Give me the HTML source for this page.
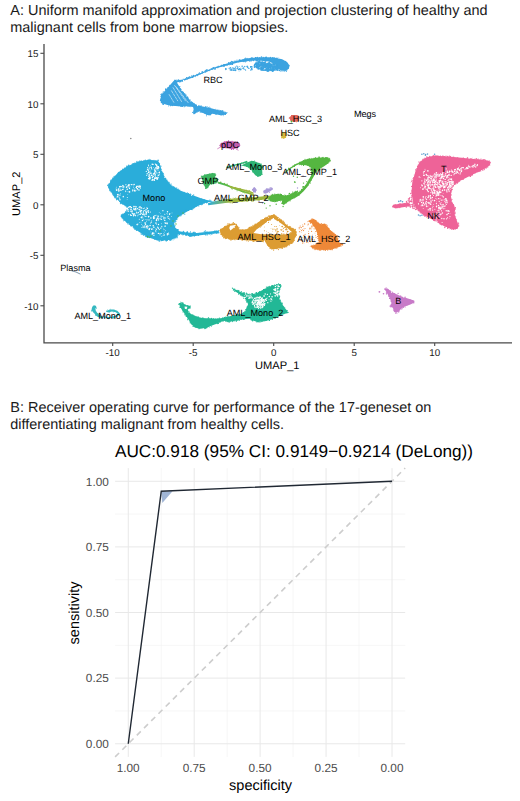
<!DOCTYPE html>
<html><head><meta charset="utf-8"><title>Figure</title>
<style>
html,body{margin:0;padding:0;background:#fff;}
body{width:520px;height:801px;overflow:hidden;}
svg{display:block;font-family:"Liberation Sans",sans-serif;text-rendering:geometricPrecision;}
.cap{font-size:14.46px;fill:#1a1a1a;}
.lab{font-size:9.1px;fill:#000;text-anchor:middle;}
.tk{font-size:9.8px;fill:#1a1a1a;}
.rtk{font-size:11.8px;fill:#4d4d4d;}
</style></head><body>
<svg width="520" height="801" viewBox="0 0 520 801">
<defs>
<filter id="rough" x="-5%" y="-5%" width="110%" height="110%"><feTurbulence type="fractalNoise" baseFrequency="0.35" numOctaves="2" seed="3" result="n"/><feDisplacementMap in="SourceGraphic" in2="n" scale="1.8" xChannelSelector="R" yChannelSelector="G"/></filter>
<filter id="rough2" x="-5%" y="-5%" width="110%" height="110%"><feTurbulence type="fractalNoise" baseFrequency="0.5" numOctaves="2" seed="5" result="n"/><feDisplacementMap in="SourceGraphic" in2="n" scale="1.1" xChannelSelector="R" yChannelSelector="G"/></filter>
</defs>
<rect width="520" height="801" fill="#fff"/>
<g class="cap"><text x="10.3" y="15">A: Uniform manifold approximation and projection clustering of healthy and</text><text x="10.3" y="32">malignant cells from bone marrow biopsies.</text>
<text x="10.3" y="412">B: Receiver operating curve for performance of the 17-geneset on</text><text x="10.3" y="429">differentiating malignant from healthy cells.</text></g>
<g id="umap">
<g fill="#3ba3e0">
<polygon points="173.8,80.8 183.1,79.4 190.8,76.8 198.5,73.7 206.2,70.8 215.0,67.5 222.7,64.7 230.4,62.4 238.1,60.5 245.8,58.5 253.5,57.8 261.2,57.3 268.8,57.3 276.5,57.9 282.7,59.6 287.3,62.2 289.6,65.8 288.8,68.8 285.8,70.8 281.2,70.8 278.1,68.8 276.5,65.8 274.2,63.5 268.8,61.6 261.2,60.7 253.5,60.5 245.8,61.2 238.1,62.5 230.4,64.4 222.7,66.4 215.0,68.4 206.2,72.0 198.5,75.1 190.8,78.2 183.1,80.9 176.9,82.6 181.5,90.0 186.2,96.2 190.8,100.8 195.4,104.6 201.5,106.2 209.2,107.7 216.9,109.7 223.1,111.2 226.9,112.8 225.4,114.6 221.5,115.4 216.9,114.6 212.3,113.8 209.2,115.4 206.2,114.6 201.5,112.3 198.5,110.8 196.2,113.1 193.8,114.6 193.1,111.5 193.8,108.5 193.1,106.9 187.7,106.2 178.5,106.2 169.2,105.4 160.8,103.1 160.8,95.4" filter="url(#rough)"/>
<circle cx="281.8" cy="71.3" r="0.38"/><circle cx="200.0" cy="74.5" r="0.53"/><circle cx="188.7" cy="77.5" r="0.38"/><circle cx="244.0" cy="61.3" r="0.43"/><circle cx="184.6" cy="93.4" r="0.49"/><circle cx="168.0" cy="88.3" r="0.45"/><circle cx="230.4" cy="62.7" r="0.64"/><circle cx="244.3" cy="58.6" r="0.48"/><circle cx="195.6" cy="76.3" r="0.42"/><circle cx="200.9" cy="106.2" r="0.55"/><circle cx="232.2" cy="64.5" r="0.59"/><circle cx="270.4" cy="57.3" r="0.66"/><circle cx="220.6" cy="111.6" r="0.39"/><circle cx="246.5" cy="60.9" r="0.52"/><circle cx="189.2" cy="76.7" r="0.55"/><circle cx="184.2" cy="106.7" r="0.56"/><circle cx="182.5" cy="81.1" r="0.68"/><circle cx="224.0" cy="65.9" r="0.60"/><circle cx="190.2" cy="99.6" r="0.45"/><circle cx="259.8" cy="60.6" r="0.51"/><circle cx="239.8" cy="60.2" r="0.62"/><circle cx="224.3" cy="64.6" r="0.65"/><circle cx="205.0" cy="71.2" r="0.66"/><circle cx="198.9" cy="110.7" r="0.50"/><circle cx="271.4" cy="61.7" r="0.40"/><circle cx="243.0" cy="59.5" r="0.52"/><circle cx="179.5" cy="81.9" r="0.50"/><circle cx="265.8" cy="61.0" r="0.59"/><circle cx="207.5" cy="71.0" r="0.37"/><circle cx="174.6" cy="105.1" r="0.63"/><circle cx="257.0" cy="60.7" r="0.57"/><circle cx="198.6" cy="73.8" r="0.41"/><circle cx="276.9" cy="66.5" r="0.40"/><circle cx="213.4" cy="68.1" r="0.66"/><circle cx="181.1" cy="89.3" r="0.47"/><circle cx="269.1" cy="62.1" r="0.70"/><circle cx="227.1" cy="65.2" r="0.39"/><circle cx="276.3" cy="66.2" r="0.41"/><circle cx="183.7" cy="79.2" r="0.40"/><circle cx="197.7" cy="75.6" r="0.69"/><circle cx="189.3" cy="106.1" r="0.48"/><circle cx="239.3" cy="59.8" r="0.62"/><circle cx="279.5" cy="70.4" r="0.69"/><circle cx="193.6" cy="106.9" r="0.61"/><circle cx="263.3" cy="57.3" r="0.36"/><circle cx="185.1" cy="79.0" r="0.59"/><circle cx="161.1" cy="94.4" r="0.70"/><circle cx="161.3" cy="94.8" r="0.43"/><circle cx="251.4" cy="58.5" r="0.67"/><circle cx="192.8" cy="112.4" r="0.63"/><circle cx="206.6" cy="69.8" r="0.62"/><circle cx="225.4" cy="114.4" r="0.63"/><circle cx="278.7" cy="68.2" r="0.49"/><circle cx="253.9" cy="60.4" r="0.41"/><circle cx="223.8" cy="65.1" r="0.63"/><circle cx="231.4" cy="61.4" r="0.58"/><circle cx="273.8" cy="63.3" r="0.35"/><circle cx="165.6" cy="89.4" r="0.68"/><circle cx="240.6" cy="61.7" r="0.42"/><circle cx="273.9" cy="58.0" r="0.56"/><circle cx="276.8" cy="58.1" r="0.67"/><circle cx="272.3" cy="63.1" r="0.67"/><circle cx="245.8" cy="61.0" r="0.54"/><circle cx="205.2" cy="72.6" r="0.41"/><circle cx="175.5" cy="80.3" r="0.52"/><circle cx="218.9" cy="110.1" r="0.53"/><circle cx="192.6" cy="77.3" r="0.55"/><circle cx="272.4" cy="58.2" r="0.53"/><circle cx="190.2" cy="77.6" r="0.51"/><circle cx="180.2" cy="88.5" r="0.59"/><circle cx="232.3" cy="63.7" r="0.68"/><circle cx="209.4" cy="107.0" r="0.44"/><circle cx="191.6" cy="77.8" r="0.40"/><circle cx="221.1" cy="65.3" r="0.43"/><circle cx="202.2" cy="71.6" r="0.66"/><circle cx="234.1" cy="61.0" r="0.40"/><circle cx="181.6" cy="106.1" r="0.68"/><circle cx="253.6" cy="60.6" r="0.64"/><circle cx="236.7" cy="61.0" r="0.47"/><circle cx="250.6" cy="58.5" r="0.36"/><circle cx="193.0" cy="77.2" r="0.47"/><circle cx="183.2" cy="92.4" r="0.69"/><circle cx="210.5" cy="114.8" r="0.44"/><circle cx="189.7" cy="76.9" r="0.40"/><circle cx="245.4" cy="61.0" r="0.44"/><circle cx="232.6" cy="61.7" r="0.60"/><circle cx="209.3" cy="70.0" r="0.50"/><circle cx="202.7" cy="72.1" r="0.63"/><circle cx="206.7" cy="70.5" r="0.65"/><circle cx="231.9" cy="64.3" r="0.67"/><circle cx="280.7" cy="59.3" r="0.43"/><circle cx="216.6" cy="67.0" r="0.42"/><circle cx="286.1" cy="71.1" r="0.45"/><circle cx="213.9" cy="69.2" r="0.36"/><circle cx="273.9" cy="57.7" r="0.54"/><circle cx="247.5" cy="58.4" r="0.39"/><circle cx="198.5" cy="111.1" r="0.64"/><circle cx="256.3" cy="60.6" r="0.69"/><circle cx="276.6" cy="65.1" r="0.57"/><circle cx="252.0" cy="60.7" r="0.40"/><circle cx="201.6" cy="72.2" r="0.41"/><circle cx="207.3" cy="69.9" r="0.58"/><circle cx="285.7" cy="61.6" r="0.51"/><circle cx="235.2" cy="61.3" r="0.69"/><circle cx="166.1" cy="89.1" r="0.69"/><circle cx="287.1" cy="70.0" r="0.48"/><circle cx="223.6" cy="66.1" r="0.53"/><circle cx="175.8" cy="80.6" r="0.49"/><circle cx="190.8" cy="76.9" r="0.43"/><circle cx="180.3" cy="81.4" r="0.58"/><circle cx="215.8" cy="109.1" r="0.46"/><circle cx="170.0" cy="85.9" r="0.58"/><circle cx="191.7" cy="75.9" r="0.57"/><circle cx="222.7" cy="110.9" r="0.53"/><circle cx="212.4" cy="69.0" r="0.64"/><circle cx="181.9" cy="81.0" r="0.59"/><circle cx="265.1" cy="57.3" r="0.48"/><circle cx="215.0" cy="67.2" r="0.57"/><circle cx="183.7" cy="92.8" r="0.35"/><circle cx="206.7" cy="114.3" r="0.54"/><circle cx="193.9" cy="103.1" r="0.44"/><circle cx="203.0" cy="72.5" r="0.42"/><circle cx="225.3" cy="111.9" r="0.48"/><circle cx="221.8" cy="66.0" r="0.57"/><circle cx="188.5" cy="98.4" r="0.44"/><circle cx="226.1" cy="112.9" r="0.35"/><circle cx="197.7" cy="74.5" r="0.59"/><circle cx="199.2" cy="106.0" r="0.51"/><circle cx="227.7" cy="65.7" r="0.42"/><circle cx="167.9" cy="87.5" r="0.51"/><circle cx="198.9" cy="110.7" r="0.44"/><circle cx="256.9" cy="57.5" r="0.55"/><circle cx="228.3" cy="62.6" r="0.40"/><circle cx="197.7" cy="110.8" r="0.60"/><circle cx="265.8" cy="57.1" r="0.36"/><circle cx="174.9" cy="80.6" r="0.46"/><circle cx="228.6" cy="63.1" r="0.64"/><circle cx="174.6" cy="80.0" r="0.39"/><circle cx="163.5" cy="103.1" r="0.45"/><circle cx="264.4" cy="62.0" r="0.56"/><circle cx="269.8" cy="62.1" r="0.37"/><circle cx="213.7" cy="67.8" r="0.68"/><circle cx="272.8" cy="58.0" r="0.42"/><circle cx="265.6" cy="60.9" r="0.63"/><circle cx="185.8" cy="94.3" r="0.54"/><circle cx="217.5" cy="109.9" r="0.51"/><circle cx="224.5" cy="114.5" r="0.37"/><circle cx="163.8" cy="104.1" r="0.47"/><circle cx="289.5" cy="65.2" r="0.44"/><circle cx="192.1" cy="102.5" r="0.49"/><circle cx="239.5" cy="60.4" r="0.67"/><circle cx="215.0" cy="69.2" r="0.70"/><circle cx="233.8" cy="63.8" r="0.38"/><circle cx="276.8" cy="65.9" r="0.44"/><circle cx="187.5" cy="79.1" r="0.49"/><circle cx="247.9" cy="60.9" r="0.47"/><circle cx="198.1" cy="74.7" r="0.39"/><circle cx="212.0" cy="68.9" r="0.43"/><circle cx="281.6" cy="59.7" r="0.51"/><circle cx="161.6" cy="94.3" r="0.36"/><circle cx="186.6" cy="77.4" r="0.52"/><circle cx="180.6" cy="81.7" r="0.67"/><circle cx="197.4" cy="111.6" r="0.44"/><circle cx="216.6" cy="67.3" r="0.59"/><circle cx="160.7" cy="99.4" r="0.62"/><circle cx="230.6" cy="64.3" r="0.62"/><circle cx="266.4" cy="57.1" r="0.46"/><circle cx="223.7" cy="64.9" r="0.59"/><circle cx="218.0" cy="66.7" r="0.55"/><circle cx="258.9" cy="61.1" r="0.35"/><circle cx="288.3" cy="67.9" r="0.58"/><circle cx="180.7" cy="106.2" r="0.44"/><circle cx="162.9" cy="92.6" r="0.36"/><circle cx="214.2" cy="68.3" r="0.44"/><circle cx="196.2" cy="104.7" r="0.36"/><circle cx="276.8" cy="67.5" r="0.42"/><circle cx="207.0" cy="114.4" r="0.42"/><circle cx="165.3" cy="90.6" r="0.43"/><circle cx="261.4" cy="57.0" r="0.68"/><circle cx="215.5" cy="68.5" r="0.50"/><circle cx="195.4" cy="104.4" r="0.49"/><circle cx="258.1" cy="57.5" r="0.37"/><circle cx="197.0" cy="74.5" r="0.66"/><circle cx="223.0" cy="111.0" r="0.47"/><circle cx="247.2" cy="58.2" r="0.36"/><circle cx="194.7" cy="104.5" r="0.47"/><circle cx="240.5" cy="60.0" r="0.47"/><circle cx="162.3" cy="95.1" r="0.42"/><circle cx="271.9" cy="62.0" r="0.50"/><circle cx="193.1" cy="75.8" r="0.67"/><circle cx="249.3" cy="58.7" r="0.36"/><circle cx="249.7" cy="60.3" r="0.36"/><circle cx="188.6" cy="78.1" r="0.44"/><circle cx="226.6" cy="113.3" r="0.45"/><circle cx="162.0" cy="93.6" r="0.60"/><circle cx="284.5" cy="70.9" r="0.61"/><circle cx="167.1" cy="104.3" r="0.36"/><circle cx="265.7" cy="57.4" r="0.68"/><circle cx="259.5" cy="61.0" r="0.52"/><circle cx="163.2" cy="104.3" r="0.61"/><circle cx="197.7" cy="111.1" r="0.46"/><circle cx="282.9" cy="71.3" r="0.38"/><circle cx="251.5" cy="57.7" r="0.37"/><circle cx="187.1" cy="77.8" r="0.69"/><circle cx="181.4" cy="106.1" r="0.38"/><circle cx="211.0" cy="68.8" r="0.51"/><circle cx="266.3" cy="57.6" r="0.59"/><circle cx="226.4" cy="113.3" r="0.39"/><circle cx="193.1" cy="112.6" r="0.48"/><circle cx="224.4" cy="112.0" r="0.44"/><circle cx="234.1" cy="61.3" r="0.46"/><circle cx="256.0" cy="60.6" r="0.43"/><circle cx="202.1" cy="112.0" r="0.39"/><circle cx="224.0" cy="65.5" r="0.67"/><circle cx="189.9" cy="77.2" r="0.42"/><circle cx="165.7" cy="88.7" r="0.48"/><circle cx="188.0" cy="106.3" r="0.62"/><circle cx="161.1" cy="98.4" r="0.57"/><circle cx="259.7" cy="57.5" r="0.42"/><circle cx="274.8" cy="57.5" r="0.42"/><circle cx="178.2" cy="80.5" r="0.41"/><circle cx="286.4" cy="71.2" r="0.54"/><circle cx="199.0" cy="73.8" r="0.54"/><circle cx="187.4" cy="97.4" r="0.59"/><circle cx="249.9" cy="61.1" r="0.68"/><circle cx="285.8" cy="70.5" r="0.50"/><circle cx="189.3" cy="106.3" r="0.42"/><circle cx="220.3" cy="110.6" r="0.67"/><circle cx="244.4" cy="61.1" r="0.66"/><circle cx="229.3" cy="64.7" r="0.54"/><circle cx="187.8" cy="97.6" r="0.57"/><circle cx="265.7" cy="61.3" r="0.45"/><circle cx="205.8" cy="72.1" r="0.52"/><circle cx="204.3" cy="113.5" r="0.39"/><circle cx="161.2" cy="99.2" r="0.37"/><circle cx="163.2" cy="104.4" r="0.57"/><circle cx="197.5" cy="112.6" r="0.43"/><circle cx="252.5" cy="60.1" r="0.41"/><circle cx="259.7" cy="57.6" r="0.48"/><circle cx="221.8" cy="65.6" r="0.66"/><circle cx="189.7" cy="76.7" r="0.36"/><circle cx="193.8" cy="113.5" r="0.54"/><circle cx="184.0" cy="93.8" r="0.55"/><circle cx="243.2" cy="61.3" r="0.50"/><circle cx="183.1" cy="79.0" r="0.43"/><circle cx="220.3" cy="114.8" r="0.41"/><circle cx="224.5" cy="66.1" r="0.50"/><circle cx="209.3" cy="69.6" r="0.36"/><circle cx="187.0" cy="96.8" r="0.62"/><circle cx="209.8" cy="70.8" r="0.48"/><circle cx="161.2" cy="96.5" r="0.70"/><circle cx="222.0" cy="110.7" r="0.69"/><circle cx="217.7" cy="67.7" r="0.41"/><circle cx="210.5" cy="114.8" r="0.47"/><circle cx="223.6" cy="115.7" r="0.45"/><circle cx="200.3" cy="111.9" r="0.67"/><circle cx="256.0" cy="58.0" r="0.46"/><circle cx="188.7" cy="77.7" r="0.68"/><circle cx="201.1" cy="105.9" r="0.62"/><circle cx="218.2" cy="66.0" r="0.48"/><circle cx="185.0" cy="106.0" r="0.66"/><circle cx="215.2" cy="67.6" r="0.49"/><circle cx="206.6" cy="115.8" r="0.55"/><circle cx="270.2" cy="61.7" r="0.41"/><circle cx="227.0" cy="112.7" r="0.44"/><circle cx="187.7" cy="97.2" r="0.58"/><circle cx="286.1" cy="70.7" r="0.40"/><circle cx="181.0" cy="90.0" r="0.66"/><circle cx="225.4" cy="64.4" r="0.36"/><circle cx="174.8" cy="80.7" r="0.48"/><circle cx="262.2" cy="57.1" r="0.42"/><circle cx="183.1" cy="92.4" r="0.68"/><circle cx="270.6" cy="57.6" r="0.57"/><circle cx="186.2" cy="105.8" r="0.44"/><circle cx="178.3" cy="79.7" r="0.47"/><circle cx="188.4" cy="99.4" r="0.61"/><circle cx="272.6" cy="57.5" r="0.54"/><circle cx="251.5" cy="60.8" r="0.62"/><circle cx="178.1" cy="79.8" r="0.40"/><circle cx="252.1" cy="57.6" r="0.57"/><circle cx="201.0" cy="112.3" r="0.46"/><circle cx="193.6" cy="75.4" r="0.60"/><circle cx="176.8" cy="79.9" r="0.51"/><circle cx="225.4" cy="112.3" r="0.39"/><circle cx="266.2" cy="57.4" r="0.61"/><circle cx="207.5" cy="106.8" r="0.44"/><circle cx="192.6" cy="77.4" r="0.53"/><circle cx="278.8" cy="58.0" r="0.43"/><circle cx="182.8" cy="106.2" r="0.43"/><circle cx="227.0" cy="112.4" r="0.46"/><circle cx="182.3" cy="106.4" r="0.67"/><circle cx="184.8" cy="94.1" r="0.69"/><circle cx="226.1" cy="65.1" r="0.65"/><circle cx="238.7" cy="62.0" r="0.46"/><circle cx="257.4" cy="57.4" r="0.67"/><circle cx="230.5" cy="62.4" r="0.68"/><circle cx="275.7" cy="65.0" r="0.36"/><circle cx="205.8" cy="106.7" r="0.61"/><circle cx="199.4" cy="73.0" r="0.64"/><circle cx="198.7" cy="110.8" r="0.65"/><circle cx="168.6" cy="105.1" r="0.42"/><circle cx="218.2" cy="66.7" r="0.63"/><circle cx="186.1" cy="95.3" r="0.45"/><circle cx="213.3" cy="68.6" r="0.42"/><circle cx="283.4" cy="70.9" r="0.44"/><circle cx="285.8" cy="61.1" r="0.46"/><circle cx="163.3" cy="91.8" r="0.57"/><circle cx="186.0" cy="78.5" r="0.62"/><circle cx="275.0" cy="63.9" r="0.43"/><circle cx="190.4" cy="106.8" r="0.41"/><circle cx="174.6" cy="81.3" r="0.69"/><circle cx="175.2" cy="80.5" r="0.63"/><circle cx="245.9" cy="58.5" r="0.64"/><circle cx="277.7" cy="58.1" r="0.43"/><circle cx="208.8" cy="107.6" r="0.57"/><circle cx="205.7" cy="70.5" r="0.63"/><circle cx="184.1" cy="94.0" r="0.49"/><circle cx="178.9" cy="106.5" r="0.36"/><circle cx="255.1" cy="58.4" r="0.53"/><circle cx="262.7" cy="60.7" r="0.51"/><circle cx="201.7" cy="73.2" r="0.58"/><circle cx="274.5" cy="64.0" r="0.65"/><circle cx="194.2" cy="103.4" r="0.50"/><circle cx="216.1" cy="114.4" r="0.51"/><circle cx="180.4" cy="106.4" r="0.46"/><circle cx="210.5" cy="107.8" r="0.40"/><circle cx="272.0" cy="58.0" r="0.41"/><circle cx="280.3" cy="71.0" r="0.61"/><circle cx="213.8" cy="67.9" r="0.48"/><circle cx="169.6" cy="85.2" r="0.50"/><circle cx="250.9" cy="57.9" r="0.42"/><circle cx="259.1" cy="60.7" r="0.63"/><circle cx="206.0" cy="107.1" r="0.51"/><circle cx="228.9" cy="62.5" r="0.61"/><circle cx="170.6" cy="105.7" r="0.61"/><circle cx="245.3" cy="61.8" r="0.66"/><circle cx="215.8" cy="113.8" r="0.59"/><circle cx="187.7" cy="98.0" r="0.57"/><circle cx="211.5" cy="68.8" r="0.60"/><circle cx="184.7" cy="94.6" r="0.51"/><circle cx="182.3" cy="91.9" r="0.68"/><circle cx="245.3" cy="58.1" r="0.49"/><circle cx="217.8" cy="67.7" r="0.54"/><circle cx="237.0" cy="60.0" r="0.53"/><circle cx="212.9" cy="67.9" r="0.60"/><circle cx="208.7" cy="70.3" r="0.53"/><circle cx="249.9" cy="60.8" r="0.59"/><circle cx="257.1" cy="60.4" r="0.69"/><circle cx="272.3" cy="62.8" r="0.49"/><circle cx="178.9" cy="80.1" r="0.59"/><circle cx="273.3" cy="63.4" r="0.61"/><circle cx="160.5" cy="100.5" r="0.63"/><circle cx="257.3" cy="60.8" r="0.62"/><circle cx="202.1" cy="112.4" r="0.55"/><circle cx="263.6" cy="57.2" r="0.57"/><circle cx="199.1" cy="110.6" r="0.45"/><circle cx="195.8" cy="76.8" r="0.47"/><circle cx="193.7" cy="108.6" r="0.44"/><circle cx="243.3" cy="61.6" r="0.60"/><circle cx="285.4" cy="61.4" r="0.52"/><circle cx="242.0" cy="61.4" r="0.48"/><circle cx="162.8" cy="103.5" r="0.64"/><circle cx="172.0" cy="105.4" r="0.64"/><circle cx="185.7" cy="95.4" r="0.68"/><circle cx="192.3" cy="102.2" r="0.40"/><circle cx="266.5" cy="57.0" r="0.40"/><circle cx="172.7" cy="105.5" r="0.66"/><circle cx="179.8" cy="86.6" r="0.66"/><circle cx="210.6" cy="114.6" r="0.59"/><circle cx="202.0" cy="73.3" r="0.66"/>
</g>
<g stroke="#fff" stroke-width="0.55" fill="none" stroke-linecap="round" stroke-dasharray="2.2 1.3">
<path d="M174.6 85.4 L185.4 100.8"/>
<path d="M173.1 87.7 L181.5 101.5"/>
<path d="M171.5 90.8 L177.7 100.8"/>
<path d="M176.2 86.9 L188.5 103.1"/>
<path d="M169.2 94.6 L173.8 102.3"/>
</g>
<g fill="#3ba3e0">
<circle cx="267.1" cy="63.9" r="0.62"/><circle cx="256.9" cy="66.2" r="0.53"/><circle cx="265.0" cy="62.6" r="0.75"/><circle cx="265.7" cy="66.7" r="0.93"/><circle cx="265.0" cy="67.0" r="0.83"/><circle cx="274.2" cy="65.0" r="0.71"/><circle cx="269.1" cy="67.7" r="0.51"/><circle cx="268.5" cy="68.2" r="0.97"/><circle cx="266.0" cy="66.1" r="0.95"/><circle cx="268.9" cy="64.6" r="0.93"/><circle cx="262.5" cy="66.0" r="0.76"/><circle cx="264.2" cy="65.5" r="0.78"/><circle cx="273.8" cy="64.2" r="0.91"/><circle cx="263.4" cy="66.3" r="0.64"/><circle cx="269.6" cy="69.3" r="0.67"/><circle cx="261.3" cy="64.2" r="0.79"/><circle cx="269.1" cy="69.2" r="0.52"/><circle cx="271.3" cy="70.3" r="0.77"/><circle cx="276.1" cy="67.4" r="0.83"/><circle cx="272.9" cy="70.5" r="0.81"/><circle cx="268.6" cy="67.6" r="0.85"/><circle cx="268.1" cy="68.2" r="0.61"/><circle cx="269.9" cy="65.9" r="0.88"/><circle cx="256.0" cy="63.0" r="0.52"/><circle cx="272.5" cy="70.6" r="0.83"/><circle cx="262.5" cy="69.6" r="0.89"/><circle cx="267.3" cy="63.8" r="0.65"/><circle cx="263.8" cy="64.4" r="0.72"/><circle cx="269.3" cy="70.8" r="0.53"/><circle cx="267.6" cy="70.6" r="0.72"/><circle cx="268.0" cy="70.8" r="0.99"/><circle cx="265.2" cy="65.4" r="0.55"/><circle cx="269.3" cy="63.3" r="0.58"/><circle cx="259.4" cy="68.7" r="0.59"/><circle cx="271.0" cy="70.0" r="0.86"/><circle cx="270.9" cy="65.9" r="0.97"/><circle cx="261.1" cy="68.7" r="0.58"/><circle cx="274.7" cy="66.2" r="0.53"/><circle cx="262.5" cy="67.1" r="0.72"/><circle cx="273.1" cy="64.9" r="0.82"/><circle cx="269.0" cy="65.5" r="0.69"/><circle cx="272.8" cy="70.9" r="0.89"/><circle cx="267.4" cy="64.2" r="0.53"/><circle cx="277.4" cy="68.4" r="0.91"/><circle cx="261.6" cy="67.4" r="0.99"/><circle cx="273.9" cy="67.4" r="0.65"/><circle cx="264.0" cy="70.3" r="0.69"/><circle cx="270.3" cy="67.4" r="0.95"/><circle cx="273.3" cy="64.1" r="0.50"/><circle cx="259.9" cy="65.5" r="0.79"/><circle cx="273.5" cy="70.3" r="0.52"/><circle cx="274.0" cy="69.5" r="0.93"/><circle cx="267.5" cy="64.0" r="0.93"/><circle cx="273.3" cy="68.2" r="0.96"/><circle cx="262.0" cy="62.0" r="0.78"/><circle cx="271.9" cy="70.8" r="0.62"/><circle cx="268.4" cy="68.1" r="0.73"/><circle cx="258.5" cy="63.8" r="0.88"/><circle cx="272.9" cy="65.9" r="0.54"/><circle cx="273.3" cy="69.1" r="0.62"/><circle cx="267.7" cy="70.4" r="0.94"/><circle cx="266.3" cy="66.1" r="0.79"/><circle cx="258.1" cy="63.1" r="0.59"/><circle cx="270.7" cy="64.9" r="0.78"/><circle cx="263.4" cy="66.5" r="0.57"/><circle cx="262.7" cy="62.2" r="0.82"/><circle cx="268.2" cy="64.7" r="0.76"/><circle cx="277.8" cy="70.1" r="0.74"/><circle cx="267.4" cy="63.9" r="0.89"/><circle cx="272.3" cy="69.6" r="0.98"/><circle cx="258.4" cy="63.0" r="0.54"/><circle cx="254.7" cy="66.9" r="0.94"/><circle cx="268.2" cy="65.3" r="0.56"/><circle cx="267.4" cy="67.8" r="0.98"/><circle cx="269.9" cy="65.2" r="0.72"/><circle cx="275.7" cy="69.8" r="0.52"/><circle cx="272.8" cy="68.5" r="0.82"/><circle cx="276.6" cy="68.1" r="0.65"/><circle cx="268.0" cy="69.0" r="0.55"/><circle cx="261.4" cy="63.8" r="0.56"/><circle cx="265.3" cy="62.9" r="0.62"/><circle cx="257.0" cy="68.1" r="0.51"/><circle cx="274.8" cy="70.3" r="0.57"/><circle cx="276.3" cy="69.8" r="0.81"/><circle cx="264.6" cy="64.7" r="0.91"/><circle cx="265.2" cy="67.6" r="0.57"/><circle cx="258.9" cy="61.7" r="0.86"/><circle cx="263.6" cy="62.8" r="0.64"/><circle cx="274.1" cy="64.6" r="0.58"/><circle cx="265.5" cy="64.4" r="0.95"/><circle cx="269.9" cy="63.3" r="0.74"/><circle cx="260.5" cy="63.8" r="0.60"/><circle cx="255.9" cy="64.1" r="0.95"/><circle cx="261.9" cy="62.6" r="0.50"/><circle cx="273.9" cy="66.6" r="0.59"/><circle cx="258.8" cy="67.0" r="0.57"/><circle cx="268.4" cy="66.3" r="0.64"/><circle cx="258.5" cy="67.5" r="0.85"/><circle cx="273.4" cy="67.2" r="0.60"/><circle cx="263.5" cy="68.6" r="0.53"/><circle cx="273.4" cy="64.6" r="0.92"/><circle cx="274.7" cy="66.2" r="0.51"/><circle cx="275.9" cy="66.1" r="0.94"/><circle cx="260.0" cy="63.1" r="0.92"/><circle cx="262.5" cy="62.8" r="0.69"/><circle cx="266.3" cy="65.7" r="0.76"/><circle cx="273.6" cy="70.1" r="0.66"/><circle cx="271.0" cy="65.1" r="0.88"/><circle cx="276.9" cy="66.3" r="0.76"/><circle cx="266.5" cy="66.7" r="0.51"/><circle cx="258.0" cy="62.2" r="0.63"/><circle cx="268.2" cy="67.1" r="0.76"/><circle cx="274.9" cy="68.5" r="0.52"/><circle cx="256.5" cy="66.2" r="0.75"/><circle cx="260.3" cy="62.4" r="0.70"/><circle cx="256.8" cy="67.3" r="0.93"/><circle cx="257.1" cy="67.1" r="0.87"/><circle cx="276.5" cy="65.2" r="0.71"/><circle cx="274.1" cy="66.6" r="0.70"/><circle cx="276.6" cy="69.2" r="0.67"/><circle cx="259.4" cy="64.6" r="0.72"/><circle cx="277.6" cy="69.4" r="0.96"/><circle cx="273.5" cy="69.9" r="0.53"/><circle cx="263.9" cy="67.7" r="0.68"/><circle cx="264.1" cy="66.4" r="0.51"/><circle cx="272.6" cy="70.8" r="0.82"/><circle cx="273.4" cy="70.3" r="0.94"/><circle cx="260.0" cy="68.1" r="0.64"/><circle cx="266.8" cy="70.7" r="0.81"/><circle cx="259.6" cy="66.5" r="0.72"/><circle cx="261.0" cy="67.8" r="0.56"/><circle cx="268.1" cy="71.0" r="0.76"/><circle cx="260.1" cy="66.0" r="0.77"/><circle cx="257.1" cy="62.4" r="0.57"/><circle cx="260.7" cy="65.3" r="0.64"/><circle cx="259.5" cy="62.1" r="0.77"/><circle cx="274.1" cy="67.4" r="0.79"/><circle cx="269.5" cy="63.2" r="0.86"/><circle cx="264.8" cy="66.8" r="0.81"/><circle cx="265.0" cy="64.4" r="0.62"/><circle cx="258.9" cy="66.4" r="0.69"/><circle cx="262.1" cy="70.0" r="0.62"/><circle cx="267.2" cy="66.2" r="0.64"/><circle cx="263.0" cy="65.7" r="0.87"/><circle cx="256.2" cy="63.5" r="0.98"/><circle cx="261.8" cy="64.8" r="0.84"/><circle cx="268.6" cy="69.9" r="0.91"/><circle cx="266.2" cy="68.8" r="0.87"/><circle cx="272.2" cy="66.1" r="0.89"/><circle cx="270.9" cy="70.6" r="0.56"/><circle cx="272.3" cy="67.2" r="0.75"/><circle cx="277.2" cy="67.0" r="0.71"/><circle cx="272.8" cy="70.2" r="0.80"/><circle cx="262.8" cy="65.8" r="0.73"/><circle cx="271.3" cy="64.2" r="0.70"/><circle cx="267.1" cy="65.1" r="0.66"/><circle cx="272.8" cy="69.9" r="0.75"/><circle cx="264.4" cy="63.1" r="0.65"/><circle cx="257.0" cy="67.1" r="0.79"/><circle cx="261.4" cy="69.8" r="0.92"/><circle cx="267.4" cy="66.3" r="0.96"/><circle cx="272.5" cy="66.7" r="1.00"/><circle cx="266.2" cy="66.5" r="0.84"/><circle cx="263.0" cy="64.8" r="0.80"/><circle cx="270.1" cy="66.6" r="0.55"/><circle cx="262.7" cy="65.3" r="0.78"/><circle cx="267.6" cy="70.2" r="0.98"/><circle cx="265.4" cy="65.7" r="0.81"/><circle cx="266.5" cy="69.6" r="0.59"/><circle cx="273.8" cy="66.4" r="0.56"/><circle cx="275.5" cy="68.3" r="0.91"/><circle cx="277.8" cy="70.3" r="0.71"/><circle cx="257.3" cy="64.1" r="0.76"/><circle cx="265.9" cy="63.1" r="0.59"/><circle cx="269.0" cy="67.4" r="0.68"/><circle cx="254.5" cy="65.4" r="0.89"/><circle cx="261.0" cy="68.3" r="0.50"/><circle cx="261.0" cy="69.8" r="0.79"/><circle cx="265.7" cy="66.9" r="0.63"/><circle cx="269.4" cy="66.6" r="1.00"/><circle cx="267.6" cy="65.4" r="0.56"/><circle cx="256.1" cy="62.2" r="0.59"/><circle cx="266.3" cy="69.6" r="0.81"/><circle cx="261.4" cy="68.5" r="0.68"/><circle cx="257.6" cy="63.9" r="0.55"/><circle cx="275.7" cy="67.2" r="0.67"/><circle cx="264.5" cy="65.1" r="0.53"/><circle cx="275.4" cy="67.2" r="0.98"/><circle cx="264.3" cy="67.5" r="0.62"/><circle cx="274.5" cy="64.4" r="0.95"/><circle cx="273.5" cy="64.3" r="0.80"/><circle cx="263.1" cy="68.6" r="0.61"/><circle cx="265.4" cy="69.3" r="0.62"/><circle cx="257.7" cy="64.8" r="0.59"/><circle cx="266.6" cy="65.1" r="0.70"/><circle cx="273.8" cy="64.8" r="0.62"/><circle cx="258.2" cy="64.1" r="0.62"/><circle cx="261.9" cy="62.8" r="0.85"/><circle cx="255.7" cy="63.9" r="0.92"/><circle cx="256.6" cy="65.7" r="0.92"/><circle cx="262.1" cy="68.6" r="0.69"/><circle cx="276.9" cy="66.4" r="0.61"/><circle cx="264.6" cy="62.5" r="0.85"/><circle cx="267.9" cy="64.9" r="0.62"/><circle cx="268.4" cy="63.3" r="0.94"/><circle cx="256.5" cy="66.4" r="0.77"/><circle cx="260.1" cy="69.1" r="0.69"/><circle cx="269.6" cy="67.0" r="0.66"/><circle cx="261.4" cy="68.0" r="0.55"/><circle cx="267.3" cy="64.9" r="0.75"/><circle cx="260.8" cy="61.8" r="0.66"/><circle cx="259.0" cy="62.5" r="0.86"/><circle cx="260.4" cy="65.3" r="0.95"/><circle cx="272.5" cy="70.3" r="0.93"/><circle cx="256.7" cy="64.0" r="0.51"/><circle cx="270.2" cy="68.0" r="0.68"/><circle cx="263.6" cy="67.9" r="0.85"/><circle cx="262.1" cy="67.6" r="0.59"/><circle cx="271.5" cy="68.5" r="0.52"/><circle cx="258.3" cy="64.3" r="0.69"/><circle cx="274.1" cy="67.0" r="0.86"/><circle cx="259.7" cy="65.6" r="0.84"/><circle cx="274.0" cy="69.2" r="0.64"/><circle cx="259.5" cy="62.3" r="0.90"/><circle cx="270.6" cy="65.2" r="0.87"/><circle cx="273.9" cy="64.1" r="0.54"/><circle cx="276.8" cy="65.5" r="0.97"/><circle cx="270.5" cy="68.8" r="0.91"/><circle cx="268.9" cy="65.8" r="0.53"/><circle cx="270.6" cy="65.6" r="0.76"/><circle cx="270.8" cy="69.5" r="0.63"/><circle cx="269.2" cy="66.8" r="0.62"/><circle cx="254.9" cy="64.8" r="0.71"/><circle cx="258.4" cy="64.4" r="0.57"/><circle cx="270.9" cy="68.1" r="0.62"/><circle cx="259.4" cy="66.5" r="0.72"/><circle cx="276.5" cy="64.8" r="0.65"/><circle cx="267.3" cy="64.6" r="0.91"/><circle cx="267.0" cy="69.0" r="0.58"/><circle cx="269.9" cy="67.3" r="0.73"/><circle cx="272.3" cy="69.7" r="0.56"/><circle cx="260.6" cy="64.9" r="0.60"/><circle cx="254.9" cy="64.0" r="0.60"/><circle cx="270.7" cy="65.8" r="0.56"/><circle cx="261.4" cy="66.0" r="0.68"/><circle cx="257.6" cy="61.9" r="0.51"/><circle cx="256.1" cy="66.2" r="0.72"/><circle cx="258.1" cy="66.8" r="0.50"/><circle cx="276.1" cy="67.8" r="0.81"/><circle cx="276.5" cy="67.9" r="0.63"/><circle cx="259.5" cy="62.6" r="0.51"/><circle cx="272.5" cy="69.8" r="0.65"/><circle cx="258.0" cy="67.7" r="0.92"/><circle cx="272.8" cy="69.7" r="0.87"/><circle cx="261.5" cy="63.1" r="0.91"/><circle cx="261.3" cy="65.0" r="0.78"/><circle cx="262.6" cy="69.7" r="0.62"/><circle cx="254.5" cy="67.0" r="0.81"/><circle cx="273.6" cy="68.4" r="0.95"/><circle cx="276.7" cy="66.2" r="0.75"/><circle cx="257.3" cy="64.2" r="0.79"/><circle cx="257.5" cy="65.7" r="0.98"/><circle cx="264.3" cy="63.1" r="0.86"/><circle cx="274.5" cy="69.3" r="0.71"/><circle cx="260.4" cy="68.0" r="0.76"/><circle cx="263.8" cy="64.6" r="0.72"/><circle cx="269.9" cy="69.7" r="0.95"/><circle cx="257.5" cy="64.2" r="0.72"/><circle cx="267.3" cy="64.7" r="0.60"/><circle cx="255.6" cy="64.5" r="0.73"/><circle cx="277.1" cy="67.5" r="0.91"/><circle cx="268.5" cy="64.2" r="0.79"/><circle cx="276.9" cy="66.1" r="0.82"/><circle cx="260.8" cy="64.7" r="0.94"/><circle cx="270.2" cy="65.8" r="0.54"/><circle cx="269.7" cy="65.0" r="0.79"/><circle cx="263.7" cy="66.6" r="0.78"/><circle cx="263.2" cy="62.3" r="0.59"/><circle cx="275.4" cy="66.8" r="0.56"/><circle cx="255.8" cy="66.6" r="0.63"/><circle cx="265.5" cy="66.9" r="0.61"/><circle cx="266.1" cy="67.2" r="0.54"/><circle cx="264.3" cy="70.1" r="0.78"/><circle cx="271.1" cy="69.0" r="0.56"/><circle cx="263.1" cy="62.9" r="0.98"/><circle cx="267.3" cy="69.1" r="0.57"/><circle cx="259.3" cy="65.0" r="0.51"/><circle cx="268.1" cy="63.4" r="0.65"/><circle cx="270.9" cy="65.5" r="0.94"/><circle cx="268.8" cy="70.1" r="0.78"/><circle cx="276.0" cy="70.1" r="0.58"/><circle cx="271.8" cy="64.7" r="0.88"/><circle cx="270.2" cy="69.7" r="0.56"/><circle cx="262.6" cy="68.8" r="0.97"/><circle cx="267.0" cy="69.4" r="0.56"/><circle cx="276.2" cy="68.1" r="0.63"/><circle cx="258.2" cy="65.8" r="0.92"/><circle cx="267.1" cy="64.1" r="0.84"/><circle cx="262.8" cy="62.6" r="0.94"/><circle cx="266.7" cy="68.3" r="0.90"/><circle cx="261.9" cy="62.7" r="0.75"/><circle cx="275.0" cy="69.4" r="0.52"/><circle cx="270.2" cy="65.2" r="0.74"/><circle cx="263.1" cy="70.2" r="0.81"/><circle cx="255.3" cy="64.5" r="0.61"/><circle cx="275.5" cy="67.2" r="0.52"/><circle cx="257.6" cy="64.9" r="0.73"/><circle cx="267.7" cy="65.2" r="0.68"/><circle cx="270.0" cy="64.0" r="0.64"/><circle cx="265.8" cy="63.9" r="0.78"/><circle cx="267.3" cy="69.1" r="0.94"/><circle cx="272.5" cy="67.7" r="0.82"/><circle cx="262.4" cy="64.1" r="0.90"/><circle cx="270.2" cy="64.3" r="0.88"/><circle cx="271.7" cy="66.4" r="0.82"/><circle cx="262.1" cy="66.8" r="0.70"/><circle cx="254.9" cy="64.6" r="0.66"/><circle cx="262.5" cy="63.7" r="0.62"/><circle cx="262.1" cy="62.6" r="0.50"/><circle cx="274.9" cy="65.8" r="0.72"/><circle cx="267.5" cy="64.3" r="0.58"/><circle cx="255.1" cy="64.3" r="0.65"/><circle cx="271.3" cy="66.8" r="0.97"/><circle cx="257.9" cy="67.1" r="0.99"/><circle cx="262.2" cy="69.1" r="0.71"/><circle cx="265.4" cy="70.4" r="0.64"/><circle cx="257.5" cy="63.9" r="0.85"/><circle cx="258.8" cy="65.3" r="0.60"/><circle cx="268.3" cy="70.1" r="0.82"/><circle cx="258.3" cy="68.7" r="0.98"/>
<circle cx="242.3" cy="66.2" r="0.67"/><circle cx="250.5" cy="67.7" r="0.40"/><circle cx="229.9" cy="68.8" r="0.70"/><circle cx="230.6" cy="67.6" r="0.65"/><circle cx="243.7" cy="68.1" r="0.62"/><circle cx="236.7" cy="66.0" r="0.60"/><circle cx="234.3" cy="68.6" r="0.59"/><circle cx="231.9" cy="68.4" r="0.36"/><circle cx="252.0" cy="69.0" r="0.75"/><circle cx="225.9" cy="69.3" r="0.64"/><circle cx="247.2" cy="66.3" r="0.68"/><circle cx="236.9" cy="68.8" r="0.59"/><circle cx="240.9" cy="69.5" r="0.59"/><circle cx="234.2" cy="70.0" r="0.45"/><circle cx="245.6" cy="70.1" r="0.66"/><circle cx="233.5" cy="70.2" r="0.74"/><circle cx="237.8" cy="67.4" r="0.56"/><circle cx="252.5" cy="66.5" r="0.35"/><circle cx="238.5" cy="69.5" r="0.66"/><circle cx="231.1" cy="70.1" r="0.39"/><circle cx="226.0" cy="68.6" r="0.57"/><circle cx="235.2" cy="66.6" r="0.42"/><circle cx="247.6" cy="67.2" r="0.74"/><circle cx="239.2" cy="69.4" r="0.49"/><circle cx="248.2" cy="68.4" r="0.48"/><circle cx="243.6" cy="68.1" r="0.70"/><circle cx="226.0" cy="69.0" r="0.51"/><circle cx="243.0" cy="67.0" r="0.45"/><circle cx="232.1" cy="68.2" r="0.44"/><circle cx="230.3" cy="70.1" r="0.61"/><circle cx="230.7" cy="69.0" r="0.41"/><circle cx="232.2" cy="70.0" r="0.68"/><circle cx="232.7" cy="67.7" r="0.54"/><circle cx="251.0" cy="66.7" r="0.62"/><circle cx="242.2" cy="68.3" r="0.58"/><circle cx="250.7" cy="67.0" r="0.70"/><circle cx="235.0" cy="70.2" r="0.70"/><circle cx="251.6" cy="66.6" r="0.64"/><circle cx="244.7" cy="66.3" r="0.49"/><circle cx="251.8" cy="69.8" r="0.70"/><circle cx="231.3" cy="70.3" r="0.63"/><circle cx="225.4" cy="68.6" r="0.44"/><circle cx="237.1" cy="66.4" r="0.36"/><circle cx="250.6" cy="66.5" r="0.54"/><circle cx="228.3" cy="68.2" r="0.42"/><circle cx="244.8" cy="66.6" r="0.65"/><circle cx="239.3" cy="66.4" r="0.49"/><circle cx="239.1" cy="71.0" r="0.49"/><circle cx="250.7" cy="69.9" r="0.46"/><circle cx="229.5" cy="67.3" r="0.38"/><circle cx="225.5" cy="68.7" r="0.51"/><circle cx="240.9" cy="67.8" r="0.35"/><circle cx="244.9" cy="69.5" r="0.57"/><circle cx="240.7" cy="69.7" r="0.74"/><circle cx="250.5" cy="69.9" r="0.51"/><circle cx="233.8" cy="68.2" r="0.74"/><circle cx="235.8" cy="68.0" r="0.51"/><circle cx="252.0" cy="67.2" r="0.59"/><circle cx="235.5" cy="67.1" r="0.43"/><circle cx="225.7" cy="69.7" r="0.48"/><circle cx="243.6" cy="68.9" r="0.48"/><circle cx="239.5" cy="69.1" r="0.75"/><circle cx="231.3" cy="69.4" r="0.65"/><circle cx="235.6" cy="69.8" r="0.51"/><circle cx="240.0" cy="69.3" r="0.62"/><circle cx="233.9" cy="69.3" r="0.57"/><circle cx="230.9" cy="69.3" r="0.46"/><circle cx="251.5" cy="68.5" r="0.64"/><circle cx="239.9" cy="68.5" r="0.44"/><circle cx="240.1" cy="68.8" r="0.56"/><circle cx="248.6" cy="67.1" r="0.42"/><circle cx="248.9" cy="68.4" r="0.61"/><circle cx="235.7" cy="70.5" r="0.68"/><circle cx="234.9" cy="70.3" r="0.56"/><circle cx="237.8" cy="66.3" r="0.51"/><circle cx="237.7" cy="68.5" r="0.67"/><circle cx="247.0" cy="66.6" r="0.62"/><circle cx="235.2" cy="68.7" r="0.45"/><circle cx="235.4" cy="67.7" r="0.50"/><circle cx="241.3" cy="66.1" r="0.42"/>
</g>
<g fill="#2cadda">
<polygon points="108.1,185.4 112.1,178.7 118.8,171.9 126.9,166.5 137.7,161.7 148.5,159.8 157.9,160.6 159.8,163.8 161.4,169.2 164.6,177.3 171.3,185.4 180.8,190.8 191.5,194.8 202.3,198.8 210.4,201.0 213.6,202.1 210.4,201.7 202.3,203.8 194.2,207.9 186.2,211.9 178.1,217.3 174.0,222.7 175.4,228.1 179.4,231.3 186.2,232.4 196.9,232.9 207.7,231.8 218.5,230.5 218.5,233.2 213.1,233.7 202.3,235.1 191.5,236.4 183.5,234.5 178.1,234.0 176.7,237.5 170.0,240.2 157.9,240.5 147.1,237.0 137.7,231.0 126.9,223.0 120.2,216.0 125.6,211.9 129.6,207.9 121.5,203.8 114.8,197.1 108.1,187.7" filter="url(#rough)"/>
<circle cx="175.8" cy="238.2" r="0.43"/><circle cx="135.1" cy="229.0" r="0.65"/><circle cx="164.3" cy="178.2" r="0.57"/><circle cx="204.1" cy="203.6" r="0.48"/><circle cx="177.1" cy="236.7" r="0.58"/><circle cx="141.7" cy="234.1" r="0.55"/><circle cx="127.0" cy="207.5" r="0.60"/><circle cx="203.2" cy="203.2" r="0.37"/><circle cx="161.3" cy="240.8" r="0.52"/><circle cx="125.6" cy="211.8" r="0.56"/><circle cx="173.6" cy="222.3" r="0.50"/><circle cx="175.3" cy="225.8" r="0.52"/><circle cx="187.3" cy="231.8" r="0.61"/><circle cx="193.8" cy="208.6" r="0.54"/><circle cx="156.7" cy="239.8" r="0.43"/><circle cx="129.5" cy="165.2" r="0.38"/><circle cx="162.6" cy="240.3" r="0.59"/><circle cx="177.3" cy="235.8" r="0.59"/><circle cx="186.1" cy="210.4" r="0.64"/><circle cx="123.7" cy="219.6" r="0.53"/><circle cx="109.6" cy="183.4" r="0.44"/><circle cx="201.7" cy="199.5" r="0.54"/><circle cx="186.5" cy="232.5" r="0.46"/><circle cx="125.1" cy="219.9" r="0.44"/><circle cx="165.6" cy="178.1" r="0.48"/><circle cx="173.5" cy="222.7" r="0.48"/><circle cx="145.4" cy="236.6" r="0.54"/><circle cx="120.6" cy="171.1" r="0.49"/><circle cx="207.3" cy="232.2" r="0.63"/><circle cx="193.7" cy="194.9" r="0.56"/><circle cx="176.8" cy="219.5" r="0.66"/><circle cx="122.4" cy="169.4" r="0.37"/><circle cx="126.5" cy="222.2" r="0.41"/><circle cx="126.7" cy="206.5" r="0.52"/><circle cx="190.2" cy="235.8" r="0.42"/><circle cx="133.9" cy="228.5" r="0.42"/><circle cx="138.5" cy="162.1" r="0.68"/><circle cx="188.4" cy="210.4" r="0.67"/><circle cx="185.9" cy="235.2" r="0.59"/><circle cx="118.2" cy="172.5" r="0.43"/><circle cx="213.8" cy="231.6" r="0.40"/><circle cx="128.1" cy="209.8" r="0.40"/><circle cx="146.2" cy="236.1" r="0.36"/><circle cx="200.4" cy="204.4" r="0.54"/><circle cx="134.5" cy="163.0" r="0.50"/><circle cx="189.1" cy="236.3" r="0.39"/><circle cx="128.2" cy="206.6" r="0.53"/><circle cx="193.2" cy="196.2" r="0.52"/><circle cx="125.3" cy="205.8" r="0.65"/><circle cx="218.3" cy="232.0" r="0.40"/><circle cx="187.2" cy="192.4" r="0.43"/><circle cx="127.3" cy="206.5" r="0.69"/><circle cx="213.9" cy="201.7" r="0.37"/><circle cx="208.9" cy="200.8" r="0.61"/><circle cx="161.7" cy="169.4" r="0.37"/><circle cx="205.7" cy="232.4" r="0.63"/><circle cx="218.3" cy="231.3" r="0.53"/><circle cx="136.4" cy="162.0" r="0.55"/><circle cx="210.2" cy="202.2" r="0.41"/><circle cx="160.9" cy="166.2" r="0.64"/><circle cx="122.8" cy="218.9" r="0.38"/><circle cx="121.9" cy="217.7" r="0.54"/><circle cx="143.9" cy="160.6" r="0.54"/><circle cx="184.8" cy="232.4" r="0.49"/><circle cx="165.7" cy="178.6" r="0.66"/><circle cx="183.2" cy="231.9" r="0.68"/><circle cx="178.5" cy="229.8" r="0.59"/><circle cx="172.0" cy="185.5" r="0.44"/><circle cx="114.6" cy="176.1" r="0.45"/><circle cx="122.7" cy="214.7" r="0.43"/><circle cx="218.6" cy="230.4" r="0.37"/><circle cx="176.5" cy="188.2" r="0.36"/><circle cx="211.4" cy="233.1" r="0.47"/><circle cx="141.1" cy="234.1" r="0.35"/><circle cx="120.9" cy="203.9" r="0.38"/><circle cx="177.2" cy="188.1" r="0.40"/><circle cx="213.5" cy="202.2" r="0.43"/><circle cx="209.9" cy="200.2" r="0.63"/><circle cx="174.9" cy="228.3" r="0.67"/><circle cx="163.3" cy="240.1" r="0.57"/><circle cx="131.0" cy="225.8" r="0.60"/><circle cx="212.7" cy="202.9" r="0.59"/><circle cx="166.3" cy="240.9" r="0.68"/><circle cx="126.5" cy="210.1" r="0.63"/><circle cx="216.4" cy="231.0" r="0.62"/><circle cx="123.4" cy="220.7" r="0.54"/><circle cx="120.7" cy="202.9" r="0.63"/><circle cx="179.9" cy="189.9" r="0.42"/><circle cx="175.6" cy="221.2" r="0.67"/><circle cx="185.9" cy="234.7" r="0.62"/><circle cx="147.3" cy="236.2" r="0.64"/><circle cx="192.1" cy="209.6" r="0.64"/><circle cx="210.9" cy="200.9" r="0.63"/><circle cx="108.9" cy="183.9" r="0.39"/><circle cx="141.0" cy="233.7" r="0.51"/><circle cx="210.1" cy="201.3" r="0.65"/><circle cx="211.2" cy="234.1" r="0.44"/><circle cx="179.4" cy="234.4" r="0.63"/><circle cx="145.3" cy="160.2" r="0.64"/><circle cx="162.2" cy="172.7" r="0.48"/><circle cx="171.1" cy="184.1" r="0.66"/><circle cx="194.5" cy="207.2" r="0.53"/><circle cx="109.6" cy="190.2" r="0.41"/><circle cx="193.2" cy="232.7" r="0.68"/><circle cx="176.4" cy="219.3" r="0.47"/><circle cx="137.0" cy="161.4" r="0.53"/><circle cx="202.6" cy="203.7" r="0.58"/><circle cx="128.7" cy="165.3" r="0.69"/><circle cx="207.0" cy="202.0" r="0.48"/><circle cx="190.5" cy="231.7" r="0.52"/><circle cx="206.7" cy="202.7" r="0.64"/><circle cx="186.3" cy="235.1" r="0.61"/><circle cx="122.3" cy="213.6" r="0.36"/><circle cx="206.9" cy="200.7" r="0.66"/><circle cx="154.0" cy="160.0" r="0.37"/><circle cx="196.4" cy="206.2" r="0.45"/><circle cx="159.1" cy="241.0" r="0.50"/><circle cx="111.2" cy="192.0" r="0.59"/><circle cx="201.2" cy="204.6" r="0.59"/><circle cx="189.1" cy="194.3" r="0.64"/><circle cx="147.6" cy="237.4" r="0.53"/><circle cx="122.3" cy="218.4" r="0.41"/><circle cx="201.7" cy="198.6" r="0.48"/><circle cx="114.5" cy="196.2" r="0.46"/><circle cx="120.5" cy="203.1" r="0.50"/><circle cx="140.7" cy="161.6" r="0.48"/><circle cx="114.9" cy="197.6" r="0.67"/><circle cx="177.7" cy="217.8" r="0.62"/><circle cx="202.8" cy="199.5" r="0.51"/><circle cx="204.7" cy="231.4" r="0.45"/><circle cx="207.4" cy="202.3" r="0.45"/><circle cx="207.1" cy="235.2" r="0.36"/><circle cx="136.5" cy="230.3" r="0.68"/><circle cx="184.5" cy="192.3" r="0.54"/><circle cx="162.4" cy="239.9" r="0.63"/><circle cx="141.6" cy="161.6" r="0.69"/><circle cx="205.4" cy="233.9" r="0.49"/><circle cx="121.3" cy="203.2" r="0.49"/><circle cx="143.5" cy="235.0" r="0.66"/><circle cx="194.0" cy="232.7" r="0.67"/><circle cx="150.2" cy="160.1" r="0.49"/><circle cx="183.7" cy="231.4" r="0.55"/><circle cx="192.1" cy="208.6" r="0.65"/><circle cx="149.7" cy="237.6" r="0.59"/><circle cx="161.5" cy="240.4" r="0.66"/><circle cx="167.0" cy="239.7" r="0.66"/><circle cx="149.2" cy="159.2" r="0.56"/><circle cx="188.5" cy="193.7" r="0.64"/><circle cx="187.3" cy="193.5" r="0.38"/><circle cx="190.4" cy="235.8" r="0.48"/><circle cx="181.4" cy="234.6" r="0.46"/><circle cx="108.6" cy="184.1" r="0.45"/><circle cx="122.9" cy="169.1" r="0.63"/><circle cx="117.5" cy="173.2" r="0.43"/><circle cx="207.2" cy="234.8" r="0.55"/><circle cx="169.1" cy="182.3" r="0.64"/><circle cx="142.6" cy="234.2" r="0.62"/><circle cx="113.9" cy="176.4" r="0.37"/><circle cx="207.1" cy="233.9" r="0.49"/><circle cx="186.8" cy="232.3" r="0.65"/><circle cx="108.5" cy="186.0" r="0.47"/><circle cx="110.3" cy="190.4" r="0.40"/><circle cx="176.2" cy="218.8" r="0.51"/><circle cx="212.5" cy="202.1" r="0.45"/><circle cx="163.7" cy="174.7" r="0.50"/><circle cx="164.2" cy="176.2" r="0.44"/><circle cx="205.3" cy="230.9" r="0.61"/><circle cx="119.8" cy="201.1" r="0.60"/><circle cx="124.6" cy="168.2" r="0.65"/><circle cx="174.3" cy="238.1" r="0.47"/><circle cx="158.9" cy="163.1" r="0.46"/><circle cx="118.9" cy="172.5" r="0.66"/><circle cx="143.9" cy="235.1" r="0.39"/><circle cx="158.1" cy="160.3" r="0.70"/><circle cx="128.6" cy="208.6" r="0.64"/><circle cx="148.7" cy="160.2" r="0.53"/><circle cx="166.9" cy="180.2" r="0.67"/><circle cx="178.7" cy="235.0" r="0.50"/><circle cx="170.2" cy="240.4" r="0.64"/><circle cx="150.7" cy="160.0" r="0.55"/><circle cx="201.9" cy="204.5" r="0.63"/><circle cx="175.1" cy="222.7" r="0.54"/><circle cx="127.0" cy="166.9" r="0.66"/><circle cx="176.9" cy="229.2" r="0.44"/><circle cx="126.6" cy="210.9" r="0.56"/><circle cx="147.6" cy="160.5" r="0.55"/><circle cx="204.6" cy="234.3" r="0.37"/><circle cx="174.1" cy="238.9" r="0.49"/><circle cx="190.7" cy="235.9" r="0.58"/><circle cx="183.3" cy="234.6" r="0.67"/><circle cx="218.8" cy="232.7" r="0.70"/><circle cx="171.2" cy="186.2" r="0.64"/><circle cx="205.7" cy="234.5" r="0.38"/><circle cx="112.1" cy="193.2" r="0.37"/><circle cx="176.1" cy="187.8" r="0.59"/><circle cx="124.0" cy="204.7" r="0.44"/><circle cx="158.7" cy="160.7" r="0.39"/><circle cx="112.7" cy="194.0" r="0.63"/><circle cx="159.5" cy="163.8" r="0.63"/><circle cx="122.0" cy="214.6" r="0.65"/><circle cx="204.2" cy="231.7" r="0.57"/><circle cx="218.5" cy="230.7" r="0.37"/><circle cx="199.8" cy="233.1" r="0.35"/><circle cx="166.8" cy="240.4" r="0.63"/><circle cx="176.0" cy="221.2" r="0.42"/><circle cx="184.8" cy="214.3" r="0.54"/><circle cx="211.4" cy="202.1" r="0.65"/><circle cx="130.5" cy="225.7" r="0.46"/><circle cx="159.6" cy="240.9" r="0.69"/><circle cx="157.0" cy="240.1" r="0.39"/><circle cx="182.9" cy="234.2" r="0.51"/><circle cx="190.7" cy="209.0" r="0.67"/><circle cx="171.0" cy="239.0" r="0.64"/><circle cx="177.1" cy="237.7" r="0.65"/><circle cx="183.5" cy="213.6" r="0.68"/><circle cx="179.7" cy="215.9" r="0.46"/><circle cx="212.2" cy="202.1" r="0.51"/><circle cx="110.4" cy="191.0" r="0.62"/><circle cx="134.5" cy="228.0" r="0.45"/><circle cx="178.8" cy="189.8" r="0.43"/><circle cx="121.3" cy="215.2" r="0.62"/><circle cx="155.2" cy="238.9" r="0.54"/><circle cx="139.5" cy="161.1" r="0.57"/><circle cx="204.2" cy="202.8" r="0.41"/><circle cx="194.0" cy="232.3" r="0.68"/><circle cx="191.7" cy="209.1" r="0.69"/><circle cx="133.9" cy="163.8" r="0.67"/><circle cx="110.7" cy="181.6" r="0.70"/><circle cx="160.6" cy="169.0" r="0.59"/><circle cx="165.6" cy="240.0" r="0.44"/><circle cx="114.0" cy="176.3" r="0.44"/><circle cx="114.4" cy="196.6" r="0.58"/><circle cx="218.3" cy="231.8" r="0.37"/><circle cx="126.3" cy="167.2" r="0.40"/><circle cx="141.2" cy="160.9" r="0.59"/><circle cx="187.4" cy="193.0" r="0.39"/><circle cx="197.5" cy="197.7" r="0.51"/><circle cx="173.1" cy="239.9" r="0.47"/><circle cx="136.0" cy="229.3" r="0.43"/><circle cx="128.3" cy="223.2" r="0.45"/><circle cx="110.4" cy="183.0" r="0.41"/><circle cx="195.4" cy="235.5" r="0.41"/><circle cx="155.2" cy="161.0" r="0.48"/><circle cx="198.4" cy="235.4" r="0.37"/><circle cx="111.2" cy="180.3" r="0.69"/><circle cx="206.6" cy="202.5" r="0.63"/><circle cx="179.2" cy="190.5" r="0.39"/><circle cx="178.5" cy="189.1" r="0.48"/><circle cx="158.4" cy="240.7" r="0.43"/><circle cx="198.8" cy="205.9" r="0.52"/><circle cx="124.7" cy="220.2" r="0.64"/><circle cx="174.4" cy="186.9" r="0.39"/><circle cx="175.0" cy="221.1" r="0.39"/><circle cx="175.8" cy="228.6" r="0.50"/><circle cx="144.8" cy="160.7" r="0.51"/><circle cx="122.4" cy="204.3" r="0.43"/><circle cx="165.5" cy="239.9" r="0.69"/><circle cx="128.0" cy="223.9" r="0.53"/><circle cx="176.0" cy="188.6" r="0.42"/><circle cx="131.4" cy="165.5" r="0.51"/><circle cx="171.6" cy="239.9" r="0.46"/><circle cx="165.7" cy="178.5" r="0.39"/><circle cx="110.0" cy="190.8" r="0.35"/><circle cx="198.3" cy="235.6" r="0.51"/><circle cx="167.4" cy="240.2" r="0.52"/><circle cx="216.7" cy="233.2" r="0.63"/><circle cx="119.8" cy="201.3" r="0.48"/><circle cx="126.1" cy="211.8" r="0.56"/><circle cx="125.9" cy="212.0" r="0.36"/><circle cx="180.8" cy="215.8" r="0.61"/><circle cx="214.9" cy="230.8" r="0.59"/><circle cx="110.9" cy="181.1" r="0.52"/><circle cx="187.4" cy="232.3" r="0.70"/><circle cx="210.7" cy="234.9" r="0.42"/><circle cx="107.8" cy="185.6" r="0.69"/><circle cx="204.6" cy="199.8" r="0.58"/><circle cx="112.7" cy="178.1" r="0.64"/><circle cx="107.8" cy="185.1" r="0.51"/><circle cx="206.2" cy="231.8" r="0.43"/><circle cx="145.6" cy="160.3" r="0.40"/><circle cx="190.2" cy="232.2" r="0.37"/><circle cx="174.0" cy="187.3" r="0.51"/><circle cx="191.1" cy="209.3" r="0.65"/><circle cx="116.6" cy="200.1" r="0.49"/><circle cx="121.2" cy="170.4" r="0.36"/><circle cx="192.9" cy="196.6" r="0.65"/><circle cx="185.9" cy="211.5" r="0.63"/><circle cx="198.0" cy="235.6" r="0.44"/><circle cx="195.7" cy="235.4" r="0.66"/><circle cx="115.3" cy="197.8" r="0.66"/><circle cx="209.8" cy="232.2" r="0.44"/><circle cx="174.1" cy="187.6" r="0.59"/><circle cx="128.1" cy="165.4" r="0.52"/><circle cx="191.0" cy="236.2" r="0.52"/><circle cx="188.7" cy="235.2" r="0.41"/><circle cx="116.4" cy="198.3" r="0.50"/><circle cx="116.6" cy="199.3" r="0.69"/><circle cx="125.3" cy="212.9" r="0.48"/><circle cx="194.4" cy="235.8" r="0.43"/><circle cx="168.3" cy="181.9" r="0.40"/><circle cx="191.4" cy="209.3" r="0.55"/><circle cx="120.4" cy="202.9" r="0.60"/><circle cx="181.4" cy="215.7" r="0.36"/><circle cx="189.8" cy="236.3" r="0.69"/><circle cx="157.9" cy="239.8" r="0.57"/><circle cx="178.9" cy="234.0" r="0.62"/><circle cx="197.3" cy="197.8" r="0.56"/><circle cx="130.2" cy="224.7" r="0.42"/><circle cx="110.4" cy="180.3" r="0.45"/><circle cx="127.2" cy="166.5" r="0.59"/><circle cx="108.9" cy="184.4" r="0.60"/><circle cx="109.8" cy="189.9" r="0.68"/><circle cx="113.7" cy="195.6" r="0.53"/><circle cx="203.9" cy="199.6" r="0.44"/><circle cx="122.3" cy="169.9" r="0.38"/><circle cx="209.3" cy="233.9" r="0.63"/><circle cx="171.8" cy="239.8" r="0.42"/><circle cx="125.0" cy="205.6" r="0.40"/><circle cx="182.8" cy="235.0" r="0.43"/><circle cx="146.6" cy="236.4" r="0.56"/><circle cx="163.2" cy="173.4" r="0.63"/><circle cx="173.3" cy="186.5" r="0.55"/><circle cx="152.3" cy="160.7" r="0.39"/><circle cx="205.7" cy="235.0" r="0.50"/><circle cx="195.2" cy="232.7" r="0.60"/><circle cx="169.7" cy="184.2" r="0.59"/><circle cx="213.3" cy="233.6" r="0.46"/><circle cx="194.7" cy="236.3" r="0.43"/><circle cx="156.2" cy="239.2" r="0.69"/><circle cx="147.3" cy="237.4" r="0.60"/><circle cx="122.2" cy="169.5" r="0.37"/><circle cx="188.3" cy="233.3" r="0.66"/><circle cx="174.7" cy="222.1" r="0.53"/><circle cx="190.2" cy="233.2" r="0.54"/><circle cx="154.5" cy="239.4" r="0.49"/><circle cx="176.8" cy="229.9" r="0.43"/><circle cx="202.9" cy="199.3" r="0.62"/><circle cx="202.6" cy="203.8" r="0.68"/><circle cx="211.9" cy="234.2" r="0.57"/><circle cx="190.5" cy="194.2" r="0.67"/><circle cx="147.9" cy="159.9" r="0.45"/><circle cx="126.5" cy="166.1" r="0.50"/><circle cx="132.3" cy="164.2" r="0.69"/><circle cx="120.7" cy="171.3" r="0.40"/><circle cx="140.2" cy="161.4" r="0.54"/><circle cx="135.0" cy="229.2" r="0.62"/><circle cx="184.8" cy="213.0" r="0.43"/><circle cx="113.3" cy="194.9" r="0.61"/>
</g>
<g fill="#fff">
<circle cx="158.2" cy="166.6" r="0.56"/><circle cx="158.2" cy="170.1" r="0.48"/><circle cx="147.2" cy="173.7" r="0.68"/><circle cx="155.1" cy="174.9" r="0.78"/><circle cx="157.9" cy="177.1" r="0.50"/><circle cx="153.0" cy="176.5" r="0.56"/><circle cx="155.7" cy="171.8" r="0.73"/><circle cx="151.7" cy="175.4" r="0.69"/><circle cx="151.4" cy="175.3" r="0.54"/><circle cx="155.8" cy="164.5" r="0.61"/><circle cx="159.1" cy="172.5" r="0.62"/><circle cx="158.5" cy="166.8" r="0.50"/><circle cx="156.7" cy="165.4" r="0.47"/><circle cx="150.1" cy="176.1" r="0.51"/><circle cx="151.3" cy="174.1" r="0.45"/><circle cx="156.8" cy="168.9" r="0.64"/><circle cx="157.6" cy="166.9" r="0.46"/><circle cx="158.5" cy="168.1" r="0.80"/><circle cx="152.2" cy="164.3" r="0.72"/><circle cx="152.9" cy="179.3" r="0.52"/><circle cx="154.4" cy="169.2" r="0.59"/><circle cx="149.7" cy="179.0" r="0.51"/><circle cx="156.6" cy="165.1" r="0.75"/><circle cx="157.4" cy="178.7" r="0.68"/><circle cx="150.5" cy="165.5" r="0.37"/><circle cx="156.6" cy="167.1" r="0.56"/><circle cx="149.7" cy="178.7" r="0.70"/><circle cx="155.2" cy="169.0" r="0.50"/><circle cx="153.0" cy="174.9" r="0.50"/><circle cx="159.2" cy="173.3" r="0.45"/><circle cx="154.6" cy="173.0" r="0.68"/><circle cx="154.5" cy="177.8" r="0.53"/><circle cx="155.2" cy="163.7" r="0.49"/><circle cx="148.5" cy="165.7" r="0.56"/><circle cx="157.8" cy="167.5" r="0.49"/><circle cx="156.7" cy="167.1" r="0.40"/><circle cx="147.6" cy="167.7" r="0.58"/><circle cx="148.5" cy="172.6" r="0.75"/><circle cx="151.4" cy="168.5" r="0.51"/><circle cx="148.5" cy="178.7" r="0.66"/><circle cx="157.7" cy="178.1" r="0.37"/><circle cx="149.1" cy="168.8" r="0.67"/><circle cx="151.1" cy="173.2" r="0.59"/><circle cx="155.7" cy="164.8" r="0.51"/><circle cx="154.0" cy="179.7" r="0.71"/><circle cx="154.3" cy="180.3" r="0.80"/><circle cx="149.1" cy="174.3" r="0.67"/><circle cx="155.8" cy="170.3" r="0.49"/><circle cx="150.1" cy="178.8" r="0.43"/><circle cx="148.3" cy="170.2" r="0.65"/><circle cx="157.3" cy="178.9" r="0.80"/><circle cx="147.2" cy="169.0" r="0.43"/><circle cx="157.4" cy="168.4" r="0.69"/><circle cx="155.9" cy="168.0" r="0.77"/><circle cx="153.3" cy="173.3" r="0.58"/><circle cx="158.3" cy="166.9" r="0.78"/><circle cx="146.3" cy="171.4" r="0.60"/><circle cx="156.4" cy="177.6" r="0.71"/><circle cx="148.2" cy="175.2" r="0.47"/><circle cx="152.3" cy="177.8" r="0.58"/><circle cx="150.9" cy="172.5" r="0.35"/><circle cx="149.8" cy="178.4" r="0.69"/><circle cx="153.3" cy="176.5" r="0.58"/><circle cx="155.5" cy="178.2" r="0.76"/><circle cx="154.6" cy="178.6" r="0.67"/><circle cx="153.0" cy="164.4" r="0.67"/><circle cx="152.1" cy="180.2" r="0.77"/><circle cx="159.4" cy="174.8" r="0.55"/><circle cx="154.6" cy="173.2" r="0.71"/><circle cx="151.8" cy="169.0" r="0.56"/><circle cx="148.5" cy="165.1" r="0.50"/><circle cx="153.4" cy="167.6" r="0.44"/><circle cx="155.4" cy="176.9" r="0.63"/><circle cx="152.1" cy="175.4" r="0.45"/><circle cx="155.6" cy="174.0" r="0.49"/><circle cx="150.0" cy="171.9" r="0.57"/><circle cx="146.6" cy="175.3" r="0.57"/><circle cx="157.5" cy="169.9" r="0.44"/><circle cx="150.8" cy="170.1" r="0.43"/><circle cx="158.3" cy="175.3" r="0.79"/><circle cx="149.6" cy="175.1" r="0.54"/><circle cx="149.5" cy="178.0" r="0.53"/><circle cx="156.7" cy="178.8" r="0.61"/><circle cx="159.4" cy="172.3" r="0.68"/><circle cx="149.6" cy="177.7" r="0.76"/><circle cx="149.2" cy="175.4" r="0.48"/><circle cx="147.6" cy="169.6" r="0.68"/><circle cx="155.5" cy="170.9" r="0.51"/><circle cx="156.7" cy="165.6" r="0.62"/><circle cx="151.2" cy="167.3" r="0.78"/><circle cx="148.8" cy="170.3" r="0.43"/><circle cx="158.0" cy="177.7" r="0.71"/><circle cx="156.9" cy="172.9" r="0.57"/><circle cx="148.8" cy="172.1" r="0.75"/><circle cx="150.0" cy="177.3" r="0.77"/><circle cx="149.9" cy="167.2" r="0.50"/><circle cx="148.9" cy="176.6" r="0.70"/><circle cx="152.7" cy="177.5" r="0.52"/><circle cx="148.6" cy="178.5" r="0.59"/><circle cx="152.3" cy="177.1" r="0.72"/><circle cx="156.1" cy="178.3" r="0.36"/><circle cx="153.6" cy="174.1" r="0.71"/><circle cx="155.0" cy="175.4" r="0.38"/><circle cx="152.5" cy="179.7" r="0.67"/><circle cx="158.8" cy="167.3" r="0.60"/><circle cx="154.8" cy="170.7" r="0.77"/><circle cx="150.2" cy="173.6" r="0.69"/><circle cx="155.7" cy="167.7" r="0.39"/><circle cx="157.2" cy="166.4" r="0.62"/><circle cx="154.4" cy="171.7" r="0.38"/>
<circle cx="129.5" cy="188.4" r="0.67"/><circle cx="124.8" cy="187.0" r="0.42"/><circle cx="132.6" cy="190.8" r="0.65"/><circle cx="136.3" cy="187.5" r="0.79"/><circle cx="120.0" cy="189.0" r="0.46"/><circle cx="129.5" cy="191.9" r="0.80"/><circle cx="126.4" cy="186.4" r="0.43"/><circle cx="132.8" cy="189.9" r="0.68"/><circle cx="137.5" cy="189.1" r="0.66"/><circle cx="137.1" cy="188.6" r="0.71"/><circle cx="119.6" cy="186.8" r="0.75"/><circle cx="121.5" cy="186.6" r="0.53"/><circle cx="140.2" cy="186.7" r="0.76"/><circle cx="123.1" cy="187.4" r="0.43"/><circle cx="119.4" cy="190.2" r="0.35"/><circle cx="132.0" cy="184.6" r="0.58"/><circle cx="140.5" cy="188.1" r="0.54"/><circle cx="122.9" cy="185.4" r="0.68"/><circle cx="116.5" cy="190.1" r="0.78"/><circle cx="137.9" cy="186.6" r="0.49"/><circle cx="122.8" cy="189.5" r="0.76"/><circle cx="131.3" cy="184.6" r="0.72"/><circle cx="139.6" cy="187.8" r="0.49"/><circle cx="128.3" cy="186.0" r="0.62"/><circle cx="135.1" cy="191.1" r="0.57"/><circle cx="125.9" cy="191.8" r="0.39"/><circle cx="139.0" cy="186.5" r="0.42"/><circle cx="128.7" cy="185.0" r="0.76"/><circle cx="120.2" cy="186.6" r="0.77"/><circle cx="138.5" cy="189.8" r="0.40"/><circle cx="127.2" cy="189.3" r="0.74"/><circle cx="116.9" cy="189.2" r="0.47"/><circle cx="126.6" cy="184.8" r="0.39"/><circle cx="116.1" cy="188.1" r="0.45"/><circle cx="123.8" cy="186.3" r="0.52"/><circle cx="139.9" cy="186.1" r="0.80"/><circle cx="118.5" cy="189.3" r="0.71"/><circle cx="128.5" cy="185.3" r="0.74"/><circle cx="116.9" cy="190.3" r="0.56"/><circle cx="136.9" cy="190.3" r="0.42"/><circle cx="126.6" cy="187.2" r="0.79"/><circle cx="116.4" cy="187.1" r="0.41"/><circle cx="122.4" cy="186.1" r="0.46"/><circle cx="129.0" cy="187.3" r="0.57"/><circle cx="139.0" cy="189.9" r="0.75"/><circle cx="137.3" cy="188.6" r="0.56"/><circle cx="125.7" cy="184.7" r="0.50"/><circle cx="133.5" cy="187.3" r="0.41"/><circle cx="129.9" cy="186.7" r="0.43"/><circle cx="119.9" cy="188.0" r="0.42"/><circle cx="136.7" cy="186.8" r="0.70"/><circle cx="128.0" cy="191.8" r="0.45"/><circle cx="137.1" cy="186.3" r="0.79"/><circle cx="129.5" cy="184.9" r="0.59"/><circle cx="133.7" cy="185.9" r="0.39"/><circle cx="138.8" cy="186.1" r="0.66"/><circle cx="127.8" cy="186.1" r="0.56"/><circle cx="134.1" cy="184.5" r="0.77"/><circle cx="134.2" cy="190.8" r="0.60"/><circle cx="123.3" cy="188.9" r="0.41"/><circle cx="118.3" cy="188.5" r="0.47"/><circle cx="121.0" cy="190.2" r="0.69"/><circle cx="123.2" cy="187.1" r="0.75"/><circle cx="118.8" cy="190.9" r="0.79"/><circle cx="134.8" cy="190.4" r="0.79"/><circle cx="120.2" cy="190.0" r="0.49"/><circle cx="134.2" cy="188.3" r="0.41"/><circle cx="125.6" cy="191.1" r="0.60"/><circle cx="139.0" cy="186.9" r="0.51"/><circle cx="138.6" cy="187.0" r="0.59"/>
<circle cx="144.4" cy="207.9" r="0.51"/><circle cx="130.9" cy="209.3" r="0.79"/><circle cx="137.5" cy="215.9" r="0.38"/><circle cx="147.4" cy="211.2" r="0.44"/><circle cx="132.2" cy="210.9" r="0.73"/><circle cx="131.4" cy="207.4" r="0.77"/><circle cx="148.5" cy="210.8" r="0.67"/><circle cx="140.1" cy="211.0" r="0.54"/><circle cx="144.7" cy="210.5" r="0.61"/><circle cx="146.0" cy="211.2" r="0.76"/><circle cx="143.3" cy="211.2" r="0.43"/><circle cx="139.2" cy="209.6" r="0.77"/><circle cx="135.6" cy="215.7" r="0.58"/><circle cx="130.9" cy="215.4" r="0.53"/><circle cx="135.8" cy="209.8" r="0.72"/><circle cx="141.6" cy="210.8" r="0.69"/><circle cx="136.3" cy="212.9" r="0.51"/><circle cx="129.8" cy="206.8" r="0.80"/><circle cx="148.0" cy="210.8" r="0.64"/><circle cx="143.3" cy="214.6" r="0.60"/><circle cx="128.6" cy="214.7" r="0.46"/><circle cx="140.5" cy="212.5" r="0.42"/><circle cx="142.3" cy="214.0" r="0.61"/><circle cx="128.6" cy="209.8" r="0.59"/><circle cx="140.4" cy="211.1" r="0.54"/><circle cx="138.0" cy="215.3" r="0.46"/><circle cx="140.1" cy="208.8" r="0.39"/><circle cx="128.4" cy="211.4" r="0.50"/><circle cx="137.6" cy="208.7" r="0.65"/><circle cx="141.8" cy="208.1" r="0.58"/><circle cx="146.7" cy="209.2" r="0.43"/><circle cx="140.6" cy="211.6" r="0.50"/><circle cx="146.6" cy="213.1" r="0.54"/><circle cx="133.4" cy="214.3" r="0.77"/><circle cx="137.2" cy="213.0" r="0.49"/><circle cx="131.0" cy="215.3" r="0.67"/><circle cx="131.9" cy="211.9" r="0.37"/><circle cx="146.3" cy="214.2" r="0.64"/><circle cx="143.1" cy="214.3" r="0.38"/><circle cx="128.9" cy="210.9" r="0.40"/><circle cx="136.4" cy="206.8" r="0.58"/><circle cx="142.6" cy="214.6" r="0.54"/><circle cx="134.8" cy="209.7" r="0.76"/><circle cx="143.6" cy="211.1" r="0.53"/><circle cx="138.3" cy="212.4" r="0.66"/><circle cx="145.1" cy="210.9" r="0.47"/><circle cx="133.8" cy="208.9" r="0.53"/><circle cx="133.5" cy="208.0" r="0.42"/><circle cx="146.3" cy="212.6" r="0.80"/><circle cx="140.9" cy="210.2" r="0.58"/><circle cx="130.8" cy="211.2" r="0.65"/><circle cx="133.5" cy="215.7" r="0.72"/><circle cx="131.8" cy="211.3" r="0.57"/><circle cx="145.1" cy="214.0" r="0.66"/><circle cx="148.4" cy="212.2" r="0.71"/><circle cx="143.0" cy="212.8" r="0.37"/><circle cx="130.3" cy="214.4" r="0.52"/><circle cx="135.3" cy="208.4" r="0.79"/><circle cx="136.2" cy="211.1" r="0.39"/><circle cx="135.1" cy="206.4" r="0.64"/><circle cx="144.3" cy="214.9" r="0.67"/><circle cx="143.5" cy="213.0" r="0.65"/><circle cx="139.9" cy="211.0" r="0.51"/><circle cx="146.9" cy="207.5" r="0.49"/><circle cx="147.4" cy="208.6" r="0.74"/><circle cx="128.6" cy="207.2" r="0.60"/><circle cx="140.3" cy="214.4" r="0.57"/><circle cx="132.5" cy="213.6" r="0.58"/><circle cx="131.4" cy="209.8" r="0.47"/><circle cx="127.1" cy="210.9" r="0.54"/><circle cx="133.9" cy="209.2" r="0.59"/><circle cx="135.0" cy="215.3" r="0.67"/><circle cx="139.0" cy="207.5" r="0.46"/><circle cx="145.9" cy="209.4" r="0.52"/><circle cx="134.8" cy="214.1" r="0.67"/><circle cx="141.1" cy="207.8" r="0.68"/><circle cx="139.2" cy="214.3" r="0.51"/><circle cx="134.1" cy="213.8" r="0.69"/><circle cx="136.3" cy="208.7" r="0.46"/><circle cx="139.4" cy="207.0" r="0.65"/><circle cx="136.5" cy="212.2" r="0.51"/><circle cx="150.4" cy="212.0" r="0.59"/><circle cx="130.4" cy="206.7" r="0.71"/><circle cx="138.1" cy="213.9" r="0.40"/><circle cx="140.4" cy="206.9" r="0.57"/><circle cx="132.0" cy="212.9" r="0.57"/><circle cx="133.9" cy="206.4" r="0.73"/><circle cx="143.3" cy="208.6" r="0.54"/><circle cx="131.6" cy="215.5" r="0.43"/><circle cx="141.1" cy="213.2" r="0.76"/>
<circle cx="157.5" cy="218.3" r="0.73"/><circle cx="160.1" cy="218.7" r="0.44"/><circle cx="153.4" cy="217.2" r="0.40"/><circle cx="160.7" cy="219.0" r="0.53"/><circle cx="145.3" cy="219.7" r="0.36"/><circle cx="144.4" cy="225.1" r="0.35"/><circle cx="142.3" cy="227.0" r="0.50"/><circle cx="146.6" cy="216.3" r="0.43"/><circle cx="165.0" cy="222.8" r="0.62"/><circle cx="150.1" cy="225.4" r="0.73"/><circle cx="158.5" cy="219.9" r="0.61"/><circle cx="143.9" cy="219.9" r="0.37"/><circle cx="146.1" cy="227.7" r="0.62"/><circle cx="146.4" cy="221.8" r="0.45"/><circle cx="148.1" cy="226.8" r="0.51"/><circle cx="156.5" cy="220.4" r="0.79"/><circle cx="152.9" cy="229.4" r="0.46"/><circle cx="143.6" cy="219.4" r="0.37"/><circle cx="156.1" cy="215.1" r="0.47"/><circle cx="153.8" cy="216.5" r="0.79"/><circle cx="161.3" cy="223.7" r="0.45"/><circle cx="142.0" cy="217.0" r="0.73"/><circle cx="142.5" cy="220.5" r="0.71"/><circle cx="158.5" cy="224.5" r="0.69"/><circle cx="137.2" cy="224.9" r="0.39"/><circle cx="144.8" cy="222.9" r="0.35"/><circle cx="156.0" cy="223.3" r="0.52"/><circle cx="141.6" cy="224.3" r="0.48"/><circle cx="148.6" cy="216.5" r="0.79"/><circle cx="157.6" cy="227.0" r="0.57"/><circle cx="141.7" cy="227.4" r="0.44"/><circle cx="158.9" cy="218.7" r="0.50"/><circle cx="143.0" cy="218.0" r="0.48"/><circle cx="165.5" cy="226.0" r="0.52"/><circle cx="161.8" cy="226.3" r="0.59"/><circle cx="147.7" cy="226.1" r="0.73"/><circle cx="146.5" cy="226.4" r="0.78"/><circle cx="145.5" cy="225.9" r="0.42"/><circle cx="145.2" cy="216.4" r="0.55"/><circle cx="145.6" cy="224.2" r="0.71"/><circle cx="137.9" cy="223.9" r="0.52"/><circle cx="151.7" cy="220.7" r="0.45"/><circle cx="164.8" cy="220.4" r="0.65"/><circle cx="141.0" cy="222.1" r="0.44"/><circle cx="158.0" cy="227.7" r="0.66"/><circle cx="151.3" cy="228.4" r="0.41"/><circle cx="147.0" cy="219.8" r="0.58"/><circle cx="147.4" cy="227.5" r="0.41"/><circle cx="139.5" cy="222.7" r="0.41"/><circle cx="147.3" cy="228.1" r="0.60"/><circle cx="141.5" cy="217.3" r="0.61"/><circle cx="153.9" cy="227.2" r="0.72"/><circle cx="139.3" cy="219.2" r="0.51"/><circle cx="137.1" cy="224.5" r="0.72"/><circle cx="149.0" cy="219.9" r="0.63"/><circle cx="167.1" cy="223.6" r="0.79"/><circle cx="150.9" cy="217.9" r="0.73"/><circle cx="158.4" cy="228.5" r="0.58"/><circle cx="167.0" cy="222.7" r="0.55"/><circle cx="158.4" cy="216.2" r="0.59"/><circle cx="156.7" cy="219.3" r="0.75"/><circle cx="150.6" cy="223.1" r="0.50"/><circle cx="155.9" cy="222.9" r="0.63"/><circle cx="156.6" cy="224.2" r="0.48"/><circle cx="149.2" cy="229.5" r="0.76"/><circle cx="162.9" cy="216.2" r="0.55"/><circle cx="154.4" cy="217.9" r="0.77"/><circle cx="157.1" cy="215.6" r="0.45"/><circle cx="164.9" cy="226.2" r="0.60"/><circle cx="140.7" cy="217.2" r="0.41"/><circle cx="148.6" cy="216.8" r="0.70"/><circle cx="145.2" cy="223.0" r="0.78"/><circle cx="149.3" cy="228.8" r="0.72"/><circle cx="152.2" cy="228.7" r="0.53"/><circle cx="153.2" cy="225.7" r="0.78"/><circle cx="144.3" cy="226.2" r="0.58"/><circle cx="165.7" cy="223.2" r="0.69"/><circle cx="158.8" cy="218.6" r="0.44"/><circle cx="144.1" cy="227.6" r="0.65"/><circle cx="142.4" cy="225.2" r="0.42"/><circle cx="161.6" cy="219.3" r="0.58"/><circle cx="153.6" cy="218.5" r="0.68"/><circle cx="143.3" cy="227.7" r="0.39"/><circle cx="149.9" cy="228.3" r="0.57"/><circle cx="143.3" cy="226.3" r="0.45"/><circle cx="151.4" cy="222.1" r="0.71"/><circle cx="151.6" cy="229.3" r="0.60"/><circle cx="141.8" cy="218.2" r="0.41"/><circle cx="153.5" cy="217.7" r="0.74"/><circle cx="155.0" cy="215.6" r="0.72"/>
<circle cx="152.4" cy="233.6" r="0.78"/><circle cx="161.2" cy="233.5" r="0.54"/><circle cx="156.1" cy="231.9" r="0.45"/><circle cx="164.2" cy="229.7" r="0.42"/><circle cx="163.1" cy="235.5" r="0.44"/><circle cx="152.8" cy="232.6" r="0.55"/><circle cx="150.9" cy="231.9" r="0.36"/><circle cx="164.0" cy="231.0" r="0.37"/><circle cx="160.8" cy="228.2" r="0.59"/><circle cx="161.8" cy="236.3" r="0.49"/><circle cx="159.3" cy="229.6" r="0.61"/><circle cx="156.4" cy="229.6" r="0.57"/><circle cx="167.4" cy="233.6" r="0.66"/><circle cx="164.2" cy="235.0" r="0.68"/><circle cx="167.4" cy="234.7" r="0.74"/><circle cx="164.7" cy="232.8" r="0.39"/><circle cx="160.0" cy="233.5" r="0.57"/><circle cx="160.0" cy="234.7" r="0.56"/><circle cx="153.9" cy="235.2" r="0.68"/><circle cx="163.6" cy="233.6" r="0.35"/><circle cx="158.4" cy="233.4" r="0.66"/><circle cx="161.9" cy="227.1" r="0.44"/><circle cx="168.5" cy="233.0" r="0.54"/><circle cx="165.7" cy="230.7" r="0.49"/><circle cx="168.7" cy="234.1" r="0.58"/><circle cx="153.8" cy="233.2" r="0.70"/><circle cx="163.4" cy="229.0" r="0.43"/><circle cx="152.1" cy="234.6" r="0.53"/><circle cx="156.0" cy="228.8" r="0.56"/><circle cx="155.6" cy="230.9" r="0.60"/>
<circle cx="123.5" cy="196.2" r="0.52"/><circle cx="127.8" cy="194.3" r="0.36"/><circle cx="117.6" cy="194.7" r="0.73"/><circle cx="119.2" cy="197.3" r="0.49"/><circle cx="120.4" cy="193.7" r="0.44"/><circle cx="118.0" cy="194.5" r="0.65"/><circle cx="127.3" cy="197.4" r="0.50"/><circle cx="118.2" cy="195.7" r="0.41"/><circle cx="119.9" cy="195.1" r="0.71"/><circle cx="120.0" cy="199.8" r="0.71"/><circle cx="127.1" cy="199.3" r="0.38"/><circle cx="123.2" cy="196.8" r="0.68"/><circle cx="119.7" cy="198.2" r="0.53"/><circle cx="116.8" cy="197.0" r="0.41"/><circle cx="117.7" cy="196.7" r="0.79"/>
<circle cx="161.1" cy="217.7" r="0.45"/><circle cx="169.5" cy="214.3" r="0.64"/><circle cx="167.5" cy="211.7" r="0.69"/><circle cx="164.5" cy="217.0" r="0.37"/><circle cx="157.9" cy="216.8" r="0.44"/><circle cx="158.5" cy="216.9" r="0.47"/><circle cx="168.3" cy="218.5" r="0.54"/><circle cx="172.0" cy="212.9" r="0.46"/><circle cx="160.2" cy="213.6" r="0.37"/><circle cx="157.8" cy="217.0" r="0.49"/><circle cx="159.2" cy="212.4" r="0.38"/><circle cx="167.3" cy="214.1" r="0.49"/><circle cx="164.8" cy="214.2" r="0.52"/><circle cx="168.9" cy="217.9" r="0.36"/><circle cx="167.2" cy="217.3" r="0.39"/><circle cx="168.0" cy="216.4" r="0.58"/><circle cx="169.7" cy="219.1" r="0.54"/><circle cx="165.0" cy="217.9" r="0.73"/><circle cx="171.6" cy="216.5" r="0.39"/><circle cx="169.8" cy="213.7" r="0.62"/><circle cx="166.7" cy="213.6" r="0.38"/><circle cx="162.9" cy="210.7" r="0.67"/><circle cx="164.0" cy="219.2" r="0.43"/><circle cx="161.1" cy="216.2" r="0.61"/><circle cx="163.7" cy="218.0" r="0.64"/>
</g>
<g fill="#54b640">
<circle cx="147.5" cy="236.5" r="0.7"/>
<circle cx="149.0" cy="237.2" r="0.7"/>
<circle cx="151.0" cy="236.0" r="0.7"/>
<circle cx="171.0" cy="226.0" r="0.7"/>
<circle cx="173.0" cy="221.0" r="0.7"/>
<circle cx="176.0" cy="224.0" r="0.7"/>
<circle cx="160.0" cy="231.0" r="0.7"/>
<circle cx="178.0" cy="216.0" r="0.7"/>
<circle cx="183.0" cy="213.0" r="0.7"/>
</g>
<g fill="#ee6398">
<polygon points="419.6,161.9 426.5,157.3 434.6,155.7 445.0,156.2 456.5,157.3 468.1,158.5 479.6,159.6 488.8,160.8 490.7,161.9 490.0,164.9 486.5,167.7 479.6,171.2 472.7,174.6 465.8,178.1 458.8,181.5 454.2,185.0 451.9,189.6 450.8,195.4 451.9,201.2 454.2,205.8 455.4,209.2 454.2,213.8 456.5,219.6 458.4,225.4 457.7,228.8 454.2,229.5 447.3,227.7 440.4,224.2 434.6,220.8 427.7,217.3 421.9,214.1 415.7,207.6 412.7,200.5 411.8,194.2 411.8,188.5 412.2,182.7 413.8,176.9 416.2,170.0" filter="url(#rough)"/>
<circle cx="440.5" cy="155.4" r="0.43"/><circle cx="447.4" cy="156.4" r="0.60"/><circle cx="471.0" cy="175.5" r="0.45"/><circle cx="418.7" cy="165.6" r="0.68"/><circle cx="484.9" cy="159.7" r="0.42"/><circle cx="418.9" cy="161.9" r="0.55"/><circle cx="438.9" cy="155.7" r="0.44"/><circle cx="458.5" cy="225.8" r="0.60"/><circle cx="442.9" cy="155.9" r="0.52"/><circle cx="452.7" cy="229.0" r="0.42"/><circle cx="415.3" cy="171.8" r="0.48"/><circle cx="441.4" cy="224.1" r="0.49"/><circle cx="454.0" cy="213.9" r="0.68"/><circle cx="416.3" cy="168.9" r="0.51"/><circle cx="413.5" cy="202.9" r="0.60"/><circle cx="414.3" cy="176.0" r="0.44"/><circle cx="420.6" cy="213.1" r="0.48"/><circle cx="419.4" cy="210.2" r="0.58"/><circle cx="462.6" cy="158.4" r="0.42"/><circle cx="480.7" cy="170.9" r="0.60"/><circle cx="476.3" cy="158.9" r="0.65"/><circle cx="488.1" cy="166.8" r="0.35"/><circle cx="457.6" cy="182.5" r="0.65"/><circle cx="472.7" cy="175.2" r="0.43"/><circle cx="483.8" cy="160.1" r="0.60"/><circle cx="455.1" cy="216.9" r="0.45"/><circle cx="415.6" cy="170.0" r="0.66"/><circle cx="450.5" cy="156.6" r="0.60"/><circle cx="416.8" cy="208.4" r="0.63"/><circle cx="457.8" cy="157.4" r="0.49"/><circle cx="467.5" cy="157.9" r="0.62"/><circle cx="457.0" cy="227.8" r="0.63"/><circle cx="453.9" cy="214.1" r="0.48"/><circle cx="444.2" cy="156.7" r="0.68"/><circle cx="453.1" cy="228.5" r="0.62"/><circle cx="454.8" cy="184.2" r="0.46"/><circle cx="446.0" cy="155.8" r="0.44"/><circle cx="444.6" cy="226.1" r="0.40"/><circle cx="450.3" cy="196.0" r="0.70"/><circle cx="455.7" cy="183.4" r="0.41"/><circle cx="416.8" cy="168.8" r="0.51"/><circle cx="423.0" cy="159.4" r="0.68"/><circle cx="463.0" cy="179.0" r="0.56"/><circle cx="479.5" cy="160.1" r="0.49"/><circle cx="453.3" cy="229.4" r="0.56"/><circle cx="419.4" cy="163.1" r="0.35"/><circle cx="442.9" cy="156.2" r="0.64"/><circle cx="442.0" cy="224.4" r="0.56"/><circle cx="455.8" cy="216.6" r="0.44"/><circle cx="458.7" cy="226.7" r="0.48"/><circle cx="450.7" cy="194.9" r="0.61"/><circle cx="418.4" cy="210.5" r="0.56"/><circle cx="412.5" cy="194.1" r="0.37"/><circle cx="411.6" cy="191.9" r="0.67"/><circle cx="415.0" cy="205.1" r="0.55"/><circle cx="470.4" cy="176.4" r="0.57"/><circle cx="480.6" cy="169.9" r="0.55"/><circle cx="410.9" cy="182.5" r="0.36"/><circle cx="452.6" cy="186.6" r="0.69"/><circle cx="457.4" cy="227.2" r="0.54"/><circle cx="439.6" cy="223.7" r="0.46"/><circle cx="412.5" cy="193.0" r="0.36"/><circle cx="453.2" cy="228.9" r="0.48"/><circle cx="476.6" cy="158.8" r="0.56"/><circle cx="482.1" cy="168.8" r="0.62"/><circle cx="415.0" cy="174.1" r="0.48"/><circle cx="478.4" cy="171.6" r="0.55"/><circle cx="423.8" cy="215.1" r="0.44"/><circle cx="451.1" cy="194.9" r="0.64"/><circle cx="465.4" cy="177.5" r="0.37"/><circle cx="482.3" cy="170.1" r="0.46"/><circle cx="440.2" cy="224.1" r="0.63"/><circle cx="451.9" cy="199.3" r="0.64"/><circle cx="475.0" cy="158.8" r="0.43"/><circle cx="420.4" cy="161.2" r="0.38"/><circle cx="425.5" cy="215.4" r="0.64"/><circle cx="417.7" cy="166.3" r="0.67"/><circle cx="485.6" cy="167.4" r="0.65"/><circle cx="454.3" cy="213.6" r="0.54"/><circle cx="453.8" cy="156.2" r="0.43"/><circle cx="441.1" cy="224.5" r="0.62"/><circle cx="425.4" cy="216.3" r="0.45"/><circle cx="423.5" cy="215.6" r="0.41"/><circle cx="445.2" cy="157.0" r="0.41"/><circle cx="437.1" cy="155.6" r="0.58"/><circle cx="439.8" cy="156.6" r="0.66"/><circle cx="463.5" cy="179.2" r="0.47"/><circle cx="481.0" cy="159.1" r="0.62"/><circle cx="453.6" cy="204.4" r="0.48"/><circle cx="489.9" cy="165.5" r="0.42"/><circle cx="482.9" cy="170.3" r="0.57"/><circle cx="450.7" cy="192.6" r="0.68"/><circle cx="453.9" cy="184.3" r="0.44"/><circle cx="485.5" cy="160.6" r="0.62"/><circle cx="457.4" cy="158.1" r="0.52"/><circle cx="470.4" cy="175.2" r="0.48"/><circle cx="449.6" cy="156.1" r="0.67"/><circle cx="449.9" cy="228.9" r="0.45"/><circle cx="454.5" cy="184.3" r="0.67"/><circle cx="411.9" cy="180.0" r="0.40"/><circle cx="412.1" cy="180.5" r="0.49"/><circle cx="419.5" cy="164.2" r="0.64"/><circle cx="471.9" cy="174.8" r="0.61"/><circle cx="452.1" cy="189.0" r="0.63"/><circle cx="434.7" cy="220.9" r="0.43"/><circle cx="471.0" cy="175.5" r="0.66"/><circle cx="414.1" cy="174.9" r="0.39"/><circle cx="435.4" cy="155.7" r="0.51"/><circle cx="417.5" cy="166.3" r="0.50"/><circle cx="463.2" cy="157.7" r="0.54"/><circle cx="459.7" cy="181.5" r="0.52"/><circle cx="456.0" cy="184.1" r="0.42"/><circle cx="432.3" cy="156.6" r="0.62"/><circle cx="411.8" cy="190.2" r="0.50"/><circle cx="454.2" cy="205.9" r="0.37"/><circle cx="448.0" cy="227.5" r="0.67"/><circle cx="415.3" cy="207.0" r="0.54"/><circle cx="451.5" cy="229.0" r="0.52"/><circle cx="427.0" cy="156.6" r="0.45"/><circle cx="455.6" cy="184.3" r="0.41"/><circle cx="415.2" cy="208.0" r="0.47"/><circle cx="416.9" cy="209.1" r="0.49"/><circle cx="455.1" cy="213.1" r="0.59"/><circle cx="453.6" cy="204.6" r="0.47"/><circle cx="477.9" cy="159.4" r="0.51"/><circle cx="412.0" cy="194.1" r="0.46"/><circle cx="478.2" cy="159.1" r="0.60"/><circle cx="477.4" cy="171.7" r="0.64"/><circle cx="417.2" cy="166.3" r="0.35"/><circle cx="412.3" cy="192.6" r="0.49"/><circle cx="424.6" cy="215.9" r="0.62"/><circle cx="455.4" cy="208.6" r="0.36"/><circle cx="424.5" cy="215.9" r="0.35"/><circle cx="484.8" cy="159.6" r="0.57"/><circle cx="456.0" cy="183.0" r="0.42"/><circle cx="453.4" cy="205.0" r="0.42"/><circle cx="486.4" cy="167.9" r="0.47"/><circle cx="433.7" cy="220.3" r="0.61"/><circle cx="448.4" cy="156.2" r="0.38"/><circle cx="482.9" cy="160.0" r="0.66"/><circle cx="413.7" cy="177.6" r="0.59"/><circle cx="454.7" cy="212.9" r="0.68"/><circle cx="422.3" cy="160.4" r="0.42"/><circle cx="458.8" cy="181.6" r="0.64"/><circle cx="487.8" cy="167.5" r="0.45"/><circle cx="473.4" cy="159.2" r="0.39"/><circle cx="464.7" cy="158.7" r="0.51"/><circle cx="486.9" cy="166.7" r="0.60"/><circle cx="479.6" cy="171.1" r="0.55"/><circle cx="451.6" cy="190.8" r="0.66"/><circle cx="458.6" cy="224.0" r="0.66"/><circle cx="426.8" cy="156.9" r="0.54"/><circle cx="413.6" cy="203.8" r="0.58"/><circle cx="467.6" cy="158.1" r="0.69"/><circle cx="466.7" cy="158.2" r="0.45"/><circle cx="449.0" cy="157.0" r="0.41"/><circle cx="420.1" cy="212.0" r="0.65"/><circle cx="451.1" cy="157.5" r="0.51"/><circle cx="413.2" cy="178.8" r="0.69"/><circle cx="479.7" cy="171.4" r="0.42"/><circle cx="455.2" cy="207.9" r="0.65"/><circle cx="423.7" cy="214.5" r="0.38"/><circle cx="416.1" cy="172.4" r="0.60"/><circle cx="484.8" cy="168.1" r="0.61"/><circle cx="429.8" cy="156.5" r="0.63"/><circle cx="452.1" cy="189.2" r="0.54"/><circle cx="424.9" cy="158.3" r="0.65"/><circle cx="444.8" cy="227.5" r="0.68"/><circle cx="416.0" cy="172.7" r="0.60"/><circle cx="458.6" cy="222.9" r="0.50"/><circle cx="456.8" cy="219.8" r="0.36"/><circle cx="412.8" cy="180.7" r="0.40"/><circle cx="419.1" cy="162.9" r="0.40"/><circle cx="411.6" cy="186.7" r="0.40"/><circle cx="462.7" cy="179.6" r="0.50"/><circle cx="433.1" cy="156.0" r="0.68"/><circle cx="413.2" cy="201.6" r="0.59"/><circle cx="450.6" cy="195.0" r="0.53"/><circle cx="418.9" cy="211.0" r="0.50"/><circle cx="487.0" cy="161.0" r="0.58"/><circle cx="454.7" cy="213.7" r="0.53"/><circle cx="418.5" cy="164.7" r="0.46"/><circle cx="486.3" cy="168.3" r="0.36"/><circle cx="411.7" cy="181.3" r="0.59"/><circle cx="433.9" cy="220.0" r="0.61"/><circle cx="470.9" cy="158.6" r="0.62"/><circle cx="461.1" cy="158.5" r="0.63"/><circle cx="417.6" cy="167.4" r="0.39"/><circle cx="435.3" cy="220.5" r="0.62"/><circle cx="450.9" cy="200.5" r="0.58"/><circle cx="450.7" cy="228.4" r="0.61"/><circle cx="454.9" cy="215.0" r="0.50"/><circle cx="457.9" cy="181.8" r="0.49"/><circle cx="458.7" cy="182.1" r="0.38"/><circle cx="423.2" cy="159.0" r="0.51"/><circle cx="456.2" cy="219.6" r="0.36"/><circle cx="412.1" cy="193.3" r="0.51"/><circle cx="484.3" cy="169.6" r="0.64"/><circle cx="480.5" cy="160.4" r="0.63"/><circle cx="451.9" cy="189.3" r="0.63"/><circle cx="412.2" cy="195.9" r="0.56"/><circle cx="418.0" cy="165.0" r="0.40"/><circle cx="433.8" cy="155.7" r="0.63"/><circle cx="447.7" cy="228.2" r="0.68"/><circle cx="458.9" cy="225.8" r="0.50"/><circle cx="483.4" cy="159.7" r="0.39"/><circle cx="477.1" cy="159.9" r="0.46"/><circle cx="456.9" cy="182.8" r="0.60"/><circle cx="482.9" cy="169.6" r="0.46"/><circle cx="457.9" cy="223.1" r="0.57"/><circle cx="455.5" cy="229.4" r="0.39"/><circle cx="455.0" cy="212.0" r="0.57"/><circle cx="411.6" cy="186.4" r="0.56"/><circle cx="489.4" cy="160.8" r="0.44"/><circle cx="457.2" cy="182.8" r="0.42"/><circle cx="452.3" cy="157.3" r="0.49"/><circle cx="426.6" cy="217.2" r="0.49"/><circle cx="424.1" cy="214.8" r="0.67"/><circle cx="483.5" cy="160.0" r="0.59"/><circle cx="470.1" cy="176.2" r="0.66"/><circle cx="475.0" cy="172.9" r="0.53"/><circle cx="471.9" cy="159.2" r="0.59"/><circle cx="455.5" cy="207.4" r="0.50"/><circle cx="436.0" cy="156.1" r="0.64"/><circle cx="455.2" cy="209.3" r="0.45"/><circle cx="489.9" cy="162.4" r="0.63"/><circle cx="441.5" cy="224.1" r="0.39"/><circle cx="429.9" cy="157.0" r="0.53"/><circle cx="414.7" cy="206.0" r="0.43"/><circle cx="417.8" cy="165.9" r="0.37"/><circle cx="417.7" cy="167.1" r="0.39"/><circle cx="451.3" cy="229.6" r="0.45"/><circle cx="444.5" cy="156.9" r="0.69"/>
</g>
<g fill="#fff">
<circle cx="431.0" cy="176.6" r="0.48"/><circle cx="438.1" cy="186.9" r="0.79"/><circle cx="450.0" cy="186.0" r="0.51"/><circle cx="442.5" cy="190.4" r="0.77"/><circle cx="438.8" cy="188.2" r="0.63"/><circle cx="432.8" cy="177.1" r="0.43"/><circle cx="442.2" cy="181.1" r="0.43"/><circle cx="439.3" cy="191.6" r="0.56"/><circle cx="426.6" cy="180.6" r="0.75"/><circle cx="435.7" cy="184.1" r="0.72"/><circle cx="447.1" cy="184.4" r="0.41"/><circle cx="428.1" cy="177.9" r="0.41"/><circle cx="434.9" cy="193.5" r="0.66"/><circle cx="448.4" cy="189.4" r="0.71"/><circle cx="433.7" cy="186.1" r="0.65"/><circle cx="436.4" cy="187.3" r="0.42"/><circle cx="434.3" cy="186.0" r="0.52"/><circle cx="428.1" cy="181.1" r="0.53"/><circle cx="440.1" cy="180.6" r="0.50"/><circle cx="451.4" cy="179.5" r="0.76"/><circle cx="439.8" cy="175.7" r="0.70"/><circle cx="434.1" cy="182.0" r="0.46"/><circle cx="450.2" cy="189.6" r="0.49"/><circle cx="429.5" cy="188.1" r="0.40"/><circle cx="435.0" cy="174.3" r="0.71"/><circle cx="444.9" cy="179.5" r="0.42"/><circle cx="439.6" cy="174.6" r="0.52"/><circle cx="435.4" cy="187.3" r="0.72"/><circle cx="425.6" cy="186.1" r="0.50"/><circle cx="434.1" cy="190.8" r="0.69"/><circle cx="445.3" cy="179.3" r="0.66"/><circle cx="427.2" cy="189.5" r="0.69"/><circle cx="430.2" cy="181.4" r="0.47"/><circle cx="448.8" cy="177.2" r="0.49"/><circle cx="444.4" cy="186.2" r="0.78"/><circle cx="451.8" cy="186.1" r="0.59"/><circle cx="428.3" cy="181.0" r="0.53"/><circle cx="434.5" cy="182.5" r="0.76"/><circle cx="443.2" cy="186.2" r="0.65"/><circle cx="430.2" cy="176.1" r="0.66"/><circle cx="441.8" cy="182.6" r="0.35"/><circle cx="439.8" cy="193.4" r="0.42"/><circle cx="425.8" cy="181.8" r="0.42"/><circle cx="424.7" cy="181.9" r="0.69"/><circle cx="430.4" cy="188.3" r="0.48"/><circle cx="451.6" cy="181.3" r="0.66"/><circle cx="434.4" cy="192.6" r="0.57"/><circle cx="441.4" cy="177.4" r="0.75"/><circle cx="434.7" cy="176.9" r="0.60"/><circle cx="442.4" cy="176.2" r="0.78"/><circle cx="452.9" cy="184.2" r="0.67"/><circle cx="424.9" cy="184.4" r="0.42"/><circle cx="432.1" cy="191.6" r="0.72"/><circle cx="428.3" cy="191.6" r="0.64"/><circle cx="443.8" cy="184.8" r="0.38"/><circle cx="431.0" cy="181.0" r="0.47"/><circle cx="434.7" cy="184.7" r="0.76"/><circle cx="444.6" cy="176.7" r="0.55"/><circle cx="434.5" cy="191.7" r="0.51"/><circle cx="453.2" cy="182.0" r="0.68"/><circle cx="440.6" cy="181.0" r="0.41"/><circle cx="435.7" cy="186.9" r="0.54"/><circle cx="452.3" cy="182.8" r="0.78"/><circle cx="440.0" cy="188.8" r="0.36"/><circle cx="438.2" cy="186.3" r="0.59"/><circle cx="434.9" cy="192.3" r="0.60"/><circle cx="432.0" cy="180.2" r="0.68"/><circle cx="434.0" cy="175.1" r="0.56"/><circle cx="430.9" cy="185.0" r="0.37"/><circle cx="427.2" cy="185.5" r="0.43"/><circle cx="447.7" cy="175.8" r="0.73"/><circle cx="442.9" cy="176.7" r="0.43"/><circle cx="437.0" cy="193.1" r="0.79"/><circle cx="439.6" cy="184.3" r="0.51"/><circle cx="431.9" cy="190.6" r="0.40"/><circle cx="443.5" cy="178.4" r="0.76"/><circle cx="434.7" cy="189.0" r="0.43"/><circle cx="449.9" cy="181.9" r="0.72"/><circle cx="448.9" cy="186.8" r="0.68"/><circle cx="453.1" cy="182.6" r="0.40"/><circle cx="428.2" cy="191.6" r="0.59"/><circle cx="446.0" cy="182.2" r="0.36"/><circle cx="446.0" cy="181.8" r="0.60"/><circle cx="431.4" cy="190.1" r="0.77"/><circle cx="452.0" cy="180.3" r="0.47"/><circle cx="439.6" cy="182.4" r="0.54"/><circle cx="445.8" cy="181.8" r="0.52"/><circle cx="432.3" cy="181.1" r="0.67"/><circle cx="436.0" cy="180.9" r="0.76"/><circle cx="450.0" cy="187.7" r="0.51"/><circle cx="441.3" cy="186.1" r="0.80"/><circle cx="441.8" cy="176.6" r="0.71"/><circle cx="452.9" cy="181.7" r="0.59"/><circle cx="437.0" cy="191.5" r="0.79"/><circle cx="437.2" cy="174.8" r="0.73"/><circle cx="429.3" cy="188.2" r="0.73"/><circle cx="443.1" cy="193.4" r="0.36"/><circle cx="427.6" cy="181.8" r="0.42"/><circle cx="447.5" cy="180.3" r="0.43"/><circle cx="428.9" cy="188.2" r="0.54"/><circle cx="443.3" cy="183.8" r="0.67"/><circle cx="443.8" cy="187.8" r="0.71"/><circle cx="447.8" cy="175.8" r="0.43"/><circle cx="451.7" cy="184.0" r="0.62"/><circle cx="437.4" cy="184.8" r="0.54"/><circle cx="439.6" cy="192.1" r="0.79"/><circle cx="439.7" cy="186.6" r="0.66"/><circle cx="444.2" cy="187.0" r="0.55"/><circle cx="447.2" cy="183.2" r="0.49"/><circle cx="432.7" cy="184.4" r="0.53"/><circle cx="436.1" cy="177.7" r="0.71"/><circle cx="440.6" cy="186.9" r="0.63"/><circle cx="425.0" cy="186.8" r="0.40"/><circle cx="438.4" cy="174.7" r="0.52"/><circle cx="446.8" cy="189.9" r="0.69"/><circle cx="428.5" cy="185.0" r="0.66"/><circle cx="431.2" cy="179.2" r="0.43"/><circle cx="427.9" cy="185.5" r="0.75"/><circle cx="449.9" cy="183.4" r="0.50"/><circle cx="440.7" cy="192.3" r="0.68"/><circle cx="438.9" cy="192.8" r="0.80"/><circle cx="427.4" cy="190.4" r="0.55"/><circle cx="430.6" cy="175.3" r="0.44"/><circle cx="430.3" cy="192.7" r="0.38"/><circle cx="435.1" cy="190.8" r="0.69"/><circle cx="428.8" cy="175.9" r="0.65"/><circle cx="442.7" cy="183.7" r="0.37"/><circle cx="436.5" cy="184.5" r="0.59"/><circle cx="434.2" cy="180.0" r="0.74"/><circle cx="426.1" cy="189.3" r="0.51"/><circle cx="430.6" cy="178.2" r="0.47"/><circle cx="438.9" cy="183.0" r="0.46"/><circle cx="432.6" cy="193.0" r="0.58"/><circle cx="446.7" cy="185.1" r="0.62"/><circle cx="440.5" cy="180.3" r="0.70"/><circle cx="430.3" cy="188.8" r="0.54"/><circle cx="424.9" cy="187.8" r="0.76"/><circle cx="449.9" cy="179.0" r="0.67"/><circle cx="440.5" cy="185.3" r="0.72"/><circle cx="433.2" cy="176.0" r="0.49"/><circle cx="437.2" cy="194.2" r="0.59"/><circle cx="447.4" cy="184.5" r="0.51"/><circle cx="452.2" cy="188.2" r="0.76"/><circle cx="439.1" cy="183.0" r="0.54"/><circle cx="448.5" cy="189.7" r="0.71"/><circle cx="442.0" cy="174.2" r="0.40"/><circle cx="443.3" cy="184.0" r="0.73"/><circle cx="443.8" cy="176.8" r="0.46"/><circle cx="441.9" cy="180.7" r="0.50"/><circle cx="453.6" cy="183.8" r="0.54"/><circle cx="440.5" cy="173.9" r="0.61"/><circle cx="451.9" cy="182.9" r="0.77"/><circle cx="442.9" cy="183.0" r="0.69"/><circle cx="440.0" cy="189.9" r="0.50"/><circle cx="442.4" cy="183.5" r="0.55"/><circle cx="449.1" cy="191.6" r="0.57"/><circle cx="435.5" cy="176.1" r="0.70"/><circle cx="433.7" cy="189.8" r="0.68"/><circle cx="434.6" cy="173.8" r="0.49"/><circle cx="446.2" cy="176.0" r="0.61"/><circle cx="429.2" cy="188.2" r="0.38"/><circle cx="445.6" cy="187.2" r="0.41"/><circle cx="450.8" cy="186.5" r="0.68"/><circle cx="433.6" cy="180.4" r="0.67"/><circle cx="444.1" cy="176.0" r="0.45"/><circle cx="430.0" cy="181.0" r="0.47"/><circle cx="447.0" cy="191.9" r="0.63"/><circle cx="444.4" cy="181.8" r="0.47"/><circle cx="435.1" cy="183.5" r="0.49"/><circle cx="428.6" cy="181.8" r="0.76"/><circle cx="428.1" cy="179.6" r="0.61"/><circle cx="440.7" cy="177.2" r="0.35"/><circle cx="452.0" cy="182.5" r="0.41"/><circle cx="444.1" cy="187.1" r="0.65"/><circle cx="440.1" cy="184.8" r="0.57"/><circle cx="446.3" cy="183.9" r="0.52"/><circle cx="438.9" cy="184.2" r="0.47"/><circle cx="439.0" cy="190.0" r="0.54"/><circle cx="433.3" cy="188.5" r="0.36"/><circle cx="445.4" cy="175.6" r="0.57"/><circle cx="445.9" cy="183.8" r="0.76"/><circle cx="432.1" cy="185.0" r="0.72"/><circle cx="442.8" cy="181.3" r="0.58"/><circle cx="433.9" cy="182.3" r="0.49"/><circle cx="429.6" cy="177.6" r="0.63"/><circle cx="432.0" cy="179.1" r="0.38"/><circle cx="452.4" cy="184.7" r="0.74"/><circle cx="442.1" cy="182.0" r="0.70"/><circle cx="442.9" cy="189.4" r="0.44"/><circle cx="447.4" cy="176.0" r="0.72"/><circle cx="428.0" cy="190.9" r="0.47"/><circle cx="427.7" cy="179.6" r="0.46"/><circle cx="435.2" cy="186.1" r="0.71"/><circle cx="440.9" cy="187.4" r="0.48"/><circle cx="431.1" cy="176.9" r="0.59"/><circle cx="446.6" cy="176.1" r="0.44"/><circle cx="432.7" cy="182.7" r="0.46"/><circle cx="441.2" cy="186.1" r="0.51"/><circle cx="447.9" cy="177.9" r="0.39"/><circle cx="440.9" cy="192.0" r="0.59"/><circle cx="443.2" cy="184.3" r="0.60"/><circle cx="435.3" cy="181.8" r="0.70"/><circle cx="439.4" cy="192.1" r="0.59"/><circle cx="430.9" cy="192.7" r="0.53"/><circle cx="428.9" cy="187.5" r="0.73"/><circle cx="451.8" cy="183.0" r="0.59"/><circle cx="436.2" cy="175.1" r="0.78"/><circle cx="451.6" cy="181.9" r="0.45"/><circle cx="429.7" cy="180.7" r="0.45"/><circle cx="440.1" cy="178.6" r="0.67"/><circle cx="428.9" cy="184.2" r="0.67"/><circle cx="436.4" cy="172.9" r="0.80"/><circle cx="441.1" cy="178.3" r="0.65"/><circle cx="424.2" cy="184.0" r="0.55"/><circle cx="437.2" cy="185.1" r="0.56"/><circle cx="430.5" cy="182.5" r="0.40"/><circle cx="434.7" cy="184.0" r="0.43"/><circle cx="430.4" cy="185.9" r="0.58"/><circle cx="429.5" cy="182.4" r="0.41"/><circle cx="449.8" cy="184.6" r="0.79"/><circle cx="437.0" cy="190.1" r="0.49"/><circle cx="438.2" cy="176.0" r="0.71"/><circle cx="444.2" cy="183.8" r="0.44"/><circle cx="432.3" cy="188.8" r="0.52"/><circle cx="448.4" cy="182.1" r="0.61"/><circle cx="450.4" cy="181.7" r="0.62"/><circle cx="442.8" cy="178.1" r="0.37"/><circle cx="449.3" cy="181.6" r="0.61"/><circle cx="450.5" cy="187.6" r="0.52"/><circle cx="433.7" cy="179.1" r="0.76"/><circle cx="433.4" cy="187.9" r="0.75"/><circle cx="440.0" cy="189.3" r="0.57"/><circle cx="443.8" cy="183.3" r="0.44"/><circle cx="439.9" cy="180.8" r="0.54"/><circle cx="441.3" cy="174.6" r="0.71"/><circle cx="449.2" cy="190.7" r="0.51"/><circle cx="442.7" cy="176.8" r="0.75"/><circle cx="431.2" cy="184.5" r="0.42"/><circle cx="435.4" cy="183.8" r="0.42"/><circle cx="446.7" cy="177.8" r="0.74"/><circle cx="444.8" cy="189.9" r="0.56"/><circle cx="444.7" cy="187.2" r="0.76"/><circle cx="436.9" cy="176.0" r="0.62"/><circle cx="448.1" cy="175.5" r="0.62"/><circle cx="452.0" cy="186.9" r="0.42"/><circle cx="439.0" cy="187.8" r="0.58"/><circle cx="429.9" cy="180.0" r="0.56"/><circle cx="446.7" cy="190.9" r="0.59"/><circle cx="433.7" cy="193.1" r="0.77"/><circle cx="451.9" cy="178.6" r="0.38"/><circle cx="431.0" cy="188.5" r="0.47"/><circle cx="438.1" cy="173.2" r="0.41"/><circle cx="424.0" cy="183.3" r="0.75"/><circle cx="434.1" cy="184.8" r="0.56"/><circle cx="425.5" cy="182.6" r="0.43"/><circle cx="436.0" cy="194.4" r="0.36"/><circle cx="435.2" cy="181.5" r="0.69"/><circle cx="425.9" cy="188.6" r="0.45"/><circle cx="443.8" cy="180.0" r="0.37"/><circle cx="442.2" cy="185.3" r="0.52"/><circle cx="447.5" cy="182.6" r="0.67"/><circle cx="449.2" cy="185.4" r="0.59"/><circle cx="448.0" cy="188.5" r="0.55"/><circle cx="432.3" cy="192.6" r="0.66"/><circle cx="442.3" cy="186.2" r="0.37"/><circle cx="437.7" cy="192.4" r="0.79"/><circle cx="452.4" cy="181.7" r="0.41"/><circle cx="442.1" cy="174.4" r="0.56"/><circle cx="450.3" cy="183.5" r="0.40"/><circle cx="439.8" cy="187.6" r="0.62"/><circle cx="428.8" cy="176.5" r="0.35"/><circle cx="453.5" cy="184.4" r="0.47"/><circle cx="437.5" cy="193.9" r="0.40"/><circle cx="442.5" cy="173.7" r="0.60"/><circle cx="437.8" cy="183.2" r="0.62"/><circle cx="428.8" cy="177.4" r="0.58"/><circle cx="444.0" cy="187.1" r="0.64"/><circle cx="443.0" cy="185.4" r="0.46"/><circle cx="441.9" cy="175.9" r="0.51"/><circle cx="449.8" cy="181.8" r="0.46"/><circle cx="426.0" cy="179.6" r="0.52"/><circle cx="428.3" cy="187.0" r="0.79"/><circle cx="434.6" cy="180.1" r="0.61"/><circle cx="434.2" cy="190.5" r="0.67"/><circle cx="449.3" cy="184.7" r="0.49"/><circle cx="427.7" cy="177.9" r="0.56"/><circle cx="433.2" cy="179.4" r="0.47"/><circle cx="427.8" cy="183.2" r="0.45"/><circle cx="439.7" cy="176.0" r="0.51"/><circle cx="438.4" cy="193.8" r="0.76"/><circle cx="445.6" cy="181.6" r="0.38"/><circle cx="437.1" cy="182.4" r="0.74"/><circle cx="434.9" cy="177.9" r="0.55"/><circle cx="436.2" cy="179.7" r="0.51"/><circle cx="441.5" cy="174.9" r="0.61"/><circle cx="444.3" cy="186.8" r="0.47"/><circle cx="450.5" cy="185.4" r="0.61"/><circle cx="448.6" cy="179.9" r="0.76"/><circle cx="428.1" cy="185.2" r="0.48"/><circle cx="424.5" cy="186.1" r="0.57"/><circle cx="447.6" cy="183.8" r="0.44"/><circle cx="431.1" cy="178.2" r="0.56"/><circle cx="450.4" cy="179.5" r="0.39"/><circle cx="451.0" cy="185.5" r="0.62"/><circle cx="432.6" cy="177.3" r="0.37"/><circle cx="425.6" cy="186.7" r="0.62"/><circle cx="443.8" cy="184.8" r="0.76"/><circle cx="432.9" cy="182.5" r="0.67"/><circle cx="451.1" cy="179.0" r="0.64"/><circle cx="440.3" cy="180.7" r="0.56"/><circle cx="441.9" cy="177.7" r="0.41"/><circle cx="447.1" cy="176.8" r="0.35"/><circle cx="449.0" cy="186.9" r="0.78"/><circle cx="428.3" cy="176.8" r="0.40"/><circle cx="433.0" cy="181.5" r="0.50"/><circle cx="444.7" cy="189.7" r="0.37"/><circle cx="432.0" cy="176.3" r="0.76"/><circle cx="439.2" cy="180.7" r="0.74"/><circle cx="424.7" cy="180.9" r="0.57"/><circle cx="449.7" cy="188.2" r="0.43"/><circle cx="449.7" cy="182.9" r="0.76"/><circle cx="430.1" cy="184.0" r="0.65"/><circle cx="436.2" cy="176.5" r="0.47"/><circle cx="427.6" cy="188.2" r="0.45"/><circle cx="444.4" cy="190.1" r="0.65"/><circle cx="445.8" cy="186.0" r="0.79"/><circle cx="437.3" cy="193.3" r="0.49"/><circle cx="447.7" cy="187.6" r="0.74"/><circle cx="439.3" cy="181.3" r="0.67"/><circle cx="431.1" cy="178.4" r="0.65"/>
<circle cx="426.3" cy="201.5" r="0.66"/><circle cx="438.5" cy="205.6" r="0.73"/><circle cx="422.9" cy="199.3" r="0.67"/><circle cx="423.4" cy="202.3" r="0.60"/><circle cx="441.5" cy="202.7" r="0.37"/><circle cx="447.0" cy="201.8" r="0.64"/><circle cx="440.3" cy="209.0" r="0.48"/><circle cx="436.8" cy="195.2" r="0.62"/><circle cx="432.3" cy="197.4" r="0.73"/><circle cx="420.1" cy="199.9" r="0.73"/><circle cx="432.4" cy="207.8" r="0.51"/><circle cx="445.1" cy="205.9" r="0.66"/><circle cx="421.6" cy="202.4" r="0.75"/><circle cx="440.8" cy="204.3" r="0.66"/><circle cx="422.4" cy="200.6" r="0.47"/><circle cx="434.8" cy="209.3" r="0.50"/><circle cx="445.9" cy="198.7" r="0.79"/><circle cx="430.9" cy="208.4" r="0.40"/><circle cx="430.1" cy="203.9" r="0.58"/><circle cx="445.3" cy="199.9" r="0.51"/><circle cx="430.3" cy="210.6" r="0.37"/><circle cx="440.5" cy="195.1" r="0.38"/><circle cx="444.2" cy="199.8" r="0.53"/><circle cx="422.3" cy="205.2" r="0.59"/><circle cx="442.3" cy="195.7" r="0.50"/><circle cx="445.9" cy="202.4" r="0.64"/><circle cx="430.4" cy="200.0" r="0.38"/><circle cx="440.0" cy="198.8" r="0.56"/><circle cx="439.2" cy="201.3" r="0.64"/><circle cx="443.1" cy="204.5" r="0.68"/><circle cx="439.9" cy="208.6" r="0.79"/><circle cx="438.8" cy="194.9" r="0.78"/><circle cx="430.4" cy="195.5" r="0.72"/><circle cx="436.8" cy="195.3" r="0.65"/><circle cx="436.5" cy="206.7" r="0.50"/><circle cx="441.1" cy="195.8" r="0.48"/><circle cx="436.3" cy="201.9" r="0.38"/><circle cx="430.7" cy="204.2" r="0.78"/><circle cx="426.8" cy="206.4" r="0.73"/><circle cx="421.0" cy="200.5" r="0.55"/><circle cx="418.5" cy="204.2" r="0.47"/><circle cx="422.5" cy="201.0" r="0.41"/><circle cx="439.2" cy="207.1" r="0.71"/><circle cx="429.4" cy="202.9" r="0.77"/><circle cx="441.9" cy="208.4" r="0.37"/><circle cx="429.3" cy="199.2" r="0.47"/><circle cx="421.2" cy="205.7" r="0.55"/><circle cx="424.4" cy="204.8" r="0.58"/><circle cx="429.9" cy="210.6" r="0.44"/><circle cx="440.2" cy="206.9" r="0.51"/><circle cx="432.2" cy="200.2" r="0.65"/><circle cx="423.2" cy="208.5" r="0.49"/><circle cx="425.0" cy="204.1" r="0.59"/><circle cx="430.3" cy="209.2" r="0.54"/><circle cx="430.6" cy="197.3" r="0.56"/><circle cx="420.8" cy="199.3" r="0.64"/><circle cx="428.7" cy="203.1" r="0.40"/><circle cx="436.6" cy="205.1" r="0.43"/><circle cx="428.1" cy="197.5" r="0.76"/><circle cx="433.4" cy="206.4" r="0.43"/><circle cx="440.3" cy="207.9" r="0.61"/><circle cx="432.6" cy="210.1" r="0.65"/><circle cx="422.2" cy="205.0" r="0.65"/><circle cx="428.5" cy="203.0" r="0.51"/><circle cx="441.3" cy="200.2" r="0.64"/><circle cx="443.9" cy="206.2" r="0.74"/><circle cx="426.3" cy="205.9" r="0.58"/><circle cx="432.6" cy="206.1" r="0.41"/><circle cx="428.6" cy="196.1" r="0.78"/><circle cx="446.3" cy="200.0" r="0.78"/><circle cx="433.9" cy="200.8" r="0.41"/><circle cx="446.6" cy="200.7" r="0.63"/><circle cx="425.5" cy="197.9" r="0.54"/><circle cx="439.5" cy="207.3" r="0.47"/><circle cx="442.8" cy="207.8" r="0.61"/><circle cx="438.5" cy="198.6" r="0.61"/><circle cx="430.4" cy="210.1" r="0.44"/><circle cx="426.0" cy="196.6" r="0.50"/><circle cx="441.9" cy="205.0" r="0.59"/><circle cx="435.5" cy="198.3" r="0.43"/><circle cx="428.1" cy="209.6" r="0.45"/><circle cx="430.9" cy="200.8" r="0.39"/><circle cx="430.0" cy="195.9" r="0.40"/><circle cx="418.4" cy="203.5" r="0.53"/><circle cx="423.6" cy="200.0" r="0.58"/><circle cx="446.3" cy="204.3" r="0.61"/><circle cx="428.1" cy="205.9" r="0.43"/><circle cx="445.3" cy="198.7" r="0.52"/><circle cx="423.8" cy="198.0" r="0.44"/><circle cx="445.3" cy="203.6" r="0.42"/><circle cx="430.9" cy="201.5" r="0.36"/><circle cx="438.9" cy="208.2" r="0.63"/><circle cx="444.9" cy="201.6" r="0.58"/><circle cx="447.3" cy="202.7" r="0.57"/><circle cx="434.6" cy="200.6" r="0.73"/><circle cx="425.8" cy="202.6" r="0.53"/><circle cx="442.9" cy="205.1" r="0.45"/><circle cx="430.8" cy="198.4" r="0.66"/><circle cx="423.3" cy="196.9" r="0.78"/><circle cx="429.2" cy="209.1" r="0.53"/><circle cx="443.4" cy="196.9" r="0.69"/><circle cx="426.5" cy="199.3" r="0.76"/><circle cx="447.0" cy="200.3" r="0.50"/><circle cx="438.1" cy="195.3" r="0.73"/><circle cx="436.0" cy="196.3" r="0.53"/><circle cx="436.1" cy="195.0" r="0.59"/><circle cx="434.6" cy="200.9" r="0.36"/><circle cx="428.1" cy="202.6" r="0.73"/><circle cx="444.7" cy="206.4" r="0.45"/><circle cx="441.4" cy="207.8" r="0.65"/><circle cx="422.9" cy="205.7" r="0.60"/><circle cx="442.8" cy="200.0" r="0.59"/><circle cx="423.3" cy="203.4" r="0.66"/><circle cx="442.2" cy="206.8" r="0.77"/><circle cx="433.5" cy="195.4" r="0.51"/><circle cx="436.4" cy="203.6" r="0.59"/><circle cx="442.9" cy="196.3" r="0.43"/><circle cx="432.6" cy="193.9" r="0.57"/><circle cx="436.8" cy="199.0" r="0.50"/><circle cx="420.0" cy="201.3" r="0.55"/><circle cx="428.2" cy="209.9" r="0.53"/><circle cx="426.5" cy="204.1" r="0.57"/><circle cx="430.2" cy="196.8" r="0.65"/><circle cx="431.1" cy="202.0" r="0.78"/><circle cx="430.1" cy="208.5" r="0.78"/><circle cx="433.7" cy="204.2" r="0.44"/><circle cx="440.6" cy="208.8" r="0.58"/><circle cx="440.2" cy="203.2" r="0.58"/><circle cx="436.5" cy="206.4" r="0.76"/><circle cx="425.9" cy="203.5" r="0.62"/>
<circle cx="446.5" cy="218.8" r="0.64"/><circle cx="447.3" cy="218.1" r="0.49"/><circle cx="440.7" cy="208.7" r="0.76"/><circle cx="437.7" cy="212.9" r="0.43"/><circle cx="438.4" cy="208.1" r="0.38"/><circle cx="436.4" cy="217.1" r="0.56"/><circle cx="446.2" cy="210.7" r="0.68"/><circle cx="441.5" cy="210.8" r="0.63"/><circle cx="436.1" cy="218.9" r="0.59"/><circle cx="439.0" cy="212.2" r="0.73"/><circle cx="444.0" cy="218.8" r="0.73"/><circle cx="447.0" cy="214.6" r="0.78"/><circle cx="450.5" cy="216.8" r="0.44"/><circle cx="449.5" cy="216.5" r="0.42"/><circle cx="441.0" cy="214.3" r="0.41"/><circle cx="439.2" cy="216.8" r="0.56"/><circle cx="436.1" cy="220.7" r="0.57"/><circle cx="450.0" cy="213.4" r="0.43"/><circle cx="449.2" cy="211.2" r="0.60"/><circle cx="436.9" cy="214.4" r="0.49"/><circle cx="441.8" cy="218.5" r="0.63"/><circle cx="437.0" cy="221.3" r="0.61"/><circle cx="442.4" cy="212.9" r="0.73"/><circle cx="433.1" cy="214.7" r="0.46"/><circle cx="438.9" cy="210.2" r="0.67"/><circle cx="437.8" cy="213.5" r="0.49"/><circle cx="441.0" cy="214.0" r="0.63"/><circle cx="432.9" cy="213.1" r="0.50"/><circle cx="434.2" cy="215.8" r="0.69"/><circle cx="447.4" cy="217.5" r="0.47"/><circle cx="436.7" cy="212.8" r="0.44"/><circle cx="442.1" cy="222.5" r="0.51"/><circle cx="447.3" cy="210.3" r="0.47"/><circle cx="440.1" cy="214.8" r="0.77"/><circle cx="438.7" cy="213.0" r="0.58"/><circle cx="432.8" cy="215.2" r="0.48"/><circle cx="447.7" cy="211.6" r="0.38"/><circle cx="444.9" cy="208.2" r="0.49"/><circle cx="438.8" cy="207.8" r="0.75"/><circle cx="449.3" cy="218.1" r="0.46"/><circle cx="443.7" cy="208.7" r="0.56"/><circle cx="448.3" cy="210.9" r="0.80"/><circle cx="448.3" cy="213.4" r="0.68"/><circle cx="438.0" cy="210.6" r="0.57"/><circle cx="436.4" cy="214.8" r="0.47"/>
<circle cx="428.1" cy="170.9" r="0.66"/><circle cx="423.4" cy="172.1" r="0.61"/><circle cx="424.7" cy="179.1" r="0.55"/><circle cx="427.7" cy="179.0" r="0.56"/><circle cx="427.7" cy="182.8" r="0.72"/><circle cx="430.2" cy="182.2" r="0.71"/><circle cx="427.1" cy="175.5" r="0.77"/><circle cx="422.2" cy="185.8" r="0.78"/><circle cx="420.2" cy="177.3" r="0.40"/><circle cx="428.1" cy="180.2" r="0.40"/><circle cx="426.3" cy="174.6" r="0.78"/><circle cx="423.9" cy="175.3" r="0.67"/><circle cx="423.2" cy="187.9" r="0.38"/><circle cx="427.6" cy="170.8" r="0.61"/><circle cx="423.7" cy="173.5" r="0.41"/><circle cx="422.7" cy="189.2" r="0.60"/><circle cx="427.0" cy="184.4" r="0.56"/><circle cx="426.3" cy="180.2" r="0.55"/><circle cx="428.8" cy="188.4" r="0.41"/><circle cx="425.0" cy="169.3" r="0.49"/><circle cx="419.2" cy="176.9" r="0.63"/><circle cx="420.5" cy="187.7" r="0.47"/><circle cx="428.2" cy="178.1" r="0.54"/><circle cx="423.1" cy="188.9" r="0.75"/><circle cx="424.0" cy="175.3" r="0.80"/><circle cx="424.3" cy="171.6" r="0.73"/><circle cx="428.6" cy="185.8" r="0.70"/><circle cx="425.8" cy="170.3" r="0.38"/><circle cx="421.9" cy="180.8" r="0.62"/><circle cx="421.8" cy="184.9" r="0.59"/>
</g>
<g fill="#ee6398">
<polygon points="391.9,206.9 393.1,204.8 398.8,203.9 404.6,203.0 409.0,203.2 410.8,205.1 408.1,206.5 401.2,207.4 395.4,208.3" filter="url(#rough)"/>
<circle cx="408.5" cy="206.2" r="0.45"/><circle cx="398.7" cy="204.5" r="0.67"/><circle cx="395.3" cy="205.0" r="0.65"/><circle cx="393.0" cy="207.2" r="0.37"/><circle cx="400.7" cy="203.6" r="0.44"/><circle cx="409.5" cy="203.6" r="0.39"/><circle cx="404.2" cy="203.2" r="0.39"/><circle cx="399.8" cy="207.5" r="0.63"/><circle cx="397.8" cy="207.7" r="0.64"/><circle cx="394.8" cy="204.9" r="0.43"/><circle cx="395.1" cy="208.1" r="0.38"/><circle cx="406.3" cy="207.2" r="0.59"/><circle cx="399.8" cy="203.8" r="0.65"/><circle cx="406.4" cy="206.2" r="0.37"/><circle cx="396.4" cy="207.8" r="0.56"/>
</g>
<g fill="#ee6398">
<circle cx="412.4" cy="206.5" r="0.56"/><circle cx="409.3" cy="201.2" r="0.44"/><circle cx="408.3" cy="201.0" r="0.58"/><circle cx="412.6" cy="205.0" r="0.70"/><circle cx="412.7" cy="207.2" r="0.62"/><circle cx="409.8" cy="197.5" r="0.55"/><circle cx="407.6" cy="203.7" r="0.73"/><circle cx="411.3" cy="197.5" r="0.54"/><circle cx="415.7" cy="209.6" r="0.72"/><circle cx="407.8" cy="200.3" r="0.40"/><circle cx="408.8" cy="205.0" r="0.48"/><circle cx="416.1" cy="209.3" r="0.47"/><circle cx="409.1" cy="205.2" r="0.41"/><circle cx="409.4" cy="199.1" r="0.74"/><circle cx="407.4" cy="202.9" r="0.38"/><circle cx="414.5" cy="205.2" r="0.35"/><circle cx="417.3" cy="209.7" r="0.49"/><circle cx="412.7" cy="204.2" r="0.72"/><circle cx="411.2" cy="197.1" r="0.51"/><circle cx="416.0" cy="209.4" r="0.53"/><circle cx="412.7" cy="206.3" r="0.66"/><circle cx="410.8" cy="193.4" r="0.73"/><circle cx="414.0" cy="204.2" r="0.49"/><circle cx="406.9" cy="202.4" r="0.51"/><circle cx="409.0" cy="200.5" r="0.66"/><circle cx="411.3" cy="204.6" r="0.70"/><circle cx="418.1" cy="210.6" r="0.49"/><circle cx="408.4" cy="199.0" r="0.63"/><circle cx="411.3" cy="190.1" r="0.40"/><circle cx="409.6" cy="201.4" r="0.56"/><circle cx="406.4" cy="202.0" r="0.73"/><circle cx="411.6" cy="201.4" r="0.50"/><circle cx="411.0" cy="200.9" r="0.65"/><circle cx="410.8" cy="205.5" r="0.43"/><circle cx="410.3" cy="206.1" r="0.36"/><circle cx="414.1" cy="208.4" r="0.73"/><circle cx="414.6" cy="207.0" r="0.41"/><circle cx="406.5" cy="201.3" r="0.59"/><circle cx="411.6" cy="199.0" r="0.54"/><circle cx="408.8" cy="202.2" r="0.47"/><circle cx="411.3" cy="201.8" r="0.74"/><circle cx="412.8" cy="202.2" r="0.43"/><circle cx="414.2" cy="205.2" r="0.57"/><circle cx="406.2" cy="203.2" r="0.44"/><circle cx="408.4" cy="203.9" r="0.72"/><circle cx="413.6" cy="200.5" r="0.52"/><circle cx="414.3" cy="202.9" r="0.56"/><circle cx="409.8" cy="204.6" r="0.73"/><circle cx="413.6" cy="202.9" r="0.74"/><circle cx="407.1" cy="202.1" r="0.46"/><circle cx="414.2" cy="206.4" r="0.68"/><circle cx="411.6" cy="199.7" r="0.52"/><circle cx="410.4" cy="207.0" r="0.70"/><circle cx="409.6" cy="205.5" r="0.44"/><circle cx="409.9" cy="206.6" r="0.69"/><circle cx="411.5" cy="195.8" r="0.50"/><circle cx="412.9" cy="201.4" r="0.47"/><circle cx="413.0" cy="208.4" r="0.61"/><circle cx="410.9" cy="201.3" r="0.66"/><circle cx="413.4" cy="205.7" r="0.49"/><circle cx="414.0" cy="206.1" r="0.50"/><circle cx="410.6" cy="201.4" r="0.54"/><circle cx="409.4" cy="198.4" r="0.61"/><circle cx="412.5" cy="206.0" r="0.51"/><circle cx="412.2" cy="195.7" r="0.58"/><circle cx="412.2" cy="206.6" r="0.72"/><circle cx="408.6" cy="204.2" r="0.35"/><circle cx="411.8" cy="200.8" r="0.50"/><circle cx="408.6" cy="205.1" r="0.60"/><circle cx="409.5" cy="202.6" r="0.50"/>
</g>
<g fill="#fff"><circle cx="476.6" cy="165.1" r="0.43"/><circle cx="451.1" cy="171.4" r="0.59"/><circle cx="474.3" cy="165.7" r="0.39"/><circle cx="456.9" cy="170.9" r="0.48"/><circle cx="471.9" cy="166.3" r="0.50"/><circle cx="467.5" cy="168.5" r="0.66"/><circle cx="474.5" cy="166.1" r="0.67"/><circle cx="468.3" cy="166.7" r="0.57"/><circle cx="447.1" cy="170.5" r="0.46"/><circle cx="446.2" cy="168.9" r="0.57"/><circle cx="457.0" cy="171.3" r="0.69"/><circle cx="458.5" cy="173.0" r="0.50"/><circle cx="459.7" cy="170.5" r="0.69"/><circle cx="461.8" cy="168.0" r="0.50"/><circle cx="473.2" cy="165.9" r="0.60"/><circle cx="474.5" cy="164.8" r="0.54"/><circle cx="459.8" cy="169.5" r="0.47"/><circle cx="447.4" cy="172.5" r="0.68"/><circle cx="445.9" cy="173.7" r="0.59"/><circle cx="467.1" cy="167.3" r="0.64"/><circle cx="469.0" cy="166.7" r="0.63"/><circle cx="460.8" cy="168.8" r="0.61"/><circle cx="468.6" cy="168.3" r="0.48"/><circle cx="466.0" cy="168.7" r="0.68"/><circle cx="470.1" cy="167.1" r="0.50"/><circle cx="466.6" cy="168.0" r="0.67"/><circle cx="449.5" cy="171.2" r="0.70"/><circle cx="468.7" cy="165.2" r="0.50"/><circle cx="451.4" cy="170.0" r="0.60"/><circle cx="452.1" cy="170.8" r="0.48"/><circle cx="459.1" cy="169.4" r="0.57"/><circle cx="477.5" cy="164.5" r="0.62"/><circle cx="457.3" cy="168.8" r="0.61"/><circle cx="455.5" cy="169.3" r="0.62"/><circle cx="459.8" cy="166.0" r="0.45"/><circle cx="447.6" cy="171.7" r="0.58"/><circle cx="473.2" cy="165.4" r="0.70"/><circle cx="458.4" cy="167.6" r="0.48"/><circle cx="459.0" cy="169.9" r="0.49"/><circle cx="475.7" cy="167.0" r="0.63"/><circle cx="463.4" cy="167.5" r="0.62"/><circle cx="472.9" cy="166.5" r="0.43"/><circle cx="455.2" cy="169.4" r="0.51"/><circle cx="466.5" cy="167.6" r="0.48"/><circle cx="464.9" cy="169.2" r="0.46"/><circle cx="454.6" cy="169.5" r="0.61"/><circle cx="469.7" cy="166.8" r="0.64"/><circle cx="462.4" cy="167.5" r="0.54"/><circle cx="477.4" cy="165.6" r="0.57"/><circle cx="461.0" cy="168.2" r="0.56"/><circle cx="446.1" cy="171.7" r="0.55"/><circle cx="473.7" cy="167.4" r="0.46"/><circle cx="454.8" cy="170.7" r="0.44"/><circle cx="463.6" cy="168.1" r="0.45"/><circle cx="457.5" cy="168.9" r="0.58"/><circle cx="452.5" cy="171.7" r="0.60"/><circle cx="452.1" cy="171.9" r="0.37"/><circle cx="475.2" cy="164.7" r="0.49"/><circle cx="449.0" cy="172.6" r="0.66"/><circle cx="474.9" cy="164.0" r="0.55"/><circle cx="461.8" cy="167.5" r="0.49"/><circle cx="472.3" cy="166.9" r="0.59"/><circle cx="476.0" cy="165.9" r="0.49"/><circle cx="452.0" cy="172.3" r="0.42"/><circle cx="461.1" cy="170.1" r="0.62"/><circle cx="449.5" cy="171.7" r="0.58"/><circle cx="467.8" cy="167.9" r="0.46"/><circle cx="458.3" cy="168.7" r="0.63"/><circle cx="458.1" cy="169.6" r="0.51"/><circle cx="477.0" cy="165.6" r="0.42"/><circle cx="458.1" cy="173.1" r="0.37"/><circle cx="453.0" cy="172.4" r="0.60"/><circle cx="456.3" cy="173.2" r="0.56"/><circle cx="442.9" cy="175.0" r="0.52"/><circle cx="449.3" cy="174.9" r="0.62"/><circle cx="444.1" cy="176.5" r="0.51"/><circle cx="454.5" cy="173.8" r="0.66"/><circle cx="445.5" cy="174.0" r="0.51"/><circle cx="457.4" cy="169.8" r="0.44"/><circle cx="449.6" cy="173.0" r="0.36"/><circle cx="457.2" cy="172.2" r="0.65"/><circle cx="452.1" cy="171.3" r="0.57"/><circle cx="461.1" cy="171.8" r="0.41"/><circle cx="454.1" cy="173.1" r="0.40"/><circle cx="442.6" cy="174.8" r="0.51"/><circle cx="439.4" cy="175.8" r="0.38"/><circle cx="442.0" cy="176.7" r="0.41"/><circle cx="451.2" cy="175.4" r="0.66"/><circle cx="449.9" cy="175.7" r="0.38"/><circle cx="454.4" cy="171.4" r="0.66"/><circle cx="442.8" cy="172.7" r="0.66"/><circle cx="457.4" cy="172.3" r="0.65"/><circle cx="448.3" cy="174.4" r="0.42"/><circle cx="444.0" cy="174.9" r="0.47"/><circle cx="461.0" cy="169.9" r="0.39"/><circle cx="447.3" cy="177.0" r="0.50"/><circle cx="461.4" cy="171.5" r="0.66"/><circle cx="442.0" cy="174.1" r="0.45"/><circle cx="455.2" cy="173.3" r="0.55"/><circle cx="461.8" cy="170.8" r="0.59"/><circle cx="455.9" cy="172.1" r="0.59"/><circle cx="456.9" cy="172.7" r="0.37"/><circle cx="453.8" cy="174.7" r="0.50"/><circle cx="461.8" cy="169.8" r="0.41"/><circle cx="447.5" cy="172.4" r="0.66"/><circle cx="448.9" cy="174.6" r="0.59"/><circle cx="455.0" cy="170.7" r="0.57"/><circle cx="460.1" cy="173.9" r="0.58"/><circle cx="442.9" cy="177.0" r="0.46"/><circle cx="460.4" cy="172.7" r="0.53"/></g>
<g fill="#5f9fd0">
<circle cx="421.9" cy="154.3" r="0.8"/>
<circle cx="423.8" cy="153.8" r="0.8"/>
<circle cx="425.6" cy="154.5" r="0.8"/>
<circle cx="427.5" cy="154.1" r="0.8"/>
<circle cx="425.4" cy="155.2" r="0.8"/>
<circle cx="398.8" cy="201.4" r="0.8"/>
<circle cx="400.7" cy="200.9" r="0.8"/>
<circle cx="402.5" cy="201.8" r="0.8"/>
<circle cx="418.5" cy="215.0" r="0.8"/>
<circle cx="420.1" cy="215.7" r="0.8"/>
<circle cx="421.9" cy="215.2" r="0.8"/>
<circle cx="434.6" cy="154.3" r="0.8"/>
</g>
<g fill="#c87ac8">
<polygon points="384.1,288.5 387.5,288.5 391.5,291.8 396.9,294.5 403.7,297.2 410.4,299.2 414.4,300.8 414.4,302.6 410.4,304.6 405.0,306.6 401.6,308.0 399.6,310.7 396.2,312.7 394.2,312.0 393.6,309.3 392.2,307.3 390.2,307.3 390.2,305.3 391.5,303.3 390.2,299.2 388.2,295.2 386.2,291.8" filter="url(#rough)"/>
<circle cx="386.5" cy="293.9" r="0.60"/><circle cx="402.4" cy="307.9" r="0.61"/><circle cx="403.5" cy="307.5" r="0.58"/><circle cx="392.6" cy="292.1" r="0.49"/><circle cx="391.6" cy="301.4" r="0.51"/><circle cx="405.1" cy="307.0" r="0.56"/><circle cx="390.3" cy="290.6" r="0.39"/><circle cx="395.7" cy="313.2" r="0.59"/><circle cx="398.1" cy="293.4" r="0.58"/><circle cx="385.1" cy="289.3" r="0.64"/><circle cx="386.8" cy="292.8" r="0.48"/><circle cx="393.4" cy="309.7" r="0.51"/><circle cx="394.5" cy="293.5" r="0.60"/><circle cx="400.7" cy="295.8" r="0.57"/><circle cx="396.9" cy="313.1" r="0.54"/><circle cx="398.9" cy="311.7" r="0.64"/><circle cx="398.5" cy="311.8" r="0.66"/><circle cx="387.9" cy="289.3" r="0.50"/><circle cx="385.1" cy="289.1" r="0.51"/><circle cx="406.7" cy="298.2" r="0.38"/><circle cx="391.0" cy="301.2" r="0.46"/><circle cx="389.8" cy="291.1" r="0.61"/><circle cx="407.4" cy="304.7" r="0.55"/><circle cx="388.3" cy="289.3" r="0.40"/><circle cx="388.7" cy="296.0" r="0.70"/><circle cx="413.6" cy="302.5" r="0.39"/><circle cx="410.0" cy="299.9" r="0.62"/><circle cx="394.0" cy="310.7" r="0.67"/><circle cx="397.0" cy="295.3" r="0.70"/><circle cx="386.1" cy="287.9" r="0.54"/><circle cx="391.2" cy="301.0" r="0.46"/><circle cx="390.2" cy="306.8" r="0.40"/><circle cx="390.0" cy="306.0" r="0.61"/><circle cx="386.4" cy="293.0" r="0.63"/><circle cx="405.1" cy="297.3" r="0.68"/><circle cx="401.7" cy="309.0" r="0.62"/><circle cx="412.7" cy="300.6" r="0.63"/><circle cx="413.8" cy="302.9" r="0.53"/><circle cx="395.3" cy="294.0" r="0.37"/><circle cx="401.0" cy="308.0" r="0.63"/>
</g>
<g fill="#c87ac8"><circle cx="379.4" cy="291.8" r="0.9"/><circle cx="383.5" cy="293.8" r="0.8"/></g>
<g fill="#22b896">
<polygon points="178.9,303.5 181.5,302.2 184.6,304.2 187.7,305.8 190.8,305.8 190.0,308.1 187.7,309.6 188.5,311.9 191.5,314.2 196.2,316.5 202.3,318.1 210.0,318.5 216.2,318.8 222.3,318.1 228.5,316.5 234.2,315.3 240.4,314.2 245.0,311.9 246.5,308.1 248.1,304.2 246.5,300.4 243.5,297.3 239.6,294.2 235.0,291.2 231.9,288.1 236.1,289.8 240.7,291.9 245.0,293.5 249.6,294.5 254.2,293.8 258.8,291.9 263.5,289.6 268.1,287.3 272.7,285.5 277.3,284.5 280.4,284.2 281.2,286.5 279.6,289.6 278.1,293.5 278.8,298.1 281.2,302.7 284.2,307.3 287.3,311.2 288.1,312.7 283.5,314.2 278.8,316.5 272.7,318.8 265.0,321.2 257.3,321.9 252.7,320.4 249.6,318.7 245.0,319.0 238.8,320.1 232.7,321.3 228.1,322.1 223.8,320.7 217.7,323.2 211.5,325.8 205.4,328.1 199.2,328.8 194.6,327.3 191.5,324.2 188.5,319.6 185.4,315.0 182.3,310.4 180.0,306.5" filter="url(#rough)"/>
<circle cx="278.4" cy="295.9" r="0.47"/><circle cx="185.2" cy="304.9" r="0.40"/><circle cx="286.0" cy="310.3" r="0.66"/><circle cx="220.2" cy="322.3" r="0.49"/><circle cx="180.3" cy="306.8" r="0.46"/><circle cx="279.9" cy="289.1" r="0.66"/><circle cx="268.5" cy="319.8" r="0.48"/><circle cx="249.8" cy="294.1" r="0.60"/><circle cx="205.5" cy="328.1" r="0.68"/><circle cx="228.4" cy="316.3" r="0.43"/><circle cx="182.0" cy="303.0" r="0.37"/><circle cx="182.0" cy="303.4" r="0.61"/><circle cx="245.7" cy="309.6" r="0.60"/><circle cx="246.5" cy="301.2" r="0.43"/><circle cx="257.1" cy="292.2" r="0.37"/><circle cx="232.5" cy="288.3" r="0.49"/><circle cx="279.7" cy="300.3" r="0.66"/><circle cx="188.9" cy="312.1" r="0.54"/><circle cx="278.0" cy="296.0" r="0.66"/><circle cx="238.9" cy="293.7" r="0.66"/><circle cx="286.9" cy="310.3" r="0.46"/><circle cx="261.9" cy="321.1" r="0.41"/><circle cx="232.3" cy="288.0" r="0.51"/><circle cx="232.6" cy="321.7" r="0.47"/><circle cx="261.5" cy="321.7" r="0.44"/><circle cx="252.0" cy="319.4" r="0.49"/><circle cx="188.8" cy="311.9" r="0.60"/><circle cx="274.7" cy="285.1" r="0.43"/><circle cx="244.0" cy="319.2" r="0.63"/><circle cx="278.6" cy="292.3" r="0.49"/><circle cx="279.2" cy="292.5" r="0.40"/><circle cx="283.2" cy="306.2" r="0.51"/><circle cx="246.1" cy="300.2" r="0.57"/><circle cx="193.0" cy="314.8" r="0.43"/><circle cx="246.9" cy="302.2" r="0.67"/><circle cx="198.5" cy="317.0" r="0.44"/><circle cx="233.9" cy="289.4" r="0.62"/><circle cx="272.2" cy="285.9" r="0.64"/><circle cx="258.3" cy="292.3" r="0.36"/><circle cx="275.6" cy="317.6" r="0.50"/><circle cx="211.5" cy="326.2" r="0.47"/><circle cx="278.6" cy="298.4" r="0.67"/><circle cx="262.1" cy="321.5" r="0.51"/><circle cx="237.9" cy="290.3" r="0.59"/><circle cx="222.8" cy="317.8" r="0.67"/><circle cx="238.4" cy="290.5" r="0.47"/><circle cx="279.3" cy="297.4" r="0.64"/><circle cx="280.7" cy="302.0" r="0.64"/><circle cx="277.8" cy="316.6" r="0.62"/><circle cx="278.9" cy="291.3" r="0.62"/><circle cx="266.5" cy="320.3" r="0.48"/><circle cx="186.4" cy="315.6" r="0.50"/><circle cx="279.2" cy="284.6" r="0.64"/><circle cx="285.4" cy="309.7" r="0.36"/><circle cx="248.2" cy="294.7" r="0.47"/><circle cx="288.1" cy="312.6" r="0.39"/><circle cx="182.8" cy="302.6" r="0.50"/><circle cx="187.4" cy="305.6" r="0.66"/><circle cx="189.9" cy="308.2" r="0.55"/><circle cx="237.0" cy="314.4" r="0.69"/><circle cx="196.5" cy="316.8" r="0.45"/><circle cx="235.1" cy="315.4" r="0.45"/><circle cx="246.0" cy="318.4" r="0.36"/><circle cx="284.7" cy="307.2" r="0.56"/><circle cx="256.2" cy="292.7" r="0.47"/><circle cx="276.7" cy="284.7" r="0.59"/><circle cx="217.9" cy="323.0" r="0.49"/><circle cx="239.2" cy="320.4" r="0.59"/><circle cx="278.5" cy="292.5" r="0.60"/><circle cx="219.4" cy="318.1" r="0.60"/><circle cx="202.8" cy="318.0" r="0.66"/><circle cx="225.4" cy="317.0" r="0.60"/><circle cx="259.3" cy="322.1" r="0.50"/><circle cx="268.0" cy="287.1" r="0.66"/><circle cx="235.3" cy="291.1" r="0.39"/><circle cx="285.2" cy="308.9" r="0.42"/><circle cx="252.0" cy="319.5" r="0.40"/><circle cx="190.0" cy="307.7" r="0.60"/><circle cx="279.2" cy="296.2" r="0.58"/><circle cx="219.7" cy="322.2" r="0.37"/><circle cx="258.1" cy="321.4" r="0.53"/><circle cx="265.0" cy="288.8" r="0.40"/><circle cx="186.8" cy="316.2" r="0.69"/><circle cx="259.6" cy="292.0" r="0.52"/><circle cx="244.2" cy="292.9" r="0.69"/><circle cx="234.0" cy="316.0" r="0.43"/><circle cx="251.8" cy="320.3" r="0.51"/><circle cx="245.0" cy="311.4" r="0.67"/><circle cx="217.8" cy="318.8" r="0.61"/><circle cx="279.6" cy="296.2" r="0.59"/><circle cx="246.5" cy="308.0" r="0.49"/><circle cx="243.6" cy="319.4" r="0.54"/><circle cx="199.0" cy="328.7" r="0.50"/><circle cx="239.6" cy="314.1" r="0.51"/><circle cx="204.9" cy="328.5" r="0.69"/><circle cx="241.4" cy="295.9" r="0.47"/><circle cx="280.7" cy="315.6" r="0.54"/><circle cx="250.9" cy="319.4" r="0.49"/><circle cx="213.6" cy="319.0" r="0.36"/><circle cx="237.7" cy="320.2" r="0.60"/><circle cx="189.4" cy="312.7" r="0.36"/><circle cx="206.7" cy="327.2" r="0.65"/><circle cx="250.4" cy="294.7" r="0.62"/><circle cx="266.4" cy="287.0" r="0.61"/><circle cx="281.1" cy="285.9" r="0.55"/><circle cx="255.5" cy="293.3" r="0.55"/><circle cx="280.1" cy="300.2" r="0.68"/><circle cx="243.4" cy="312.5" r="0.60"/><circle cx="246.6" cy="301.4" r="0.36"/><circle cx="215.9" cy="323.8" r="0.46"/><circle cx="279.2" cy="298.5" r="0.37"/><circle cx="239.9" cy="314.0" r="0.62"/><circle cx="250.9" cy="319.9" r="0.40"/><circle cx="287.0" cy="312.8" r="0.58"/><circle cx="211.3" cy="318.5" r="0.67"/><circle cx="269.5" cy="320.4" r="0.57"/><circle cx="241.3" cy="291.6" r="0.59"/><circle cx="236.8" cy="314.8" r="0.50"/><circle cx="191.4" cy="323.5" r="0.42"/><circle cx="243.7" cy="312.5" r="0.43"/><circle cx="250.3" cy="318.8" r="0.49"/><circle cx="256.3" cy="322.0" r="0.42"/><circle cx="183.6" cy="303.2" r="0.45"/><circle cx="189.4" cy="321.8" r="0.40"/><circle cx="252.3" cy="293.7" r="0.64"/><circle cx="193.7" cy="326.5" r="0.40"/><circle cx="274.6" cy="317.9" r="0.60"/><circle cx="236.3" cy="314.7" r="0.40"/><circle cx="236.3" cy="321.2" r="0.62"/><circle cx="259.2" cy="291.7" r="0.40"/><circle cx="260.4" cy="321.9" r="0.48"/><circle cx="247.5" cy="307.0" r="0.50"/><circle cx="215.5" cy="318.7" r="0.43"/><circle cx="216.2" cy="318.5" r="0.36"/><circle cx="191.2" cy="323.4" r="0.50"/><circle cx="259.6" cy="291.8" r="0.65"/><circle cx="247.3" cy="300.5" r="0.67"/><circle cx="210.9" cy="318.9" r="0.46"/><circle cx="244.5" cy="312.4" r="0.54"/><circle cx="234.0" cy="315.9" r="0.41"/><circle cx="233.0" cy="321.0" r="0.40"/><circle cx="281.5" cy="303.5" r="0.60"/><circle cx="279.8" cy="300.4" r="0.60"/><circle cx="193.0" cy="326.3" r="0.43"/><circle cx="267.3" cy="287.4" r="0.56"/><circle cx="278.5" cy="294.8" r="0.49"/><circle cx="213.3" cy="318.6" r="0.57"/><circle cx="202.0" cy="328.1" r="0.39"/><circle cx="206.8" cy="327.5" r="0.64"/><circle cx="278.5" cy="297.4" r="0.52"/><circle cx="255.5" cy="320.5" r="0.53"/><circle cx="187.8" cy="318.7" r="0.50"/><circle cx="278.3" cy="294.2" r="0.36"/><circle cx="252.7" cy="320.9" r="0.55"/><circle cx="209.3" cy="318.5" r="0.43"/><circle cx="186.1" cy="315.9" r="0.56"/><circle cx="266.3" cy="320.1" r="0.42"/><circle cx="189.9" cy="307.3" r="0.49"/><circle cx="246.9" cy="293.7" r="0.59"/><circle cx="280.9" cy="303.2" r="0.44"/><circle cx="243.5" cy="297.7" r="0.59"/><circle cx="237.9" cy="290.8" r="0.47"/><circle cx="278.7" cy="297.5" r="0.37"/><circle cx="222.6" cy="321.1" r="0.43"/><circle cx="256.4" cy="292.7" r="0.68"/><circle cx="195.8" cy="316.3" r="0.56"/><circle cx="182.9" cy="310.7" r="0.47"/><circle cx="186.2" cy="315.8" r="0.62"/><circle cx="193.1" cy="326.1" r="0.62"/><circle cx="282.4" cy="303.9" r="0.51"/><circle cx="219.9" cy="319.1" r="0.44"/><circle cx="199.2" cy="328.3" r="0.46"/><circle cx="179.8" cy="303.7" r="0.69"/><circle cx="184.6" cy="314.8" r="0.50"/><circle cx="238.9" cy="290.5" r="0.59"/><circle cx="246.8" cy="300.7" r="0.44"/><circle cx="227.5" cy="316.6" r="0.43"/><circle cx="205.1" cy="328.1" r="0.35"/><circle cx="279.3" cy="298.0" r="0.36"/><circle cx="268.5" cy="286.7" r="0.43"/><circle cx="217.3" cy="323.5" r="0.68"/><circle cx="182.8" cy="311.9" r="0.49"/><circle cx="232.7" cy="321.5" r="0.51"/><circle cx="278.7" cy="295.5" r="0.35"/><circle cx="244.4" cy="293.1" r="0.53"/><circle cx="287.2" cy="310.6" r="0.56"/><circle cx="186.9" cy="316.6" r="0.47"/><circle cx="274.9" cy="317.5" r="0.59"/><circle cx="243.3" cy="292.6" r="0.43"/><circle cx="198.3" cy="317.1" r="0.45"/><circle cx="243.8" cy="298.1" r="0.69"/><circle cx="279.1" cy="289.9" r="0.54"/><circle cx="223.6" cy="320.7" r="0.47"/><circle cx="225.7" cy="317.4" r="0.45"/><circle cx="190.4" cy="306.0" r="0.39"/><circle cx="241.8" cy="319.6" r="0.50"/><circle cx="230.0" cy="321.6" r="0.54"/><circle cx="247.0" cy="306.6" r="0.43"/><circle cx="188.7" cy="305.8" r="0.44"/><circle cx="190.7" cy="322.6" r="0.50"/><circle cx="266.0" cy="320.0" r="0.46"/><circle cx="193.9" cy="315.4" r="0.44"/><circle cx="283.9" cy="314.0" r="0.44"/><circle cx="200.9" cy="328.4" r="0.38"/><circle cx="188.0" cy="310.0" r="0.37"/><circle cx="279.1" cy="284.3" r="0.45"/><circle cx="251.9" cy="293.7" r="0.59"/><circle cx="258.4" cy="292.4" r="0.51"/><circle cx="190.2" cy="322.8" r="0.58"/><circle cx="272.2" cy="285.5" r="0.56"/><circle cx="178.9" cy="304.3" r="0.69"/><circle cx="223.6" cy="320.6" r="0.41"/><circle cx="252.8" cy="294.1" r="0.44"/><circle cx="272.0" cy="285.6" r="0.58"/><circle cx="256.4" cy="321.8" r="0.36"/><circle cx="269.3" cy="286.4" r="0.56"/><circle cx="288.0" cy="312.4" r="0.53"/><circle cx="191.4" cy="323.7" r="0.44"/><circle cx="208.3" cy="318.0" r="0.49"/><circle cx="194.0" cy="316.1" r="0.62"/><circle cx="248.4" cy="294.0" r="0.36"/><circle cx="232.2" cy="315.5" r="0.38"/><circle cx="246.2" cy="300.7" r="0.36"/><circle cx="191.8" cy="324.7" r="0.36"/><circle cx="282.2" cy="303.2" r="0.65"/><circle cx="206.1" cy="327.7" r="0.46"/><circle cx="283.3" cy="306.4" r="0.37"/><circle cx="208.5" cy="326.6" r="0.51"/><circle cx="206.8" cy="328.0" r="0.43"/><circle cx="196.7" cy="327.1" r="0.48"/><circle cx="280.3" cy="284.8" r="0.68"/><circle cx="184.2" cy="312.0" r="0.52"/><circle cx="272.2" cy="318.9" r="0.67"/><circle cx="229.1" cy="322.2" r="0.59"/><circle cx="219.0" cy="318.7" r="0.39"/><circle cx="196.0" cy="327.5" r="0.53"/><circle cx="245.2" cy="318.6" r="0.53"/><circle cx="207.3" cy="318.7" r="0.47"/><circle cx="272.3" cy="319.2" r="0.66"/><circle cx="234.5" cy="320.8" r="0.42"/><circle cx="274.7" cy="284.6" r="0.43"/><circle cx="272.7" cy="285.4" r="0.44"/><circle cx="246.6" cy="318.5" r="0.55"/><circle cx="279.2" cy="290.6" r="0.61"/><circle cx="236.4" cy="320.7" r="0.64"/><circle cx="262.5" cy="320.6" r="0.36"/><circle cx="187.8" cy="319.7" r="0.61"/><circle cx="197.9" cy="316.9" r="0.61"/><circle cx="233.4" cy="290.0" r="0.63"/><circle cx="277.7" cy="317.5" r="0.41"/><circle cx="227.2" cy="321.6" r="0.57"/><circle cx="180.6" cy="307.4" r="0.56"/><circle cx="280.9" cy="302.6" r="0.63"/><circle cx="223.3" cy="321.0" r="0.53"/><circle cx="246.4" cy="293.3" r="0.68"/><circle cx="244.7" cy="319.2" r="0.37"/><circle cx="234.2" cy="321.1" r="0.37"/><circle cx="277.0" cy="284.5" r="0.61"/><circle cx="241.0" cy="319.3" r="0.44"/><circle cx="266.8" cy="319.9" r="0.53"/><circle cx="234.8" cy="288.8" r="0.47"/><circle cx="275.2" cy="318.1" r="0.66"/><circle cx="267.1" cy="287.6" r="0.51"/><circle cx="242.1" cy="313.0" r="0.49"/><circle cx="243.3" cy="293.1" r="0.59"/><circle cx="240.7" cy="295.1" r="0.51"/><circle cx="180.0" cy="307.3" r="0.69"/><circle cx="252.6" cy="320.6" r="0.43"/><circle cx="214.8" cy="318.9" r="0.39"/><circle cx="271.1" cy="286.6" r="0.47"/><circle cx="270.3" cy="319.2" r="0.48"/><circle cx="192.4" cy="315.1" r="0.63"/><circle cx="211.6" cy="318.5" r="0.48"/><circle cx="278.0" cy="293.6" r="0.48"/><circle cx="252.4" cy="320.4" r="0.55"/><circle cx="203.4" cy="318.2" r="0.41"/><circle cx="279.6" cy="289.1" r="0.52"/><circle cx="268.1" cy="320.4" r="0.42"/><circle cx="180.8" cy="302.1" r="0.48"/><circle cx="247.7" cy="294.3" r="0.63"/><circle cx="209.2" cy="327.0" r="0.51"/><circle cx="208.5" cy="318.0" r="0.70"/><circle cx="195.1" cy="327.2" r="0.39"/><circle cx="225.6" cy="321.5" r="0.41"/><circle cx="258.0" cy="321.9" r="0.65"/><circle cx="280.1" cy="287.2" r="0.62"/><circle cx="238.3" cy="314.2" r="0.51"/><circle cx="240.3" cy="295.0" r="0.45"/><circle cx="227.1" cy="316.7" r="0.55"/>
</g>
<g fill="#fff">
<polygon points="184.6,306.5 187.4,306.7 186.6,309.3 184.8,308.8" filter="url(#rough)"/>
<circle cx="260.8" cy="298.1" r="0.42"/><circle cx="264.8" cy="301.0" r="0.73"/><circle cx="256.0" cy="307.5" r="0.64"/><circle cx="262.7" cy="303.4" r="0.66"/><circle cx="252.7" cy="301.1" r="0.71"/><circle cx="262.1" cy="297.6" r="0.50"/><circle cx="259.1" cy="302.5" r="0.71"/><circle cx="262.7" cy="304.9" r="0.55"/><circle cx="263.5" cy="304.8" r="0.70"/><circle cx="259.3" cy="305.6" r="0.70"/><circle cx="257.9" cy="302.6" r="0.49"/><circle cx="262.0" cy="301.6" r="0.48"/><circle cx="253.0" cy="304.4" r="0.71"/><circle cx="254.8" cy="305.9" r="0.36"/><circle cx="262.4" cy="304.2" r="0.64"/><circle cx="259.7" cy="303.7" r="0.73"/><circle cx="259.4" cy="304.0" r="0.39"/><circle cx="261.9" cy="304.2" r="0.61"/><circle cx="256.9" cy="300.0" r="0.58"/><circle cx="256.3" cy="306.7" r="0.40"/><circle cx="258.7" cy="302.6" r="0.77"/><circle cx="260.0" cy="307.0" r="0.43"/><circle cx="255.7" cy="303.8" r="0.64"/><circle cx="259.9" cy="297.3" r="0.79"/><circle cx="254.2" cy="303.9" r="0.51"/><circle cx="257.7" cy="306.9" r="0.79"/><circle cx="264.1" cy="304.5" r="0.50"/><circle cx="256.1" cy="300.9" r="0.67"/><circle cx="255.2" cy="302.8" r="0.55"/><circle cx="260.8" cy="302.8" r="0.76"/><circle cx="262.4" cy="304.6" r="0.65"/><circle cx="264.9" cy="304.0" r="0.44"/><circle cx="263.0" cy="301.8" r="0.61"/><circle cx="257.3" cy="301.6" r="0.58"/><circle cx="258.8" cy="297.4" r="0.68"/><circle cx="257.8" cy="300.8" r="0.53"/><circle cx="257.5" cy="302.6" r="0.69"/><circle cx="262.7" cy="305.4" r="0.47"/><circle cx="262.1" cy="307.7" r="0.63"/><circle cx="258.3" cy="298.1" r="0.60"/><circle cx="259.9" cy="301.6" r="0.52"/><circle cx="259.8" cy="307.2" r="0.53"/><circle cx="261.6" cy="301.3" r="0.47"/><circle cx="263.6" cy="300.2" r="0.54"/><circle cx="254.9" cy="306.4" r="0.42"/><circle cx="258.3" cy="299.9" r="0.71"/><circle cx="264.4" cy="305.3" r="0.74"/><circle cx="261.4" cy="303.1" r="0.76"/><circle cx="260.3" cy="299.8" r="0.71"/><circle cx="256.0" cy="301.3" r="0.66"/><circle cx="256.7" cy="303.9" r="0.73"/><circle cx="258.1" cy="299.8" r="0.54"/><circle cx="257.2" cy="299.4" r="0.47"/><circle cx="252.6" cy="301.7" r="0.39"/><circle cx="258.7" cy="306.9" r="0.79"/><circle cx="259.4" cy="302.7" r="0.64"/><circle cx="260.7" cy="304.8" r="0.41"/><circle cx="252.3" cy="302.7" r="0.78"/><circle cx="254.7" cy="306.9" r="0.66"/><circle cx="264.3" cy="305.3" r="0.47"/><circle cx="261.1" cy="302.4" r="0.75"/><circle cx="254.1" cy="302.4" r="0.43"/><circle cx="253.2" cy="303.1" r="0.60"/><circle cx="263.5" cy="302.2" r="0.76"/><circle cx="262.5" cy="306.5" r="0.62"/><circle cx="261.6" cy="300.4" r="0.56"/><circle cx="260.1" cy="299.9" r="0.52"/><circle cx="261.8" cy="298.7" r="0.57"/><circle cx="264.5" cy="303.2" r="0.54"/><circle cx="259.1" cy="306.4" r="0.41"/><circle cx="261.9" cy="298.2" r="0.78"/><circle cx="257.6" cy="300.6" r="0.54"/><circle cx="259.0" cy="302.7" r="0.50"/><circle cx="260.4" cy="304.7" r="0.47"/><circle cx="257.6" cy="301.6" r="0.74"/><circle cx="256.4" cy="303.8" r="0.40"/><circle cx="255.0" cy="302.2" r="0.58"/><circle cx="261.8" cy="304.9" r="0.58"/><circle cx="262.8" cy="304.8" r="0.73"/><circle cx="256.8" cy="301.5" r="0.63"/><circle cx="260.9" cy="303.8" r="0.35"/><circle cx="256.1" cy="302.2" r="0.48"/><circle cx="263.3" cy="306.6" r="0.42"/><circle cx="256.1" cy="297.9" r="0.55"/><circle cx="255.5" cy="301.0" r="0.72"/><circle cx="258.1" cy="301.2" r="0.67"/><circle cx="261.7" cy="305.9" r="0.43"/><circle cx="253.6" cy="303.2" r="0.68"/><circle cx="258.1" cy="303.9" r="0.55"/><circle cx="262.9" cy="300.4" r="0.63"/><circle cx="259.3" cy="297.9" r="0.78"/><circle cx="264.2" cy="301.3" r="0.71"/><circle cx="260.9" cy="305.1" r="0.67"/><circle cx="253.5" cy="300.0" r="0.70"/><circle cx="257.5" cy="304.9" r="0.65"/><circle cx="262.3" cy="305.4" r="0.47"/><circle cx="254.5" cy="305.5" r="0.64"/><circle cx="257.6" cy="301.7" r="0.75"/><circle cx="257.1" cy="297.2" r="0.63"/><circle cx="255.1" cy="298.2" r="0.69"/><circle cx="257.9" cy="301.8" r="0.36"/><circle cx="257.6" cy="297.3" r="0.52"/><circle cx="259.9" cy="306.6" r="0.73"/><circle cx="258.9" cy="300.5" r="0.44"/><circle cx="260.3" cy="307.7" r="0.46"/><circle cx="262.0" cy="300.2" r="0.44"/><circle cx="256.7" cy="303.8" r="0.75"/><circle cx="263.0" cy="303.3" r="0.52"/><circle cx="261.8" cy="303.4" r="0.80"/><circle cx="261.5" cy="299.7" r="0.74"/><circle cx="263.8" cy="299.7" r="0.68"/><circle cx="254.6" cy="300.9" r="0.67"/><circle cx="253.6" cy="299.2" r="0.43"/><circle cx="263.3" cy="299.6" r="0.55"/><circle cx="260.8" cy="300.1" r="0.53"/><circle cx="253.1" cy="300.0" r="0.46"/><circle cx="261.8" cy="298.7" r="0.76"/><circle cx="257.2" cy="307.3" r="0.75"/><circle cx="262.9" cy="299.4" r="0.73"/><circle cx="255.6" cy="299.4" r="0.44"/><circle cx="252.4" cy="302.0" r="0.78"/><circle cx="262.3" cy="303.6" r="0.46"/><circle cx="260.3" cy="300.6" r="0.69"/><circle cx="260.1" cy="306.0" r="0.79"/><circle cx="262.3" cy="305.9" r="0.47"/><circle cx="258.9" cy="301.1" r="0.65"/><circle cx="258.5" cy="308.6" r="0.50"/><circle cx="258.3" cy="301.8" r="0.77"/><circle cx="254.6" cy="298.4" r="0.68"/><circle cx="264.0" cy="304.6" r="0.52"/><circle cx="260.7" cy="308.1" r="0.65"/><circle cx="257.8" cy="304.0" r="0.64"/><circle cx="261.8" cy="303.8" r="0.37"/><circle cx="261.4" cy="307.3" r="0.47"/><circle cx="262.2" cy="302.4" r="0.71"/><circle cx="258.3" cy="297.9" r="0.62"/><circle cx="262.6" cy="306.9" r="0.77"/><circle cx="256.0" cy="302.2" r="0.39"/><circle cx="258.6" cy="308.6" r="0.49"/><circle cx="257.9" cy="307.0" r="0.37"/><circle cx="260.2" cy="297.6" r="0.49"/><circle cx="264.9" cy="303.8" r="0.71"/><circle cx="259.1" cy="300.0" r="0.78"/><circle cx="258.1" cy="301.9" r="0.79"/><circle cx="257.9" cy="300.3" r="0.75"/><circle cx="254.6" cy="300.0" r="0.36"/><circle cx="260.1" cy="307.9" r="0.36"/><circle cx="259.4" cy="304.2" r="0.61"/><circle cx="262.5" cy="306.7" r="0.55"/><circle cx="260.1" cy="297.1" r="0.79"/>
<circle cx="277.8" cy="294.4" r="0.71"/><circle cx="275.3" cy="296.0" r="0.50"/><circle cx="275.8" cy="288.8" r="0.68"/><circle cx="276.5" cy="294.8" r="0.68"/><circle cx="277.6" cy="289.0" r="0.43"/><circle cx="277.7" cy="296.1" r="0.65"/><circle cx="276.4" cy="285.7" r="0.46"/><circle cx="276.8" cy="291.0" r="0.51"/><circle cx="275.6" cy="289.2" r="0.71"/><circle cx="277.5" cy="294.9" r="0.66"/><circle cx="277.5" cy="295.8" r="0.53"/><circle cx="278.1" cy="291.6" r="0.64"/><circle cx="278.3" cy="286.6" r="0.74"/><circle cx="275.4" cy="286.4" r="0.73"/><circle cx="274.9" cy="288.5" r="0.42"/><circle cx="277.1" cy="292.8" r="0.40"/><circle cx="275.5" cy="293.0" r="0.60"/><circle cx="277.9" cy="288.3" r="0.75"/><circle cx="277.8" cy="288.7" r="0.62"/><circle cx="277.3" cy="292.4" r="0.45"/><circle cx="277.1" cy="291.5" r="0.36"/><circle cx="278.1" cy="285.8" r="0.74"/><circle cx="277.5" cy="291.4" r="0.74"/><circle cx="275.5" cy="293.5" r="0.67"/><circle cx="275.0" cy="290.3" r="0.42"/><circle cx="277.6" cy="290.3" r="0.45"/><circle cx="275.2" cy="290.5" r="0.57"/><circle cx="275.2" cy="291.0" r="0.40"/><circle cx="274.2" cy="293.6" r="0.41"/><circle cx="273.9" cy="289.7" r="0.61"/><circle cx="275.1" cy="295.7" r="0.70"/><circle cx="278.9" cy="290.9" r="0.57"/><circle cx="273.9" cy="292.7" r="0.63"/><circle cx="274.6" cy="289.7" r="0.75"/><circle cx="276.2" cy="292.7" r="0.43"/><circle cx="277.0" cy="292.9" r="0.79"/><circle cx="274.1" cy="289.2" r="0.55"/><circle cx="275.4" cy="290.6" r="0.75"/><circle cx="275.0" cy="292.8" r="0.68"/><circle cx="279.4" cy="286.6" r="0.57"/>
<circle cx="243.5" cy="297.3" r="0.54"/><circle cx="251.6" cy="298.0" r="0.49"/><circle cx="249.7" cy="298.6" r="0.51"/><circle cx="246.9" cy="294.8" r="0.40"/><circle cx="252.6" cy="297.9" r="0.72"/><circle cx="247.8" cy="295.1" r="0.37"/><circle cx="250.6" cy="295.7" r="0.46"/><circle cx="244.6" cy="297.5" r="0.66"/><circle cx="255.2" cy="293.9" r="0.47"/><circle cx="250.0" cy="297.0" r="0.50"/><circle cx="256.3" cy="297.8" r="0.61"/><circle cx="248.1" cy="296.0" r="0.76"/><circle cx="250.2" cy="298.6" r="0.44"/><circle cx="249.6" cy="297.1" r="0.59"/><circle cx="248.7" cy="298.2" r="0.67"/><circle cx="250.4" cy="297.1" r="0.58"/><circle cx="245.7" cy="297.2" r="0.52"/><circle cx="251.4" cy="296.9" r="0.68"/><circle cx="245.6" cy="294.1" r="0.64"/><circle cx="246.5" cy="295.9" r="0.76"/><circle cx="244.7" cy="295.6" r="0.47"/><circle cx="244.3" cy="298.1" r="0.53"/><circle cx="250.9" cy="295.0" r="0.62"/><circle cx="249.5" cy="297.4" r="0.49"/><circle cx="244.9" cy="297.5" r="0.53"/>
<circle cx="269.3" cy="296.5" r="0.73"/><circle cx="263.9" cy="299.7" r="0.53"/><circle cx="267.8" cy="302.7" r="0.64"/><circle cx="267.4" cy="294.4" r="0.67"/><circle cx="272.1" cy="296.8" r="0.79"/><circle cx="266.4" cy="300.2" r="0.75"/><circle cx="270.4" cy="293.9" r="0.55"/><circle cx="263.8" cy="300.5" r="0.44"/><circle cx="269.0" cy="299.8" r="0.49"/><circle cx="265.3" cy="299.5" r="0.56"/><circle cx="270.9" cy="298.6" r="0.58"/><circle cx="271.3" cy="299.2" r="0.76"/><circle cx="265.2" cy="294.0" r="0.74"/><circle cx="267.3" cy="298.0" r="0.38"/><circle cx="263.9" cy="295.9" r="0.50"/><circle cx="270.9" cy="301.2" r="0.59"/><circle cx="266.2" cy="298.4" r="0.60"/><circle cx="264.2" cy="296.1" r="0.76"/><circle cx="272.1" cy="300.1" r="0.49"/><circle cx="265.5" cy="299.5" r="0.71"/>
</g>
<g fill="#fff"><polygon points="255.0,299.6 258.8,298.1 262.7,299.9 263.5,303.5 261.2,306.5 257.3,306.5 254.5,303.5" filter="url(#rough)" opacity="0.75"/></g>
<g fill="#22b896">
<circle cx="258.5" cy="298.7" r="0.44"/><circle cx="255.0" cy="301.3" r="0.44"/><circle cx="262.6" cy="302.7" r="0.59"/><circle cx="259.4" cy="306.2" r="0.51"/><circle cx="258.0" cy="298.5" r="0.34"/><circle cx="261.6" cy="303.7" r="0.39"/><circle cx="256.0" cy="303.5" r="0.58"/><circle cx="259.3" cy="299.8" r="0.35"/><circle cx="260.9" cy="305.9" r="0.36"/><circle cx="256.7" cy="299.3" r="0.36"/><circle cx="256.6" cy="301.6" r="0.37"/><circle cx="260.5" cy="300.1" r="0.38"/><circle cx="258.3" cy="299.5" r="0.32"/><circle cx="258.8" cy="305.6" r="0.48"/><circle cx="257.3" cy="301.5" r="0.43"/><circle cx="255.9" cy="299.3" r="0.36"/><circle cx="257.5" cy="298.9" r="0.48"/><circle cx="256.3" cy="302.4" r="0.51"/>
</g>
<g fill="#35b8c0">
<polygon points="93.8,305.3 95.8,305.7 96.5,307.2 95.4,308.4 95.8,310.7 97.7,313.4 100.0,315.3 103.5,317.2 108.1,318.2 113.5,317.8 118.1,316.1 120.0,313.4 117.3,310.7 113.5,309.5 109.6,309.5 106.2,311.5 108.1,312.5 111.9,311.5 115.8,312.3 117.7,313.8 115.8,315.8 111.9,316.8 108.1,317.1 104.2,316.3 100.4,318.2 96.5,316.1 93.5,312.6 91.5,309.5 92.3,306.8" filter="url(#rough2)"/>
<circle cx="107.7" cy="310.1" r="0.51"/><circle cx="107.3" cy="318.0" r="0.48"/><circle cx="114.8" cy="317.5" r="0.66"/><circle cx="110.3" cy="309.1" r="0.44"/><circle cx="108.4" cy="318.0" r="0.56"/><circle cx="92.0" cy="310.8" r="0.69"/><circle cx="97.5" cy="316.1" r="0.43"/><circle cx="96.4" cy="308.1" r="0.54"/><circle cx="95.8" cy="314.9" r="0.69"/><circle cx="113.1" cy="318.1" r="0.70"/><circle cx="91.9" cy="310.8" r="0.64"/><circle cx="102.6" cy="317.1" r="0.43"/><circle cx="106.7" cy="311.2" r="0.66"/><circle cx="104.6" cy="317.6" r="0.55"/><circle cx="103.4" cy="316.5" r="0.59"/><circle cx="113.0" cy="316.6" r="0.63"/><circle cx="96.0" cy="315.1" r="0.59"/><circle cx="109.6" cy="311.9" r="0.51"/><circle cx="111.4" cy="317.5" r="0.35"/><circle cx="97.9" cy="313.7" r="0.62"/><circle cx="119.4" cy="314.9" r="0.57"/><circle cx="114.1" cy="310.0" r="0.43"/><circle cx="101.2" cy="317.9" r="0.54"/><circle cx="108.5" cy="318.6" r="0.65"/><circle cx="93.4" cy="312.6" r="0.38"/><circle cx="104.2" cy="317.8" r="0.67"/><circle cx="113.6" cy="312.1" r="0.40"/><circle cx="113.3" cy="317.6" r="0.41"/><circle cx="113.6" cy="317.6" r="0.56"/><circle cx="117.5" cy="316.7" r="0.36"/>
</g>
<g fill="#dc9c32">
<polygon points="219.6,230.4 223.5,227.3 228.8,224.2 233.5,223.2 236.5,224.4 239.6,229.6 245.8,229.6 253.5,225.8 259.6,221.2 264.2,218.1 268.8,216.4 273.5,214.5 275.8,215.5 279.6,218.5 284.2,222.8 288.8,226.5 294.2,228.8 296.5,231.9 295.8,235.8 293.5,241.2 290.4,244.2 284.2,247.3 278.1,248.7 271.9,249.3 268.1,246.5 265.0,241.4 253.5,240.9 238.0,239.6 231.0,239.7 224.8,238.2 221.2,234.2" filter="url(#rough)"/>
<circle cx="276.3" cy="248.8" r="0.37"/><circle cx="224.7" cy="226.4" r="0.50"/><circle cx="276.1" cy="248.6" r="0.59"/><circle cx="230.9" cy="239.8" r="0.59"/><circle cx="238.5" cy="238.9" r="0.62"/><circle cx="223.8" cy="237.7" r="0.42"/><circle cx="237.5" cy="227.5" r="0.45"/><circle cx="269.3" cy="216.1" r="0.62"/><circle cx="276.0" cy="215.5" r="0.35"/><circle cx="229.4" cy="224.3" r="0.65"/><circle cx="289.7" cy="226.5" r="0.48"/><circle cx="274.0" cy="214.7" r="0.68"/><circle cx="222.1" cy="235.0" r="0.50"/><circle cx="246.1" cy="240.4" r="0.42"/><circle cx="233.3" cy="222.6" r="0.70"/><circle cx="227.2" cy="224.5" r="0.41"/><circle cx="233.0" cy="223.3" r="0.37"/><circle cx="248.8" cy="227.9" r="0.50"/><circle cx="242.7" cy="229.8" r="0.54"/><circle cx="244.0" cy="240.1" r="0.38"/><circle cx="293.0" cy="242.1" r="0.69"/><circle cx="276.4" cy="248.4" r="0.42"/><circle cx="270.6" cy="248.2" r="0.64"/><circle cx="274.6" cy="215.4" r="0.65"/><circle cx="245.7" cy="230.0" r="0.42"/><circle cx="296.2" cy="234.0" r="0.50"/><circle cx="251.7" cy="227.2" r="0.68"/><circle cx="292.9" cy="228.3" r="0.65"/><circle cx="222.5" cy="235.9" r="0.67"/><circle cx="284.8" cy="246.9" r="0.63"/><circle cx="238.1" cy="227.0" r="0.48"/><circle cx="284.3" cy="222.6" r="0.50"/><circle cx="288.9" cy="245.0" r="0.44"/><circle cx="220.3" cy="230.3" r="0.63"/><circle cx="269.9" cy="248.2" r="0.42"/><circle cx="258.2" cy="222.6" r="0.49"/><circle cx="294.1" cy="239.0" r="0.50"/><circle cx="287.5" cy="224.6" r="0.45"/><circle cx="291.1" cy="228.3" r="0.40"/><circle cx="295.4" cy="229.9" r="0.51"/><circle cx="221.9" cy="229.1" r="0.52"/><circle cx="267.7" cy="217.0" r="0.47"/><circle cx="236.4" cy="224.4" r="0.54"/><circle cx="267.6" cy="245.1" r="0.57"/><circle cx="234.6" cy="239.0" r="0.58"/><circle cx="255.2" cy="224.1" r="0.52"/><circle cx="229.8" cy="239.5" r="0.48"/><circle cx="293.9" cy="240.0" r="0.52"/><circle cx="222.7" cy="228.8" r="0.43"/><circle cx="287.0" cy="225.2" r="0.53"/><circle cx="242.1" cy="240.3" r="0.44"/><circle cx="287.2" cy="245.3" r="0.55"/><circle cx="268.7" cy="216.5" r="0.41"/><circle cx="274.0" cy="249.1" r="0.44"/><circle cx="225.4" cy="238.6" r="0.58"/><circle cx="283.0" cy="247.2" r="0.46"/><circle cx="235.0" cy="240.1" r="0.41"/><circle cx="278.5" cy="249.6" r="0.58"/><circle cx="281.1" cy="219.7" r="0.61"/><circle cx="277.2" cy="248.9" r="0.39"/><circle cx="220.0" cy="230.7" r="0.54"/><circle cx="239.1" cy="227.8" r="0.57"/><circle cx="261.0" cy="220.6" r="0.36"/><circle cx="250.9" cy="226.9" r="0.62"/><circle cx="240.9" cy="230.0" r="0.59"/><circle cx="269.4" cy="216.4" r="0.48"/><circle cx="279.9" cy="218.5" r="0.47"/><circle cx="262.6" cy="241.4" r="0.69"/><circle cx="231.0" cy="240.0" r="0.51"/><circle cx="253.0" cy="225.4" r="0.60"/><circle cx="283.0" cy="220.6" r="0.41"/><circle cx="273.6" cy="250.1" r="0.63"/><circle cx="283.9" cy="222.3" r="0.37"/><circle cx="296.2" cy="235.4" r="0.65"/><circle cx="289.4" cy="245.0" r="0.55"/><circle cx="296.2" cy="234.3" r="0.51"/><circle cx="289.4" cy="227.0" r="0.48"/><circle cx="293.9" cy="240.6" r="0.53"/><circle cx="226.1" cy="238.6" r="0.36"/><circle cx="295.6" cy="236.2" r="0.52"/><circle cx="282.4" cy="248.1" r="0.57"/><circle cx="229.8" cy="224.2" r="0.56"/><circle cx="292.3" cy="242.7" r="0.60"/><circle cx="282.0" cy="220.9" r="0.57"/><circle cx="295.3" cy="229.5" r="0.63"/><circle cx="221.1" cy="232.4" r="0.51"/><circle cx="261.1" cy="219.7" r="0.46"/><circle cx="237.4" cy="226.3" r="0.62"/><circle cx="243.0" cy="230.1" r="0.40"/><circle cx="236.8" cy="239.4" r="0.44"/><circle cx="291.6" cy="242.8" r="0.58"/><circle cx="285.8" cy="246.4" r="0.58"/><circle cx="294.0" cy="240.4" r="0.59"/><circle cx="269.0" cy="216.7" r="0.43"/><circle cx="222.4" cy="236.1" r="0.47"/><circle cx="249.4" cy="227.5" r="0.70"/><circle cx="282.7" cy="247.9" r="0.39"/><circle cx="296.0" cy="231.6" r="0.59"/><circle cx="289.3" cy="226.2" r="0.44"/><circle cx="247.1" cy="240.4" r="0.36"/><circle cx="223.8" cy="237.7" r="0.70"/><circle cx="234.6" cy="223.6" r="0.60"/><circle cx="253.1" cy="241.4" r="0.62"/><circle cx="296.4" cy="232.5" r="0.38"/><circle cx="293.7" cy="240.0" r="0.54"/><circle cx="232.3" cy="223.9" r="0.40"/><circle cx="295.8" cy="237.4" r="0.42"/><circle cx="228.8" cy="238.5" r="0.45"/><circle cx="271.8" cy="249.0" r="0.59"/><circle cx="225.3" cy="226.5" r="0.47"/><circle cx="227.0" cy="238.4" r="0.63"/><circle cx="220.8" cy="229.1" r="0.38"/><circle cx="229.5" cy="238.5" r="0.57"/><circle cx="282.1" cy="248.1" r="0.66"/><circle cx="291.8" cy="242.3" r="0.48"/><circle cx="221.4" cy="229.2" r="0.38"/><circle cx="228.0" cy="223.6" r="0.59"/><circle cx="246.9" cy="241.0" r="0.48"/><circle cx="242.2" cy="240.2" r="0.53"/><circle cx="254.8" cy="225.3" r="0.63"/><circle cx="220.6" cy="233.0" r="0.51"/><circle cx="287.3" cy="245.0" r="0.55"/><circle cx="222.9" cy="236.5" r="0.36"/><circle cx="271.0" cy="215.5" r="0.50"/><circle cx="237.7" cy="227.2" r="0.67"/><circle cx="237.3" cy="226.0" r="0.37"/><circle cx="266.0" cy="217.2" r="0.55"/><circle cx="229.7" cy="223.6" r="0.42"/><circle cx="291.6" cy="243.4" r="0.57"/><circle cx="295.5" cy="236.1" r="0.60"/><circle cx="278.3" cy="217.7" r="0.55"/><circle cx="284.8" cy="247.1" r="0.58"/><circle cx="289.0" cy="226.8" r="0.45"/><circle cx="281.1" cy="247.9" r="0.58"/><circle cx="294.3" cy="238.0" r="0.49"/><circle cx="220.9" cy="229.5" r="0.57"/><circle cx="228.6" cy="238.8" r="0.47"/><circle cx="253.9" cy="241.4" r="0.52"/><circle cx="290.4" cy="226.9" r="0.70"/><circle cx="238.7" cy="227.4" r="0.43"/><circle cx="255.8" cy="224.3" r="0.45"/><circle cx="277.7" cy="217.3" r="0.40"/><circle cx="221.3" cy="234.1" r="0.39"/><circle cx="221.6" cy="234.4" r="0.65"/><circle cx="293.4" cy="241.6" r="0.50"/><circle cx="220.6" cy="229.3" r="0.66"/><circle cx="255.1" cy="224.5" r="0.63"/><circle cx="267.2" cy="244.1" r="0.48"/><circle cx="260.8" cy="220.6" r="0.45"/><circle cx="269.8" cy="216.0" r="0.53"/><circle cx="296.4" cy="234.6" r="0.42"/><circle cx="263.3" cy="241.9" r="0.46"/><circle cx="235.2" cy="224.0" r="0.40"/><circle cx="269.6" cy="216.2" r="0.49"/><circle cx="261.3" cy="241.3" r="0.65"/><circle cx="271.6" cy="215.5" r="0.61"/><circle cx="220.8" cy="234.6" r="0.51"/><circle cx="251.6" cy="226.9" r="0.44"/><circle cx="253.9" cy="241.1" r="0.61"/><circle cx="225.0" cy="226.6" r="0.58"/><circle cx="250.0" cy="228.3" r="0.69"/><circle cx="221.9" cy="228.4" r="0.38"/><circle cx="286.7" cy="246.7" r="0.65"/><circle cx="264.6" cy="218.4" r="0.61"/><circle cx="225.3" cy="226.1" r="0.48"/><circle cx="245.5" cy="229.8" r="0.45"/><circle cx="232.2" cy="239.4" r="0.53"/>
</g>
<g fill="#fff">
<polygon points="271.6,219.2 266.5,222.2 261.2,226.2 256.5,229.6 253.5,233.0 261.2,234.2 276.5,234.5 288.8,234.2 291.9,232.1 287.3,228.1 281.2,223.5 275.0,219.6 272.8,218.5" filter="url(#rough)"/>
<polygon points="230.1,225.8 236.2,224.7 233.5,228.1 230.4,230.4 229.2,228.1" filter="url(#rough)"/>
</g>
<g fill="#dc9c32">
<circle cx="285.4" cy="227.6" r="0.51"/><circle cx="283.6" cy="228.4" r="0.51"/><circle cx="287.0" cy="232.8" r="0.46"/><circle cx="274.8" cy="226.5" r="0.52"/><circle cx="287.6" cy="231.6" r="0.67"/><circle cx="274.5" cy="229.1" r="0.47"/><circle cx="289.5" cy="233.3" r="0.54"/><circle cx="287.7" cy="231.5" r="0.53"/><circle cx="281.6" cy="233.8" r="0.63"/><circle cx="284.0" cy="234.1" r="0.40"/><circle cx="287.7" cy="229.7" r="0.46"/><circle cx="275.8" cy="230.0" r="0.65"/><circle cx="276.7" cy="233.2" r="0.70"/><circle cx="277.0" cy="229.8" r="0.52"/><circle cx="279.7" cy="225.4" r="0.44"/><circle cx="290.8" cy="232.6" r="0.68"/><circle cx="282.7" cy="229.2" r="0.37"/><circle cx="281.3" cy="230.0" r="0.70"/><circle cx="277.2" cy="231.2" r="0.57"/><circle cx="277.3" cy="228.8" r="0.50"/><circle cx="276.8" cy="228.2" r="0.37"/><circle cx="286.5" cy="233.9" r="0.54"/><circle cx="280.8" cy="229.4" r="0.40"/><circle cx="287.1" cy="231.1" r="0.39"/><circle cx="283.2" cy="231.3" r="0.68"/><circle cx="286.7" cy="228.5" r="0.41"/><circle cx="282.0" cy="233.6" r="0.36"/><circle cx="286.4" cy="229.7" r="0.66"/><circle cx="282.2" cy="226.7" r="0.65"/><circle cx="275.5" cy="231.1" r="0.45"/><circle cx="285.6" cy="229.6" r="0.56"/><circle cx="282.2" cy="226.4" r="0.66"/><circle cx="283.8" cy="234.1" r="0.66"/><circle cx="287.3" cy="231.5" r="0.41"/><circle cx="288.8" cy="231.4" r="0.38"/><circle cx="277.5" cy="231.9" r="0.62"/><circle cx="286.3" cy="227.9" r="0.68"/><circle cx="276.3" cy="226.5" r="0.50"/><circle cx="278.3" cy="231.6" r="0.64"/><circle cx="284.2" cy="227.4" r="0.54"/>
<circle cx="268.5" cy="222.5" r="0.55"/><circle cx="272.4" cy="231.2" r="0.33"/><circle cx="264.4" cy="230.8" r="0.54"/><circle cx="269.7" cy="233.3" r="0.43"/><circle cx="264.3" cy="227.0" r="0.39"/><circle cx="266.4" cy="231.2" r="0.40"/><circle cx="271.0" cy="228.6" r="0.31"/><circle cx="268.2" cy="232.4" r="0.49"/><circle cx="272.9" cy="229.2" r="0.60"/><circle cx="261.7" cy="226.3" r="0.36"/><circle cx="271.6" cy="224.5" r="0.50"/><circle cx="270.2" cy="220.6" r="0.48"/>
</g>
<g fill="#ee8838">
<polygon points="311.2,219.2 315.0,219.6 318.1,222.7 321.2,224.2 325.0,223.5 327.3,226.5 329.6,229.6 333.5,232.7 336.5,235.0 337.3,238.1 339.6,242.7 342.7,244.2 338.1,247.3 331.9,249.6 324.2,249.9 318.1,249.6 311.9,248.1 311.2,246.2 315.8,244.2 318.8,241.9 318.1,235.8 316.5,231.2 314.2,226.5 311.9,223.5 308.1,221.6" filter="url(#rough)"/>
<circle cx="338.5" cy="241.0" r="0.57"/><circle cx="330.6" cy="230.3" r="0.37"/><circle cx="315.4" cy="227.0" r="0.70"/><circle cx="317.2" cy="242.7" r="0.54"/><circle cx="310.8" cy="222.7" r="0.42"/><circle cx="325.3" cy="250.2" r="0.67"/><circle cx="316.8" cy="249.4" r="0.40"/><circle cx="326.2" cy="249.4" r="0.51"/><circle cx="327.2" cy="225.3" r="0.52"/><circle cx="316.4" cy="220.8" r="0.49"/><circle cx="342.5" cy="244.3" r="0.58"/><circle cx="327.6" cy="250.0" r="0.53"/><circle cx="326.8" cy="226.4" r="0.58"/><circle cx="314.9" cy="248.5" r="0.62"/><circle cx="320.7" cy="249.9" r="0.57"/><circle cx="317.3" cy="231.3" r="0.64"/><circle cx="319.9" cy="250.0" r="0.65"/><circle cx="335.7" cy="234.7" r="0.36"/><circle cx="322.5" cy="224.6" r="0.62"/><circle cx="320.3" cy="224.4" r="0.41"/><circle cx="317.6" cy="236.4" r="0.61"/><circle cx="320.8" cy="223.5" r="0.36"/><circle cx="310.4" cy="223.2" r="0.53"/><circle cx="323.7" cy="249.8" r="0.65"/><circle cx="327.9" cy="250.0" r="0.42"/><circle cx="337.6" cy="246.9" r="0.41"/><circle cx="337.3" cy="236.0" r="0.41"/><circle cx="317.6" cy="249.6" r="0.58"/><circle cx="322.7" cy="224.4" r="0.69"/><circle cx="317.9" cy="222.3" r="0.37"/><circle cx="313.6" cy="219.5" r="0.67"/><circle cx="312.7" cy="219.4" r="0.49"/><circle cx="338.4" cy="240.4" r="0.39"/><circle cx="315.4" cy="249.3" r="0.40"/><circle cx="329.5" cy="229.1" r="0.51"/><circle cx="312.3" cy="248.0" r="0.39"/><circle cx="311.4" cy="246.8" r="0.48"/><circle cx="318.1" cy="234.7" r="0.54"/><circle cx="312.7" cy="224.2" r="0.48"/><circle cx="319.1" cy="249.8" r="0.70"/><circle cx="335.4" cy="248.5" r="0.36"/><circle cx="313.5" cy="225.5" r="0.68"/><circle cx="318.4" cy="240.2" r="0.59"/><circle cx="318.2" cy="236.2" r="0.49"/><circle cx="319.3" cy="249.4" r="0.44"/><circle cx="316.2" cy="244.1" r="0.35"/><circle cx="321.1" cy="249.6" r="0.54"/><circle cx="328.8" cy="228.8" r="0.49"/><circle cx="330.6" cy="249.5" r="0.61"/><circle cx="317.1" cy="221.8" r="0.42"/><circle cx="328.5" cy="228.5" r="0.68"/><circle cx="337.1" cy="237.6" r="0.48"/><circle cx="317.7" cy="238.3" r="0.57"/><circle cx="313.2" cy="248.8" r="0.51"/><circle cx="325.4" cy="224.5" r="0.37"/><circle cx="327.8" cy="227.3" r="0.51"/><circle cx="312.4" cy="248.5" r="0.36"/><circle cx="340.1" cy="246.2" r="0.47"/><circle cx="316.5" cy="249.1" r="0.50"/><circle cx="317.7" cy="234.1" r="0.58"/><circle cx="336.7" cy="237.8" r="0.48"/><circle cx="312.2" cy="224.9" r="0.40"/><circle cx="341.0" cy="245.9" r="0.66"/><circle cx="330.9" cy="249.8" r="0.49"/><circle cx="337.8" cy="238.7" r="0.63"/><circle cx="327.0" cy="249.1" r="0.58"/><circle cx="321.5" cy="223.5" r="0.52"/><circle cx="338.0" cy="247.1" r="0.43"/><circle cx="311.6" cy="246.1" r="0.58"/><circle cx="330.0" cy="249.7" r="0.46"/><circle cx="312.9" cy="245.8" r="0.57"/><circle cx="319.5" cy="241.9" r="0.42"/><circle cx="323.0" cy="249.6" r="0.56"/><circle cx="342.5" cy="244.9" r="0.66"/><circle cx="311.2" cy="245.3" r="0.44"/><circle cx="321.8" cy="249.3" r="0.35"/><circle cx="329.1" cy="249.5" r="0.49"/><circle cx="309.2" cy="220.5" r="0.56"/><circle cx="315.8" cy="231.5" r="0.60"/><circle cx="340.4" cy="245.4" r="0.37"/><circle cx="332.2" cy="249.7" r="0.65"/><circle cx="308.6" cy="221.5" r="0.47"/><circle cx="336.1" cy="248.7" r="0.41"/><circle cx="325.6" cy="250.4" r="0.39"/><circle cx="330.9" cy="249.6" r="0.42"/><circle cx="318.4" cy="222.3" r="0.43"/><circle cx="314.1" cy="226.5" r="0.61"/><circle cx="318.7" cy="249.7" r="0.41"/><circle cx="310.4" cy="222.4" r="0.37"/><circle cx="315.0" cy="249.5" r="0.67"/><circle cx="318.6" cy="238.2" r="0.64"/><circle cx="342.6" cy="244.2" r="0.59"/><circle cx="336.9" cy="247.9" r="0.51"/><circle cx="313.8" cy="244.6" r="0.35"/><circle cx="331.7" cy="231.8" r="0.67"/><circle cx="315.5" cy="248.5" r="0.40"/><circle cx="333.9" cy="233.1" r="0.50"/><circle cx="312.8" cy="245.7" r="0.41"/><circle cx="339.3" cy="246.3" r="0.68"/><circle cx="312.1" cy="218.9" r="0.68"/><circle cx="337.3" cy="236.0" r="0.48"/><circle cx="317.5" cy="234.4" r="0.58"/><circle cx="311.4" cy="246.3" r="0.58"/>
</g>
<g fill="#ee8838">
<circle cx="301.3" cy="232.1" r="0.39"/><circle cx="308.6" cy="231.2" r="0.47"/><circle cx="313.1" cy="239.9" r="0.38"/><circle cx="310.2" cy="246.2" r="0.44"/><circle cx="302.5" cy="229.5" r="0.44"/><circle cx="301.3" cy="227.6" r="0.55"/><circle cx="314.3" cy="240.8" r="0.37"/><circle cx="313.4" cy="237.4" r="0.46"/><circle cx="300.8" cy="227.6" r="0.47"/><circle cx="315.0" cy="233.1" r="0.37"/><circle cx="302.8" cy="224.7" r="0.40"/><circle cx="300.8" cy="229.3" r="0.37"/><circle cx="304.0" cy="242.9" r="0.45"/><circle cx="308.3" cy="242.8" r="0.36"/><circle cx="312.6" cy="234.9" r="0.36"/><circle cx="309.6" cy="237.3" r="0.43"/><circle cx="312.3" cy="225.8" r="0.36"/><circle cx="309.6" cy="229.0" r="0.49"/><circle cx="315.4" cy="235.5" r="0.40"/><circle cx="312.1" cy="239.4" r="0.58"/><circle cx="304.1" cy="228.8" r="0.52"/><circle cx="308.3" cy="224.1" r="0.63"/><circle cx="299.2" cy="227.6" r="0.58"/><circle cx="314.3" cy="239.7" r="0.50"/><circle cx="301.4" cy="240.2" r="0.70"/><circle cx="299.7" cy="231.8" r="0.57"/><circle cx="311.9" cy="226.3" r="0.68"/><circle cx="310.3" cy="241.4" r="0.73"/><circle cx="311.7" cy="238.2" r="0.47"/><circle cx="303.5" cy="230.6" r="0.67"/><circle cx="310.0" cy="228.2" r="0.71"/><circle cx="311.1" cy="239.8" r="0.49"/><circle cx="311.6" cy="231.4" r="0.56"/><circle cx="301.6" cy="230.5" r="0.52"/><circle cx="302.0" cy="237.5" r="0.54"/><circle cx="306.9" cy="242.3" r="0.65"/><circle cx="305.1" cy="234.3" r="0.51"/><circle cx="302.6" cy="243.3" r="0.43"/><circle cx="303.8" cy="235.3" r="0.63"/><circle cx="311.0" cy="229.0" r="0.49"/><circle cx="305.6" cy="228.6" r="0.43"/><circle cx="307.9" cy="225.0" r="0.48"/><circle cx="300.2" cy="226.0" r="0.56"/><circle cx="304.6" cy="223.9" r="0.70"/><circle cx="299.3" cy="231.6" r="0.47"/><circle cx="299.2" cy="228.7" r="0.53"/><circle cx="311.9" cy="227.7" r="0.50"/><circle cx="316.1" cy="237.3" r="0.53"/><circle cx="302.3" cy="241.1" r="0.72"/><circle cx="302.9" cy="242.8" r="0.50"/><circle cx="307.7" cy="221.8" r="0.45"/><circle cx="302.9" cy="226.3" r="0.68"/><circle cx="314.1" cy="228.8" r="0.58"/><circle cx="308.4" cy="236.1" r="0.67"/><circle cx="308.6" cy="233.6" r="0.63"/>
</g>
<defs><linearGradient id="gg" x1="0" x2="1"><stop offset="0" stop-color="#3db560"/><stop offset="0.25" stop-color="#5cb944"/><stop offset="0.75" stop-color="#7dba3e"/><stop offset="1" stop-color="#9db53c"/></linearGradient><linearGradient id="gb" x1="0" x2="1"><stop offset="0" stop-color="#2cadda"/><stop offset="0.3" stop-color="#9db53c"/></linearGradient></defs>
<polygon points="217.8,183.6 224.7,185.5 230.9,187.8 237.0,190.3 243.2,192.4 249.3,194.3 253.1,196.0 253.9,194.2 249.9,192.4 243.7,190.7 237.6,188.8 231.5,186.3 225.3,183.8 218.4,181.7" fill="url(#gg)" filter="url(#rough2)"/>
<g fill="#68b942"><circle cx="252.8" cy="195.7" r="0.40"/><circle cx="235.0" cy="189.2" r="0.36"/><circle cx="231.5" cy="188.0" r="0.70"/><circle cx="224.4" cy="183.6" r="0.69"/><circle cx="235.7" cy="187.8" r="0.57"/><circle cx="240.1" cy="188.9" r="0.64"/><circle cx="243.1" cy="191.8" r="0.69"/><circle cx="241.4" cy="191.4" r="0.62"/><circle cx="239.1" cy="189.4" r="0.46"/><circle cx="242.9" cy="190.4" r="0.39"/><circle cx="232.2" cy="188.9" r="0.60"/><circle cx="220.5" cy="182.5" r="0.65"/><circle cx="247.6" cy="191.3" r="0.40"/><circle cx="244.9" cy="193.4" r="0.45"/><circle cx="227.1" cy="184.3" r="0.70"/><circle cx="218.7" cy="182.5" r="0.68"/><circle cx="235.8" cy="188.6" r="0.62"/><circle cx="243.0" cy="192.4" r="0.40"/><circle cx="231.5" cy="187.0" r="0.50"/><circle cx="237.9" cy="189.1" r="0.58"/><circle cx="237.1" cy="190.7" r="0.52"/><circle cx="224.6" cy="183.2" r="0.50"/><circle cx="246.6" cy="191.7" r="0.56"/><circle cx="220.8" cy="182.3" r="0.69"/><circle cx="231.7" cy="186.8" r="0.36"/></g>
<g fill="#9db53c">
<polygon points="229.8,187.7 235.9,189.1 242.1,190.5 248.2,192.1 253.1,193.8 253.6,192.5 248.7,190.5 242.5,189.0 236.4,187.4 230.2,186.0" filter="url(#rough2)"/>
<circle cx="240.5" cy="189.0" r="0.60"/><circle cx="239.5" cy="188.2" r="0.36"/><circle cx="249.2" cy="190.6" r="0.62"/><circle cx="236.5" cy="189.5" r="0.40"/><circle cx="239.8" cy="189.9" r="0.40"/><circle cx="241.5" cy="190.0" r="0.39"/><circle cx="249.8" cy="191.0" r="0.44"/><circle cx="246.7" cy="190.0" r="0.45"/><circle cx="247.5" cy="191.8" r="0.40"/><circle cx="253.1" cy="193.8" r="0.55"/><circle cx="230.9" cy="186.2" r="0.48"/><circle cx="235.8" cy="187.3" r="0.44"/>
</g>
<polygon points="208.3,205.3 216.1,204.3 225.2,203.1 234.4,202.2 246.7,201.2 257.5,200.3 268.2,199.2 280.5,198.2 280.3,195.0 267.9,195.8 257.2,196.9 246.4,197.6 234.1,198.4 224.8,199.3 215.5,200.9 207.9,203.3" fill="url(#gb)" filter="url(#rough2)"/>
<g fill="#9db53c"><circle cx="251.7" cy="201.1" r="0.58"/><circle cx="254.3" cy="197.2" r="0.64"/><circle cx="235.7" cy="198.0" r="0.59"/><circle cx="233.9" cy="201.9" r="0.64"/><circle cx="238.6" cy="198.2" r="0.68"/><circle cx="233.1" cy="197.9" r="0.47"/><circle cx="258.6" cy="197.2" r="0.38"/><circle cx="235.8" cy="201.6" r="0.42"/><circle cx="226.8" cy="199.7" r="0.52"/><circle cx="247.8" cy="201.1" r="0.66"/><circle cx="261.4" cy="199.4" r="0.68"/><circle cx="246.3" cy="201.4" r="0.38"/><circle cx="256.7" cy="197.2" r="0.47"/><circle cx="253.7" cy="197.4" r="0.69"/><circle cx="259.5" cy="200.5" r="0.46"/><circle cx="239.4" cy="198.1" r="0.51"/><circle cx="242.0" cy="201.4" r="0.69"/><circle cx="254.0" cy="197.1" r="0.64"/><circle cx="270.1" cy="198.9" r="0.47"/><circle cx="230.6" cy="198.8" r="0.52"/><circle cx="272.4" cy="198.4" r="0.44"/><circle cx="234.3" cy="198.6" r="0.60"/><circle cx="224.3" cy="200.7" r="0.62"/><circle cx="253.1" cy="201.0" r="0.59"/><circle cx="250.6" cy="197.0" r="0.66"/><circle cx="264.0" cy="196.1" r="0.65"/><circle cx="232.2" cy="203.0" r="0.58"/><circle cx="271.6" cy="199.5" r="0.38"/><circle cx="234.1" cy="199.2" r="0.56"/><circle cx="252.9" cy="201.0" r="0.54"/><circle cx="257.6" cy="200.1" r="0.39"/><circle cx="256.6" cy="198.2" r="0.49"/><circle cx="255.9" cy="199.4" r="0.48"/><circle cx="251.6" cy="198.6" r="0.46"/><circle cx="230.2" cy="202.7" r="0.57"/><circle cx="258.5" cy="200.4" r="0.48"/><circle cx="246.8" cy="200.9" r="0.36"/><circle cx="234.9" cy="198.9" r="0.43"/><circle cx="258.9" cy="197.1" r="0.49"/><circle cx="280.1" cy="195.8" r="0.50"/></g>
<g fill="#54b640">
<polygon points="303.1,160.8 308.5,158.9 316.2,157.8 322.3,157.5 327.7,157.8 329.7,159.5 329.2,161.7 326.9,164.2 323.8,166.5 320.0,168.8 316.2,171.5 313.8,173.1 311.8,171.5 310.9,167.7 307.7,165.4 303.1,165.1 300.0,164.8 299.2,162.9" filter="url(#rough)"/>
<circle cx="327.2" cy="157.6" r="0.63"/><circle cx="328.6" cy="163.0" r="0.45"/><circle cx="318.3" cy="157.7" r="0.52"/><circle cx="307.6" cy="165.2" r="0.40"/><circle cx="319.2" cy="170.0" r="0.56"/><circle cx="319.0" cy="156.8" r="0.52"/><circle cx="301.1" cy="161.9" r="0.51"/><circle cx="328.8" cy="158.2" r="0.69"/><circle cx="314.6" cy="158.1" r="0.37"/><circle cx="311.9" cy="170.8" r="0.50"/><circle cx="299.8" cy="164.3" r="0.60"/><circle cx="312.6" cy="172.3" r="0.65"/><circle cx="299.5" cy="162.8" r="0.60"/><circle cx="311.7" cy="158.2" r="0.47"/><circle cx="326.3" cy="158.0" r="0.62"/><circle cx="303.6" cy="160.5" r="0.54"/><circle cx="315.3" cy="157.9" r="0.53"/><circle cx="322.0" cy="157.5" r="0.46"/><circle cx="319.3" cy="157.4" r="0.65"/><circle cx="327.1" cy="158.1" r="0.38"/><circle cx="313.5" cy="158.1" r="0.42"/><circle cx="315.6" cy="157.8" r="0.52"/><circle cx="313.6" cy="172.9" r="0.37"/><circle cx="308.4" cy="165.8" r="0.47"/><circle cx="325.7" cy="157.5" r="0.60"/><circle cx="309.3" cy="158.9" r="0.57"/><circle cx="327.6" cy="163.5" r="0.58"/><circle cx="303.6" cy="160.7" r="0.38"/><circle cx="329.6" cy="161.7" r="0.53"/><circle cx="309.9" cy="159.0" r="0.57"/><circle cx="328.7" cy="161.8" r="0.59"/><circle cx="311.5" cy="171.1" r="0.65"/><circle cx="306.0" cy="160.0" r="0.56"/><circle cx="316.9" cy="171.5" r="0.55"/><circle cx="313.2" cy="172.4" r="0.44"/><circle cx="330.0" cy="160.7" r="0.57"/><circle cx="307.2" cy="165.3" r="0.49"/><circle cx="309.1" cy="159.3" r="0.35"/><circle cx="330.1" cy="160.7" r="0.70"/><circle cx="304.7" cy="160.7" r="0.44"/><circle cx="326.3" cy="157.7" r="0.49"/><circle cx="313.7" cy="172.6" r="0.35"/><circle cx="329.3" cy="158.6" r="0.50"/><circle cx="328.6" cy="162.3" r="0.36"/><circle cx="300.1" cy="164.7" r="0.35"/><circle cx="326.2" cy="158.2" r="0.65"/><circle cx="321.4" cy="168.0" r="0.42"/><circle cx="329.3" cy="160.2" r="0.67"/><circle cx="310.9" cy="168.2" r="0.45"/><circle cx="329.0" cy="160.5" r="0.68"/><circle cx="308.9" cy="159.2" r="0.68"/><circle cx="326.4" cy="163.8" r="0.51"/><circle cx="329.7" cy="159.2" r="0.70"/><circle cx="323.0" cy="157.4" r="0.65"/><circle cx="314.7" cy="171.8" r="0.38"/><circle cx="322.7" cy="157.6" r="0.42"/><circle cx="309.7" cy="166.8" r="0.51"/><circle cx="310.9" cy="170.4" r="0.59"/><circle cx="329.2" cy="160.1" r="0.66"/><circle cx="325.2" cy="157.9" r="0.44"/><circle cx="307.5" cy="165.1" r="0.50"/><circle cx="301.6" cy="164.8" r="0.68"/><circle cx="307.4" cy="159.4" r="0.68"/><circle cx="305.0" cy="159.3" r="0.64"/><circle cx="319.7" cy="169.3" r="0.68"/><circle cx="303.5" cy="165.4" r="0.56"/>
</g>
<g fill="#54b640">
<polygon points="285.1,172.7 290.3,169.0 296.5,165.2 302.6,162.8 307.2,161.9 306.6,159.6 302.0,161.2 295.8,164.0 289.7,168.0 284.5,171.9" filter="url(#rough2)"/>
<circle cx="299.1" cy="164.9" r="0.39"/><circle cx="300.0" cy="162.1" r="0.66"/><circle cx="294.9" cy="164.6" r="0.63"/><circle cx="292.9" cy="166.0" r="0.61"/><circle cx="288.7" cy="168.1" r="0.38"/><circle cx="297.0" cy="164.6" r="0.43"/><circle cx="303.0" cy="160.8" r="0.49"/><circle cx="299.8" cy="163.5" r="0.48"/><circle cx="296.3" cy="164.1" r="0.42"/><circle cx="300.9" cy="163.5" r="0.46"/><circle cx="301.2" cy="163.6" r="0.66"/><circle cx="290.1" cy="167.8" r="0.38"/><circle cx="288.6" cy="168.3" r="0.67"/><circle cx="304.0" cy="162.7" r="0.49"/><circle cx="294.1" cy="165.4" r="0.38"/><circle cx="294.3" cy="166.2" r="0.68"/><circle cx="299.8" cy="164.0" r="0.42"/><circle cx="286.7" cy="171.6" r="0.54"/>
</g>
<g fill="#54b640">
<polygon points="313.1,170.1 311.1,175.5 308.6,180.1 305.6,184.9 301.7,189.4 297.2,193.6 292.5,196.1 287.6,198.1 284.2,198.9 285.0,202.0 288.7,200.9 293.7,198.6 298.8,195.7 303.6,191.2 307.7,186.5 310.8,181.4 313.6,176.8 316.1,171.4" filter="url(#rough2)"/>
<circle cx="284.6" cy="199.0" r="0.38"/><circle cx="306.8" cy="181.6" r="0.61"/><circle cx="301.7" cy="189.4" r="0.50"/><circle cx="298.7" cy="192.3" r="0.66"/><circle cx="315.6" cy="171.0" r="0.59"/><circle cx="303.7" cy="187.1" r="0.47"/><circle cx="308.1" cy="185.3" r="0.52"/><circle cx="290.0" cy="200.8" r="0.68"/><circle cx="285.3" cy="198.8" r="0.40"/><circle cx="314.0" cy="175.1" r="0.42"/><circle cx="299.6" cy="195.3" r="0.40"/><circle cx="288.3" cy="198.0" r="0.53"/><circle cx="296.1" cy="196.7" r="0.45"/><circle cx="302.7" cy="187.0" r="0.66"/><circle cx="285.0" cy="202.4" r="0.37"/><circle cx="286.1" cy="200.9" r="0.38"/><circle cx="303.6" cy="186.7" r="0.69"/><circle cx="309.3" cy="179.7" r="0.63"/><circle cx="311.8" cy="173.0" r="0.50"/><circle cx="305.9" cy="185.4" r="0.53"/><circle cx="289.4" cy="200.0" r="0.49"/><circle cx="292.2" cy="196.2" r="0.62"/><circle cx="284.1" cy="199.6" r="0.68"/><circle cx="297.1" cy="193.7" r="0.66"/><circle cx="310.2" cy="182.8" r="0.45"/><circle cx="311.5" cy="172.7" r="0.60"/><circle cx="286.8" cy="201.5" r="0.46"/><circle cx="299.5" cy="190.9" r="0.39"/><circle cx="286.2" cy="201.7" r="0.57"/><circle cx="311.2" cy="180.1" r="0.59"/><circle cx="303.6" cy="186.5" r="0.45"/><circle cx="286.2" cy="202.2" r="0.39"/><circle cx="285.2" cy="198.9" r="0.38"/><circle cx="310.3" cy="183.3" r="0.45"/><circle cx="315.5" cy="172.6" r="0.58"/><circle cx="301.5" cy="189.3" r="0.44"/><circle cx="294.2" cy="198.7" r="0.38"/><circle cx="301.8" cy="189.5" r="0.50"/><circle cx="284.2" cy="198.6" r="0.59"/><circle cx="295.3" cy="197.4" r="0.40"/>
</g>
<g fill="#54b640">
<polygon points="297.7,194.7 293.1,197.3 289.2,198.8 287.7,201.9 283.8,205.0 281.5,203.5 282.3,200.4 277.7,201.2 273.1,201.9 270.0,201.2 268.5,198.1 271.5,195.0 277.7,193.8 282.3,195.0 286.9,195.8 291.5,193.5 297.7,190.7" filter="url(#rough)"/>
<circle cx="282.4" cy="203.3" r="0.66"/><circle cx="275.5" cy="201.2" r="0.68"/><circle cx="294.4" cy="192.4" r="0.50"/><circle cx="297.4" cy="191.4" r="0.36"/><circle cx="277.3" cy="201.1" r="0.63"/><circle cx="294.7" cy="192.0" r="0.52"/><circle cx="282.6" cy="201.2" r="0.61"/><circle cx="293.7" cy="196.3" r="0.40"/><circle cx="281.1" cy="200.6" r="0.39"/><circle cx="288.3" cy="200.7" r="0.63"/><circle cx="274.5" cy="201.9" r="0.46"/><circle cx="272.7" cy="194.4" r="0.60"/><circle cx="271.3" cy="195.0" r="0.62"/><circle cx="296.0" cy="195.7" r="0.64"/><circle cx="288.2" cy="201.4" r="0.40"/><circle cx="280.2" cy="194.7" r="0.50"/><circle cx="274.8" cy="194.2" r="0.63"/><circle cx="297.4" cy="192.0" r="0.52"/><circle cx="280.0" cy="200.4" r="0.59"/><circle cx="288.7" cy="194.1" r="0.51"/><circle cx="280.3" cy="194.1" r="0.64"/><circle cx="282.0" cy="203.5" r="0.54"/><circle cx="297.5" cy="191.7" r="0.39"/><circle cx="294.3" cy="192.4" r="0.53"/><circle cx="281.4" cy="194.7" r="0.62"/><circle cx="278.1" cy="194.7" r="0.52"/><circle cx="285.5" cy="195.7" r="0.61"/><circle cx="278.9" cy="193.6" r="0.36"/><circle cx="291.6" cy="193.6" r="0.46"/><circle cx="269.6" cy="200.0" r="0.40"/><circle cx="280.6" cy="200.8" r="0.63"/><circle cx="295.9" cy="196.5" r="0.49"/><circle cx="297.4" cy="191.1" r="0.53"/><circle cx="275.9" cy="201.5" r="0.63"/><circle cx="268.7" cy="199.8" r="0.67"/><circle cx="296.2" cy="194.9" r="0.53"/><circle cx="275.5" cy="201.3" r="0.52"/><circle cx="286.3" cy="202.9" r="0.49"/><circle cx="286.1" cy="195.6" r="0.43"/><circle cx="284.9" cy="194.6" r="0.44"/>
</g>
<g fill="#54b640">
<circle cx="270.0" cy="205.8" r="0.7"/>
<circle cx="266.2" cy="208.1" r="0.7"/>
<circle cx="283.1" cy="206.5" r="0.7"/>
<circle cx="276.2" cy="204.2" r="0.7"/>
<circle cx="294.6" cy="181.9" r="0.7"/>
<circle cx="264.6" cy="203.5" r="0.7"/>
<circle cx="289.6" cy="193.5" r="0.7"/>
<circle cx="292.7" cy="192.1" r="0.7"/>
<circle cx="295.8" cy="191.5" r="0.7"/>
<circle cx="295.0" cy="182.3" r="0.7"/>
<circle cx="303.5" cy="183.1" r="0.7"/>
<circle cx="293.5" cy="176.2" r="0.7"/>
<circle cx="297.3" cy="177.3" r="0.7"/>
</g>
<g fill="#a99ad8">
<polygon points="252.8,188.1 254.6,187.0 256.2,189.2 255.8,192.7 253.1,192.2" filter="url(#rough)"/>
<circle cx="256.1" cy="190.3" r="0.62"/><circle cx="253.2" cy="190.8" r="0.45"/><circle cx="255.5" cy="189.1" r="0.57"/><circle cx="255.8" cy="189.7" r="0.42"/><circle cx="252.5" cy="190.1" r="0.65"/><circle cx="254.8" cy="188.0" r="0.36"/>
</g>
<g fill="#a99ad8">
<polygon points="263.1,191.2 266.9,188.8 271.8,187.9 273.1,189.2 270.3,191.3 266.9,193.2 263.8,193.5" filter="url(#rough)"/>
<circle cx="271.5" cy="187.8" r="0.53"/><circle cx="265.7" cy="193.6" r="0.45"/><circle cx="264.7" cy="190.2" r="0.51"/><circle cx="266.4" cy="189.1" r="0.70"/><circle cx="267.1" cy="188.9" r="0.59"/><circle cx="265.9" cy="189.3" r="0.38"/><circle cx="272.3" cy="188.3" r="0.60"/><circle cx="270.2" cy="187.7" r="0.64"/><circle cx="264.0" cy="190.6" r="0.48"/><circle cx="266.8" cy="188.8" r="0.41"/>
</g>
<g fill="#a99ad8"><circle cx="259" cy="201.5" r="0.8"/><circle cx="262.5" cy="203" r="0.7"/><circle cx="297.5" cy="188" r="0.7"/><circle cx="303" cy="176" r="0.7"/></g>
<g fill="#3db560">
<polygon points="201.2,176.2 206.5,174.2 212.7,173.1 215.8,173.5 215.0,176.2 217.3,178.5 218.1,182.3 214.2,183.8 209.6,184.6 208.1,187.7 205.8,188.5 204.2,185.4 202.7,181.5" filter="url(#rough)"/>
<circle cx="217.9" cy="179.5" r="0.69"/><circle cx="208.4" cy="185.6" r="0.55"/><circle cx="205.7" cy="188.4" r="0.66"/><circle cx="201.3" cy="176.1" r="0.57"/><circle cx="204.8" cy="174.4" r="0.40"/><circle cx="203.7" cy="184.8" r="0.48"/><circle cx="213.3" cy="184.1" r="0.47"/><circle cx="216.1" cy="183.4" r="0.39"/><circle cx="214.4" cy="173.9" r="0.40"/><circle cx="209.4" cy="173.7" r="0.38"/><circle cx="203.3" cy="182.5" r="0.69"/><circle cx="215.1" cy="183.5" r="0.38"/><circle cx="217.4" cy="181.6" r="0.37"/><circle cx="204.9" cy="175.0" r="0.68"/><circle cx="205.5" cy="187.2" r="0.41"/><circle cx="212.5" cy="173.3" r="0.45"/><circle cx="212.3" cy="173.5" r="0.55"/><circle cx="206.8" cy="188.2" r="0.55"/><circle cx="215.5" cy="175.3" r="0.68"/><circle cx="211.7" cy="184.2" r="0.54"/><circle cx="208.6" cy="187.0" r="0.37"/><circle cx="201.9" cy="176.8" r="0.51"/><circle cx="202.7" cy="179.6" r="0.38"/><circle cx="209.7" cy="185.2" r="0.40"/><circle cx="215.9" cy="174.5" r="0.38"/>
</g>
<g fill="#2fb574">
<polygon points="241.2,165.5 246.5,162.7 251.6,160.7 255.0,161.5 261.2,163.9 262.7,165.8 262.1,169.6 262.4,173.5 260.8,175.9 258.1,176.8 255.3,175.3 252.7,171.9 250.1,168.1 245.8,166.5" filter="url(#rough)"/>
<circle cx="254.5" cy="161.0" r="0.55"/><circle cx="248.4" cy="167.1" r="0.68"/><circle cx="254.9" cy="162.4" r="0.67"/><circle cx="258.9" cy="162.9" r="0.43"/><circle cx="249.4" cy="168.1" r="0.43"/><circle cx="252.8" cy="171.9" r="0.55"/><circle cx="261.8" cy="174.4" r="0.60"/><circle cx="249.2" cy="167.8" r="0.63"/><circle cx="262.4" cy="167.7" r="0.62"/><circle cx="250.6" cy="168.9" r="0.36"/><circle cx="262.4" cy="174.3" r="0.40"/><circle cx="252.8" cy="171.4" r="0.43"/><circle cx="240.8" cy="165.5" r="0.65"/><circle cx="256.9" cy="162.1" r="0.36"/><circle cx="256.1" cy="162.4" r="0.37"/><circle cx="246.7" cy="166.3" r="0.70"/><circle cx="243.6" cy="163.4" r="0.41"/><circle cx="262.9" cy="166.8" r="0.51"/><circle cx="250.5" cy="169.1" r="0.61"/><circle cx="259.8" cy="163.5" r="0.57"/><circle cx="262.8" cy="166.2" r="0.46"/><circle cx="247.6" cy="162.1" r="0.43"/><circle cx="261.4" cy="163.8" r="0.42"/><circle cx="250.2" cy="167.9" r="0.63"/><circle cx="257.8" cy="176.5" r="0.58"/>
</g>
<g fill="#2fb574">
<polygon points="227.1,167.8 234.0,166.0 241.7,164.1 247.6,162.4 247.0,160.7 241.3,162.8 233.7,164.8 226.8,166.8" filter="url(#rough2)"/>
<circle cx="241.5" cy="162.7" r="0.39"/><circle cx="227.3" cy="167.4" r="0.66"/><circle cx="227.0" cy="167.0" r="0.55"/><circle cx="228.1" cy="167.6" r="0.45"/><circle cx="246.5" cy="163.2" r="0.62"/><circle cx="232.6" cy="164.8" r="0.63"/><circle cx="237.5" cy="164.1" r="0.64"/><circle cx="237.8" cy="165.1" r="0.56"/><circle cx="231.9" cy="166.5" r="0.39"/><circle cx="230.3" cy="166.3" r="0.61"/>
</g>
<g fill="#c05fae">
<polygon points="219.2,145.4 221.5,143.1 225.4,141.5 230.0,141.2 235.4,141.5 239.6,143.1 240.4,145.4 237.7,148.1 233.1,149.2 228.5,148.5 223.8,148.1 220.8,147.3" filter="url(#rough)"/>
<circle cx="237.1" cy="148.1" r="0.63"/><circle cx="226.8" cy="141.3" r="0.42"/><circle cx="228.6" cy="140.4" r="0.50"/><circle cx="226.5" cy="141.8" r="0.48"/><circle cx="223.3" cy="148.0" r="0.57"/><circle cx="226.2" cy="141.8" r="0.37"/><circle cx="232.1" cy="141.1" r="0.44"/><circle cx="221.5" cy="142.9" r="0.35"/><circle cx="220.2" cy="145.8" r="0.46"/><circle cx="229.5" cy="148.1" r="0.36"/><circle cx="230.8" cy="141.5" r="0.55"/><circle cx="226.9" cy="141.5" r="0.49"/><circle cx="223.7" cy="142.3" r="0.64"/><circle cx="228.3" cy="141.2" r="0.36"/><circle cx="239.2" cy="146.4" r="0.57"/><circle cx="231.0" cy="148.8" r="0.53"/><circle cx="233.4" cy="149.2" r="0.61"/><circle cx="229.9" cy="148.8" r="0.41"/><circle cx="232.0" cy="141.3" r="0.46"/><circle cx="224.8" cy="141.6" r="0.64"/><circle cx="221.0" cy="143.8" r="0.64"/><circle cx="237.4" cy="141.7" r="0.55"/>
</g>
<path d="M217.3 148.9 L221.5 146.5 M236 149 L238.5 150.3" stroke="#c05fae" stroke-width="0.7" fill="none"/>
<g fill="#e2655c">
<polygon points="289.5,117.5 292.0,115.0 297.0,115.0 299.5,117.5 298.8,121.0 294.5,122.0 290.5,121.0" filter="url(#rough)"/>
<circle cx="297.7" cy="116.0" r="0.37"/><circle cx="296.5" cy="121.8" r="0.57"/><circle cx="298.8" cy="116.7" r="0.63"/><circle cx="298.7" cy="116.1" r="0.35"/><circle cx="297.4" cy="115.5" r="0.40"/><circle cx="289.2" cy="118.0" r="0.50"/><circle cx="289.6" cy="117.9" r="0.58"/><circle cx="295.3" cy="121.7" r="0.41"/><circle cx="299.2" cy="118.8" r="0.40"/><circle cx="290.2" cy="116.7" r="0.36"/>
</g>
<circle cx="291.5" cy="121.5" r="0.9" fill="#54b640"/>
<g fill="#d6b93e">
<polygon points="281.2,133.8 283.8,132.0 286.5,133.0 286.2,137.0 283.8,139.0 281.2,137.5" filter="url(#rough)"/>
<circle cx="282.6" cy="132.1" r="0.47"/><circle cx="281.8" cy="137.7" r="0.68"/><circle cx="282.4" cy="133.5" r="0.47"/><circle cx="282.7" cy="132.4" r="0.56"/><circle cx="285.9" cy="135.1" r="0.55"/><circle cx="286.7" cy="132.9" r="0.43"/><circle cx="285.1" cy="137.6" r="0.46"/><circle cx="285.5" cy="137.3" r="0.66"/>
</g>
<g fill="#5b8fc8">
<circle cx="359.5" cy="112.0" r="0.7"/>
<circle cx="361.2" cy="113.0" r="0.7"/>
<circle cx="368.0" cy="117.5" r="0.7"/>
<circle cx="369.5" cy="118.2" r="0.7"/>
<circle cx="366.2" cy="116.5" r="0.7"/>
</g>
<path d="M71.5 270.8 L76 272 L80.5 274.2" stroke="#6f8aa0" stroke-width="0.9" fill="none"/>
<circle cx="130.8" cy="138.5" r="0.8" fill="#8a8a8a"/>
</g>
<g class="lab"><text x="213.0" y="83.0">RBC</text><text x="295.5" y="121.5">AML_HSC_3</text><text x="365.0" y="117.2">Megs</text><text x="290.0" y="136.4">HSC</text><text x="230.0" y="148.0">pDC</text><text x="254.0" y="169.8">AML_Mono_3</text><text x="309.7" y="174.6">AML_GMP_1</text><text x="207.9" y="183.9">GMP</text><text x="443.8" y="171.6">T</text><text x="153.9" y="201.4">Mono</text><text x="241.3" y="201.1">AML_GMP_2</text><text x="433.5" y="219.1">NK</text><text x="264.1" y="240.0">AML_HSC_1</text><text x="323.8" y="242.3">AML_HSC_2</text><text x="75.4" y="270.9">Plasma</text><text x="398.3" y="303.9">B</text><text x="255.0" y="316.4">AML_Mono_2</text><text x="102.7" y="319.4">AML_Mono_1</text></g>
<g class="tk"><path d="M44.0 44 V342.9 H512" fill="none" stroke="#4a4a4a" stroke-width="1.3"/><path d="M44.0 53.3 h-3.6" stroke="#4a4a4a" stroke-width="1.1"/><text x="38.4" y="57.2" text-anchor="end">15</text><path d="M44.0 103.8 h-3.6" stroke="#4a4a4a" stroke-width="1.1"/><text x="38.4" y="107.7" text-anchor="end">10</text><path d="M44.0 154.3 h-3.6" stroke="#4a4a4a" stroke-width="1.1"/><text x="38.4" y="158.2" text-anchor="end">5</text><path d="M44.0 204.8 h-3.6" stroke="#4a4a4a" stroke-width="1.1"/><text x="38.4" y="208.7" text-anchor="end">0</text><path d="M44.0 255.3 h-3.6" stroke="#4a4a4a" stroke-width="1.1"/><text x="38.4" y="259.2" text-anchor="end">-5</text><path d="M44.0 305.8 h-3.6" stroke="#4a4a4a" stroke-width="1.1"/><text x="38.4" y="309.7" text-anchor="end">-10</text><path d="M112.7 342.9 v3.2" stroke="#4a4a4a" stroke-width="1.1"/><text x="112.7" y="355.5" text-anchor="middle">-10</text><path d="M193.2 342.9 v3.2" stroke="#4a4a4a" stroke-width="1.1"/><text x="193.2" y="355.5" text-anchor="middle">-5</text><path d="M273.7 342.9 v3.2" stroke="#4a4a4a" stroke-width="1.1"/><text x="273.7" y="355.5" text-anchor="middle">0</text><path d="M354.2 342.9 v3.2" stroke="#4a4a4a" stroke-width="1.1"/><text x="354.2" y="355.5" text-anchor="middle">5</text><path d="M434.7 342.9 v3.2" stroke="#4a4a4a" stroke-width="1.1"/><text x="434.7" y="355.5" text-anchor="middle">10</text></g>
<text x="277.3" y="368.5" font-size="11.1" text-anchor="middle" fill="#000">UMAP_1</text>
<text transform="translate(19.8,193.7) rotate(-90)" font-size="11.1" text-anchor="middle" fill="#000">UMAP_2</text>
<text x="294" y="457.4" font-size="17.22" text-anchor="middle" fill="#000">AUC:0.918 (95% CI: 0.9149−0.9214 (DeLong))</text>
<g id="roc"><path d="M161.22 468.1 V756.9 M115.1 514.06 H405.2" stroke="#f0f0f0" stroke-width="0.6"/><path d="M227.16 468.1 V756.9 M115.1 579.69 H405.2" stroke="#f0f0f0" stroke-width="0.6"/><path d="M293.09 468.1 V756.9 M115.1 645.31 H405.2" stroke="#f0f0f0" stroke-width="0.6"/><path d="M359.03 468.1 V756.9 M115.1 710.94 H405.2" stroke="#f0f0f0" stroke-width="0.6"/><path d="M128.25 468.1 V756.9 M115.1 481.25 H405.2" stroke="#e8e8e8" stroke-width="1"/><path d="M194.19 468.1 V756.9 M115.1 546.88 H405.2" stroke="#e8e8e8" stroke-width="1"/><path d="M260.12 468.1 V756.9 M115.1 612.50 H405.2" stroke="#e8e8e8" stroke-width="1"/><path d="M326.06 468.1 V756.9 M115.1 678.12 H405.2" stroke="#e8e8e8" stroke-width="1"/><path d="M392.00 468.1 V756.9 M115.1 743.75 H405.2" stroke="#e8e8e8" stroke-width="1"/><path d="M115.1 756.9 L405.2 468.1" stroke="#cdcdcd" stroke-width="1.6" stroke-dasharray="5.6 4.6"/><path d="M161.2 491.8 L172.5 491.2 L162.3 503 Z" fill="#a0b5d5"/><path d="M128.25 743.75 L161.25 491.25 L392.00 481.25" fill="none" stroke="#202833" stroke-width="1.4" stroke-linejoin="miter"/></g>
<g class="rtk"><text x="108.8" y="485.6" text-anchor="end">1.00</text><text x="128.2" y="772.3" text-anchor="middle">1.00</text><text x="108.8" y="551.2" text-anchor="end">0.75</text><text x="194.2" y="772.3" text-anchor="middle">0.75</text><text x="108.8" y="616.8" text-anchor="end">0.50</text><text x="260.1" y="772.3" text-anchor="middle">0.50</text><text x="108.8" y="682.4" text-anchor="end">0.25</text><text x="326.1" y="772.3" text-anchor="middle">0.25</text><text x="108.8" y="748.0" text-anchor="end">0.00</text><text x="392.0" y="772.3" text-anchor="middle">0.00</text></g>
<text x="260.5" y="789.5" font-size="14.5" text-anchor="middle" fill="#000">specificity</text>
<text transform="translate(78.8,613) rotate(-90)" font-size="14.5" text-anchor="middle" fill="#000">sensitivity</text>
</svg>
</body></html>
